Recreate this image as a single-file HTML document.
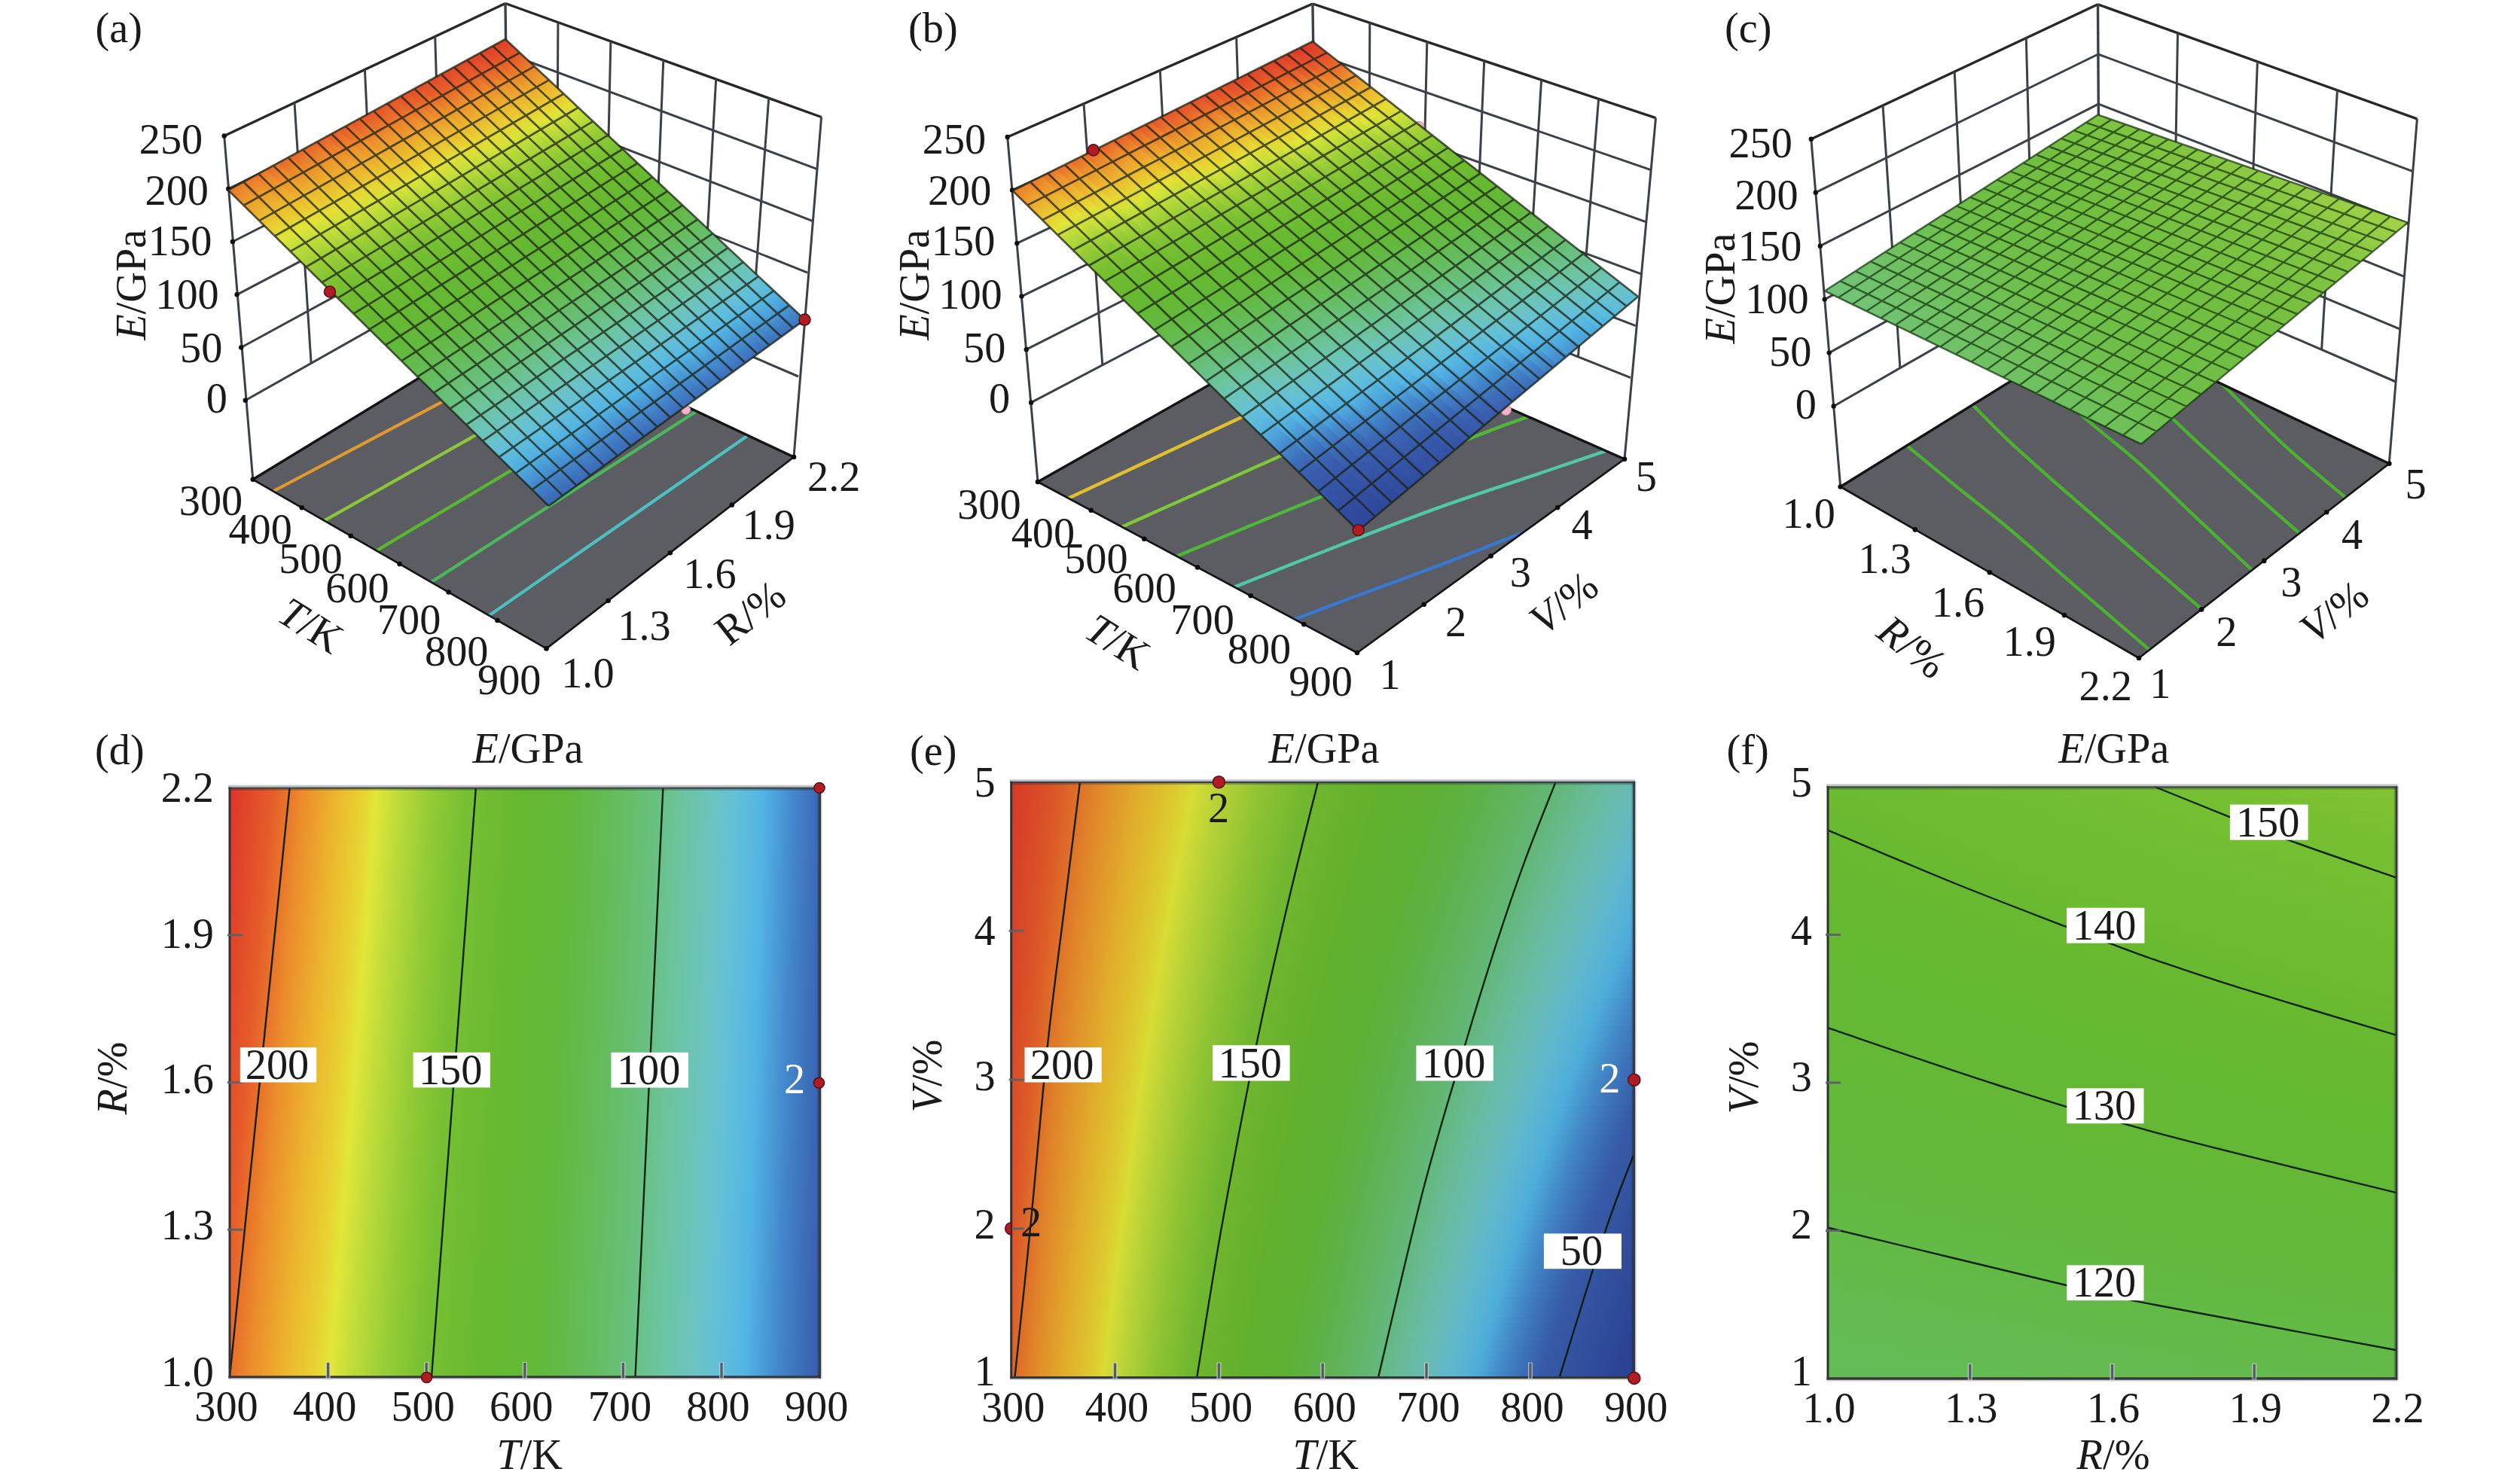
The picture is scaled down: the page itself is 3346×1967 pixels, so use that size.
<!DOCTYPE html>
<html lang="en"><head><meta charset="utf-8"><title>Response surfaces of E</title>
<style>html,body{margin:0;padding:0;background:#fff}svg{display:block}text{font-family:"Liberation Serif", "DejaVu Serif", serif;}</style></head>
<body>
<svg width="3346" height="1967" viewBox="0 0 3346 1967">
<rect width="3346" height="1967" fill="#fff"/>
<defs>
<linearGradient id="cm" gradientUnits="userSpaceOnUse"><stop offset="0.0000" stop-color="#d02428"/><stop offset="0.1091" stop-color="#dc302a"/><stop offset="0.1682" stop-color="#e65c2a"/><stop offset="0.2059" stop-color="#ec8e2c"/><stop offset="0.2468" stop-color="#ecb82e"/><stop offset="0.2741" stop-color="#e8d032"/><stop offset="0.2936" stop-color="#e2e638"/><stop offset="0.3182" stop-color="#c0dc3a"/><stop offset="0.3568" stop-color="#96cc36"/><stop offset="0.3977" stop-color="#78c032"/><stop offset="0.4668" stop-color="#66b830"/><stop offset="0.5227" stop-color="#62b838"/><stop offset="0.5773" stop-color="#64bc58"/><stop offset="0.6318" stop-color="#68c080"/><stop offset="0.6591" stop-color="#6cc49c"/><stop offset="0.7005" stop-color="#6cc4c0"/><stop offset="0.7273" stop-color="#64c0d8"/><stop offset="0.7605" stop-color="#52b4e4"/><stop offset="0.7959" stop-color="#4488cc"/><stop offset="0.8245" stop-color="#3c6cb8"/><stop offset="0.8391" stop-color="#3a60b0"/><stop offset="0.8727" stop-color="#3656a8"/><stop offset="0.9318" stop-color="#30489c"/><stop offset="1.0000" stop-color="#2c4094"/></linearGradient>
<clipPath id="c1"><polygon points="335.8,636.8 725.5,861.4 1054,607 676,429"/></clipPath>
<linearGradient id="g2" gradientUnits="userSpaceOnUse" x1="311.4" y1="247.9" x2="736.3" y2="666.3"><stop offset="0.000" stop-color="#e9782b"/><stop offset="0.032" stop-color="#ec932c"/><stop offset="0.064" stop-color="#eca92d"/><stop offset="0.097" stop-color="#ebbe2f"/><stop offset="0.129" stop-color="#e8d132"/><stop offset="0.162" stop-color="#dee538"/><stop offset="0.194" stop-color="#c0dc3a"/><stop offset="0.227" stop-color="#a9d338"/><stop offset="0.259" stop-color="#93cb36"/><stop offset="0.292" stop-color="#83c534"/><stop offset="0.325" stop-color="#76bf32"/><stop offset="0.358" stop-color="#71bd31"/><stop offset="0.391" stop-color="#6bba31"/><stop offset="0.424" stop-color="#66b830"/><stop offset="0.457" stop-color="#64b833"/><stop offset="0.491" stop-color="#63b836"/><stop offset="0.524" stop-color="#62b93d"/><stop offset="0.558" stop-color="#63ba4a"/><stop offset="0.591" stop-color="#64bc57"/><stop offset="0.625" stop-color="#65bd66"/><stop offset="0.658" stop-color="#67bf76"/><stop offset="0.692" stop-color="#69c187"/><stop offset="0.726" stop-color="#6cc49d"/><stop offset="0.760" stop-color="#6cc4b0"/><stop offset="0.794" stop-color="#6bc4c2"/><stop offset="0.828" stop-color="#65c0d6"/><stop offset="0.862" stop-color="#5ab9df"/><stop offset="0.897" stop-color="#4fabdf"/><stop offset="0.931" stop-color="#4791d1"/><stop offset="0.965" stop-color="#407ac2"/><stop offset="1.000" stop-color="#3b66b4"/></linearGradient>
<linearGradient id="g3" gradientUnits="userSpaceOnUse" x1="328.2" y1="238.8" x2="751.8" y2="655"><stop offset="0.000" stop-color="#e9752b"/><stop offset="0.032" stop-color="#ec912c"/><stop offset="0.064" stop-color="#eca72d"/><stop offset="0.097" stop-color="#ebbc2f"/><stop offset="0.129" stop-color="#e8cf32"/><stop offset="0.162" stop-color="#e1e638"/><stop offset="0.194" stop-color="#c3dd3a"/><stop offset="0.227" stop-color="#abd438"/><stop offset="0.260" stop-color="#95cb36"/><stop offset="0.292" stop-color="#85c534"/><stop offset="0.325" stop-color="#77c032"/><stop offset="0.358" stop-color="#71bd31"/><stop offset="0.391" stop-color="#6cbb31"/><stop offset="0.424" stop-color="#66b830"/><stop offset="0.457" stop-color="#65b833"/><stop offset="0.491" stop-color="#63b836"/><stop offset="0.524" stop-color="#62b93d"/><stop offset="0.558" stop-color="#63ba49"/><stop offset="0.591" stop-color="#64bc56"/><stop offset="0.625" stop-color="#65bd65"/><stop offset="0.658" stop-color="#67bf75"/><stop offset="0.692" stop-color="#69c186"/><stop offset="0.726" stop-color="#6cc49c"/><stop offset="0.760" stop-color="#6cc4af"/><stop offset="0.794" stop-color="#6bc4c2"/><stop offset="0.828" stop-color="#65c1d5"/><stop offset="0.862" stop-color="#5abade"/><stop offset="0.897" stop-color="#50ace0"/><stop offset="0.931" stop-color="#4792d1"/><stop offset="0.965" stop-color="#407bc3"/><stop offset="1.000" stop-color="#3b67b4"/></linearGradient>
<linearGradient id="g4" gradientUnits="userSpaceOnUse" x1="344.8" y1="229.7" x2="767.2" y2="643.8"><stop offset="0.000" stop-color="#e9712b"/><stop offset="0.032" stop-color="#ec8e2c"/><stop offset="0.064" stop-color="#eca42d"/><stop offset="0.097" stop-color="#ecba2e"/><stop offset="0.129" stop-color="#e9cd31"/><stop offset="0.162" stop-color="#e3e437"/><stop offset="0.194" stop-color="#c6de3a"/><stop offset="0.227" stop-color="#aed538"/><stop offset="0.260" stop-color="#96cc36"/><stop offset="0.292" stop-color="#86c634"/><stop offset="0.325" stop-color="#77c032"/><stop offset="0.358" stop-color="#72bd31"/><stop offset="0.391" stop-color="#6cbb31"/><stop offset="0.424" stop-color="#67b830"/><stop offset="0.458" stop-color="#65b833"/><stop offset="0.491" stop-color="#63b836"/><stop offset="0.524" stop-color="#62b83c"/><stop offset="0.558" stop-color="#63ba48"/><stop offset="0.591" stop-color="#64bc55"/><stop offset="0.625" stop-color="#65bd64"/><stop offset="0.658" stop-color="#67bf74"/><stop offset="0.692" stop-color="#69c185"/><stop offset="0.726" stop-color="#6cc49b"/><stop offset="0.760" stop-color="#6cc4ae"/><stop offset="0.794" stop-color="#6cc4c1"/><stop offset="0.828" stop-color="#65c1d4"/><stop offset="0.862" stop-color="#5bbade"/><stop offset="0.897" stop-color="#50ade0"/><stop offset="0.931" stop-color="#4793d2"/><stop offset="0.965" stop-color="#407bc3"/><stop offset="1.000" stop-color="#3b67b5"/></linearGradient>
<linearGradient id="g5" gradientUnits="userSpaceOnUse" x1="361.3" y1="220.8" x2="782.5" y2="632.7"><stop offset="0.000" stop-color="#e86e2b"/><stop offset="0.032" stop-color="#ec8a2c"/><stop offset="0.064" stop-color="#eca12d"/><stop offset="0.097" stop-color="#ecb82e"/><stop offset="0.129" stop-color="#e9cb31"/><stop offset="0.162" stop-color="#e3e237"/><stop offset="0.194" stop-color="#cadf39"/><stop offset="0.227" stop-color="#b0d638"/><stop offset="0.260" stop-color="#99cd36"/><stop offset="0.292" stop-color="#88c634"/><stop offset="0.325" stop-color="#78c032"/><stop offset="0.358" stop-color="#72be31"/><stop offset="0.391" stop-color="#6dbb31"/><stop offset="0.424" stop-color="#67b830"/><stop offset="0.458" stop-color="#65b832"/><stop offset="0.491" stop-color="#63b836"/><stop offset="0.524" stop-color="#62b83b"/><stop offset="0.558" stop-color="#63ba47"/><stop offset="0.591" stop-color="#64bc54"/><stop offset="0.625" stop-color="#65bd63"/><stop offset="0.658" stop-color="#67bf73"/><stop offset="0.692" stop-color="#69c184"/><stop offset="0.726" stop-color="#6cc49a"/><stop offset="0.760" stop-color="#6cc4ad"/><stop offset="0.794" stop-color="#6cc4c0"/><stop offset="0.828" stop-color="#66c1d3"/><stop offset="0.862" stop-color="#5bbade"/><stop offset="0.897" stop-color="#50aee1"/><stop offset="0.931" stop-color="#4894d2"/><stop offset="0.965" stop-color="#417cc3"/><stop offset="1.000" stop-color="#3b68b5"/></linearGradient>
<linearGradient id="g6" gradientUnits="userSpaceOnUse" x1="377.6" y1="211.9" x2="797.6" y2="621.7"><stop offset="0.000" stop-color="#e86a2b"/><stop offset="0.032" stop-color="#eb872c"/><stop offset="0.064" stop-color="#ec9f2d"/><stop offset="0.097" stop-color="#ecb52e"/><stop offset="0.129" stop-color="#e9c931"/><stop offset="0.162" stop-color="#e4df36"/><stop offset="0.194" stop-color="#cde039"/><stop offset="0.227" stop-color="#b2d739"/><stop offset="0.260" stop-color="#9bce36"/><stop offset="0.292" stop-color="#89c734"/><stop offset="0.325" stop-color="#79c132"/><stop offset="0.358" stop-color="#73be31"/><stop offset="0.391" stop-color="#6dbb31"/><stop offset="0.424" stop-color="#68b930"/><stop offset="0.458" stop-color="#65b832"/><stop offset="0.491" stop-color="#63b835"/><stop offset="0.524" stop-color="#62b83a"/><stop offset="0.558" stop-color="#63ba47"/><stop offset="0.591" stop-color="#64bb53"/><stop offset="0.625" stop-color="#65bd62"/><stop offset="0.659" stop-color="#67bf72"/><stop offset="0.692" stop-color="#68c082"/><stop offset="0.726" stop-color="#6cc499"/><stop offset="0.760" stop-color="#6cc4ac"/><stop offset="0.794" stop-color="#6cc4bf"/><stop offset="0.828" stop-color="#66c1d2"/><stop offset="0.862" stop-color="#5cbade"/><stop offset="0.897" stop-color="#51afe1"/><stop offset="0.931" stop-color="#4894d3"/><stop offset="0.965" stop-color="#417dc4"/><stop offset="1.000" stop-color="#3b68b5"/></linearGradient>
<linearGradient id="g7" gradientUnits="userSpaceOnUse" x1="393.8" y1="203" x2="812.6" y2="610.8"><stop offset="0.000" stop-color="#e7672a"/><stop offset="0.032" stop-color="#eb842c"/><stop offset="0.064" stop-color="#ec9c2d"/><stop offset="0.097" stop-color="#ecb32e"/><stop offset="0.129" stop-color="#eac730"/><stop offset="0.162" stop-color="#e5dc35"/><stop offset="0.194" stop-color="#d0e139"/><stop offset="0.227" stop-color="#b5d839"/><stop offset="0.260" stop-color="#9dcf37"/><stop offset="0.292" stop-color="#8bc835"/><stop offset="0.325" stop-color="#7bc132"/><stop offset="0.358" stop-color="#73be31"/><stop offset="0.391" stop-color="#6ebb31"/><stop offset="0.424" stop-color="#68b930"/><stop offset="0.458" stop-color="#65b832"/><stop offset="0.491" stop-color="#63b835"/><stop offset="0.524" stop-color="#62b839"/><stop offset="0.558" stop-color="#63ba46"/><stop offset="0.591" stop-color="#64bb52"/><stop offset="0.625" stop-color="#65bd61"/><stop offset="0.659" stop-color="#66be71"/><stop offset="0.692" stop-color="#68c081"/><stop offset="0.726" stop-color="#6bc398"/><stop offset="0.760" stop-color="#6cc4ab"/><stop offset="0.794" stop-color="#6cc4be"/><stop offset="0.828" stop-color="#66c1d1"/><stop offset="0.862" stop-color="#5cbbdd"/><stop offset="0.897" stop-color="#51b0e2"/><stop offset="0.931" stop-color="#4895d3"/><stop offset="0.965" stop-color="#417dc4"/><stop offset="1.000" stop-color="#3b69b6"/></linearGradient>
<linearGradient id="g8" gradientUnits="userSpaceOnUse" x1="409.9" y1="194.3" x2="827.5" y2="600"><stop offset="0.000" stop-color="#e7632a"/><stop offset="0.032" stop-color="#ea802b"/><stop offset="0.064" stop-color="#ec9a2d"/><stop offset="0.097" stop-color="#ecb02e"/><stop offset="0.129" stop-color="#eac430"/><stop offset="0.162" stop-color="#e5da35"/><stop offset="0.194" stop-color="#d3e239"/><stop offset="0.227" stop-color="#b7d939"/><stop offset="0.260" stop-color="#9fd037"/><stop offset="0.292" stop-color="#8cc835"/><stop offset="0.325" stop-color="#7cc233"/><stop offset="0.358" stop-color="#74be32"/><stop offset="0.391" stop-color="#6ebc31"/><stop offset="0.424" stop-color="#68b930"/><stop offset="0.458" stop-color="#65b832"/><stop offset="0.491" stop-color="#64b835"/><stop offset="0.524" stop-color="#62b838"/><stop offset="0.558" stop-color="#63ba45"/><stop offset="0.591" stop-color="#64bb52"/><stop offset="0.625" stop-color="#65bd60"/><stop offset="0.659" stop-color="#66be70"/><stop offset="0.692" stop-color="#68c080"/><stop offset="0.726" stop-color="#6bc396"/><stop offset="0.760" stop-color="#6cc4aa"/><stop offset="0.794" stop-color="#6cc4bd"/><stop offset="0.828" stop-color="#66c1d1"/><stop offset="0.862" stop-color="#5dbbdd"/><stop offset="0.897" stop-color="#51b1e2"/><stop offset="0.931" stop-color="#4996d4"/><stop offset="0.965" stop-color="#417ec5"/><stop offset="1.000" stop-color="#3c69b6"/></linearGradient>
<linearGradient id="g9" gradientUnits="userSpaceOnUse" x1="425.8" y1="185.6" x2="842.2" y2="589.3"><stop offset="0.000" stop-color="#e6602a"/><stop offset="0.032" stop-color="#ea7d2b"/><stop offset="0.064" stop-color="#ec972c"/><stop offset="0.097" stop-color="#ecae2e"/><stop offset="0.129" stop-color="#eac230"/><stop offset="0.162" stop-color="#e6d734"/><stop offset="0.194" stop-color="#d6e239"/><stop offset="0.227" stop-color="#b9da39"/><stop offset="0.260" stop-color="#a2d037"/><stop offset="0.292" stop-color="#8ec935"/><stop offset="0.325" stop-color="#7ec233"/><stop offset="0.358" stop-color="#74be32"/><stop offset="0.391" stop-color="#6fbc31"/><stop offset="0.425" stop-color="#69b930"/><stop offset="0.458" stop-color="#65b832"/><stop offset="0.491" stop-color="#64b835"/><stop offset="0.524" stop-color="#62b838"/><stop offset="0.558" stop-color="#63b944"/><stop offset="0.591" stop-color="#64bb51"/><stop offset="0.625" stop-color="#65bd5f"/><stop offset="0.659" stop-color="#66be6f"/><stop offset="0.692" stop-color="#68c07f"/><stop offset="0.726" stop-color="#6bc395"/><stop offset="0.760" stop-color="#6cc4a9"/><stop offset="0.794" stop-color="#6cc4bc"/><stop offset="0.828" stop-color="#67c1d0"/><stop offset="0.862" stop-color="#5dbbdd"/><stop offset="0.897" stop-color="#51b2e3"/><stop offset="0.931" stop-color="#4997d4"/><stop offset="0.965" stop-color="#417ec5"/><stop offset="1.000" stop-color="#3c6ab6"/></linearGradient>
<linearGradient id="g10" gradientUnits="userSpaceOnUse" x1="441.6" y1="177" x2="856.8" y2="578.6"><stop offset="0.000" stop-color="#e65c2a"/><stop offset="0.032" stop-color="#ea792b"/><stop offset="0.064" stop-color="#ec952c"/><stop offset="0.097" stop-color="#ecab2d"/><stop offset="0.129" stop-color="#ebc02f"/><stop offset="0.162" stop-color="#e7d533"/><stop offset="0.194" stop-color="#d9e339"/><stop offset="0.227" stop-color="#bcda3a"/><stop offset="0.260" stop-color="#a4d137"/><stop offset="0.293" stop-color="#8fc935"/><stop offset="0.325" stop-color="#7fc333"/><stop offset="0.358" stop-color="#75bf32"/><stop offset="0.391" stop-color="#6fbc31"/><stop offset="0.425" stop-color="#69ba30"/><stop offset="0.458" stop-color="#65b831"/><stop offset="0.491" stop-color="#64b834"/><stop offset="0.524" stop-color="#62b838"/><stop offset="0.558" stop-color="#63b943"/><stop offset="0.591" stop-color="#63bb50"/><stop offset="0.625" stop-color="#65bd5e"/><stop offset="0.659" stop-color="#66be6e"/><stop offset="0.692" stop-color="#68c07e"/><stop offset="0.726" stop-color="#6bc394"/><stop offset="0.760" stop-color="#6cc4a8"/><stop offset="0.794" stop-color="#6cc4bb"/><stop offset="0.828" stop-color="#67c1cf"/><stop offset="0.862" stop-color="#5ebcdc"/><stop offset="0.897" stop-color="#52b3e4"/><stop offset="0.931" stop-color="#4998d5"/><stop offset="0.965" stop-color="#417fc6"/><stop offset="1.000" stop-color="#3c6ab7"/></linearGradient>
<linearGradient id="g11" gradientUnits="userSpaceOnUse" x1="457.3" y1="168.5" x2="871.3" y2="568.1"><stop offset="0.000" stop-color="#e65a2a"/><stop offset="0.032" stop-color="#e9762b"/><stop offset="0.064" stop-color="#ec922c"/><stop offset="0.097" stop-color="#eca92d"/><stop offset="0.129" stop-color="#ebbe2f"/><stop offset="0.162" stop-color="#e7d233"/><stop offset="0.194" stop-color="#dce438"/><stop offset="0.227" stop-color="#bedb3a"/><stop offset="0.260" stop-color="#a6d238"/><stop offset="0.293" stop-color="#91ca35"/><stop offset="0.325" stop-color="#81c333"/><stop offset="0.358" stop-color="#75bf32"/><stop offset="0.391" stop-color="#70bc31"/><stop offset="0.425" stop-color="#6aba30"/><stop offset="0.458" stop-color="#65b831"/><stop offset="0.491" stop-color="#64b834"/><stop offset="0.524" stop-color="#62b837"/><stop offset="0.558" stop-color="#63b942"/><stop offset="0.591" stop-color="#63bb4f"/><stop offset="0.625" stop-color="#65bd5d"/><stop offset="0.659" stop-color="#66be6d"/><stop offset="0.692" stop-color="#68c07d"/><stop offset="0.726" stop-color="#6bc393"/><stop offset="0.760" stop-color="#6cc4a7"/><stop offset="0.794" stop-color="#6cc4bb"/><stop offset="0.828" stop-color="#67c2ce"/><stop offset="0.862" stop-color="#5ebcdc"/><stop offset="0.897" stop-color="#52b4e4"/><stop offset="0.931" stop-color="#4999d5"/><stop offset="0.965" stop-color="#4280c6"/><stop offset="1.000" stop-color="#3c6ab7"/></linearGradient>
<linearGradient id="g12" gradientUnits="userSpaceOnUse" x1="472.8" y1="160" x2="885.7" y2="557.6"><stop offset="0.000" stop-color="#e5582a"/><stop offset="0.032" stop-color="#e9732b"/><stop offset="0.064" stop-color="#ec8f2c"/><stop offset="0.097" stop-color="#eca62d"/><stop offset="0.129" stop-color="#ebbc2f"/><stop offset="0.162" stop-color="#e8d032"/><stop offset="0.194" stop-color="#dfe538"/><stop offset="0.227" stop-color="#c1dc3a"/><stop offset="0.260" stop-color="#a8d338"/><stop offset="0.293" stop-color="#92cb36"/><stop offset="0.325" stop-color="#82c433"/><stop offset="0.358" stop-color="#76bf32"/><stop offset="0.391" stop-color="#70bc31"/><stop offset="0.425" stop-color="#6aba30"/><stop offset="0.458" stop-color="#66b831"/><stop offset="0.491" stop-color="#64b834"/><stop offset="0.524" stop-color="#62b837"/><stop offset="0.558" stop-color="#63b941"/><stop offset="0.591" stop-color="#63bb4e"/><stop offset="0.625" stop-color="#64bc5c"/><stop offset="0.659" stop-color="#66be6c"/><stop offset="0.692" stop-color="#68c07c"/><stop offset="0.726" stop-color="#6bc392"/><stop offset="0.760" stop-color="#6cc4a7"/><stop offset="0.794" stop-color="#6cc4ba"/><stop offset="0.828" stop-color="#68c2cd"/><stop offset="0.863" stop-color="#5ebcdc"/><stop offset="0.897" stop-color="#52b4e4"/><stop offset="0.931" stop-color="#4a9ad6"/><stop offset="0.966" stop-color="#4280c7"/><stop offset="1.000" stop-color="#3c6bb7"/></linearGradient>
<linearGradient id="g13" gradientUnits="userSpaceOnUse" x1="488.2" y1="151.6" x2="899.9" y2="547.3"><stop offset="0.000" stop-color="#e5562a"/><stop offset="0.032" stop-color="#e86f2b"/><stop offset="0.064" stop-color="#ec8c2c"/><stop offset="0.097" stop-color="#eca42d"/><stop offset="0.129" stop-color="#ecba2e"/><stop offset="0.162" stop-color="#e8cd32"/><stop offset="0.194" stop-color="#e2e638"/><stop offset="0.227" stop-color="#c4dd3a"/><stop offset="0.260" stop-color="#abd438"/><stop offset="0.293" stop-color="#94cb36"/><stop offset="0.326" stop-color="#84c534"/><stop offset="0.358" stop-color="#76bf32"/><stop offset="0.392" stop-color="#71bd31"/><stop offset="0.425" stop-color="#6bba31"/><stop offset="0.458" stop-color="#66b831"/><stop offset="0.491" stop-color="#64b834"/><stop offset="0.525" stop-color="#63b837"/><stop offset="0.558" stop-color="#63b940"/><stop offset="0.591" stop-color="#63bb4d"/><stop offset="0.625" stop-color="#64bc5b"/><stop offset="0.659" stop-color="#66be6b"/><stop offset="0.693" stop-color="#68c07c"/><stop offset="0.726" stop-color="#6ac291"/><stop offset="0.760" stop-color="#6cc4a6"/><stop offset="0.794" stop-color="#6cc4b9"/><stop offset="0.828" stop-color="#68c2cd"/><stop offset="0.863" stop-color="#5fbddb"/><stop offset="0.897" stop-color="#53b5e3"/><stop offset="0.931" stop-color="#4a9bd6"/><stop offset="0.966" stop-color="#4281c7"/><stop offset="1.000" stop-color="#3c6bb8"/></linearGradient>
<linearGradient id="g14" gradientUnits="userSpaceOnUse" x1="503.5" y1="143.2" x2="914.1" y2="537"><stop offset="0.000" stop-color="#e4542a"/><stop offset="0.032" stop-color="#e86c2b"/><stop offset="0.065" stop-color="#eb892c"/><stop offset="0.097" stop-color="#eca12d"/><stop offset="0.129" stop-color="#ecb82e"/><stop offset="0.162" stop-color="#e9cb31"/><stop offset="0.194" stop-color="#e3e337"/><stop offset="0.227" stop-color="#c7de3a"/><stop offset="0.260" stop-color="#add538"/><stop offset="0.293" stop-color="#95cc36"/><stop offset="0.326" stop-color="#85c534"/><stop offset="0.359" stop-color="#77bf32"/><stop offset="0.392" stop-color="#71bd31"/><stop offset="0.425" stop-color="#6bba31"/><stop offset="0.458" stop-color="#66b830"/><stop offset="0.491" stop-color="#64b833"/><stop offset="0.525" stop-color="#63b837"/><stop offset="0.558" stop-color="#62b940"/><stop offset="0.592" stop-color="#63bb4d"/><stop offset="0.625" stop-color="#64bc5a"/><stop offset="0.659" stop-color="#66be6a"/><stop offset="0.693" stop-color="#67bf7b"/><stop offset="0.726" stop-color="#6ac28f"/><stop offset="0.760" stop-color="#6cc4a5"/><stop offset="0.794" stop-color="#6cc4b8"/><stop offset="0.828" stop-color="#68c2cc"/><stop offset="0.863" stop-color="#5fbddb"/><stop offset="0.897" stop-color="#53b5e3"/><stop offset="0.931" stop-color="#4a9bd7"/><stop offset="0.966" stop-color="#4282c7"/><stop offset="1.000" stop-color="#3c6cb8"/></linearGradient>
<linearGradient id="g15" gradientUnits="userSpaceOnUse" x1="518.7" y1="135" x2="928.1" y2="526.8"><stop offset="0.000" stop-color="#e4522a"/><stop offset="0.032" stop-color="#e7682a"/><stop offset="0.065" stop-color="#eb862c"/><stop offset="0.097" stop-color="#ec9f2d"/><stop offset="0.129" stop-color="#ecb52e"/><stop offset="0.162" stop-color="#e9c931"/><stop offset="0.194" stop-color="#e3e137"/><stop offset="0.227" stop-color="#cadf39"/><stop offset="0.260" stop-color="#afd638"/><stop offset="0.293" stop-color="#97cc36"/><stop offset="0.326" stop-color="#86c634"/><stop offset="0.359" stop-color="#77c032"/><stop offset="0.392" stop-color="#71bd31"/><stop offset="0.425" stop-color="#6cbb31"/><stop offset="0.458" stop-color="#66b830"/><stop offset="0.491" stop-color="#64b833"/><stop offset="0.525" stop-color="#63b836"/><stop offset="0.558" stop-color="#62b93f"/><stop offset="0.592" stop-color="#63ba4c"/><stop offset="0.625" stop-color="#64bc59"/><stop offset="0.659" stop-color="#66be6a"/><stop offset="0.693" stop-color="#67bf7a"/><stop offset="0.726" stop-color="#6ac28e"/><stop offset="0.760" stop-color="#6cc4a4"/><stop offset="0.794" stop-color="#6cc4b7"/><stop offset="0.828" stop-color="#68c2cb"/><stop offset="0.863" stop-color="#60bddb"/><stop offset="0.897" stop-color="#54b5e3"/><stop offset="0.931" stop-color="#4a9cd7"/><stop offset="0.966" stop-color="#4282c8"/><stop offset="1.000" stop-color="#3c6cb8"/></linearGradient>
<linearGradient id="g16" gradientUnits="userSpaceOnUse" x1="533.8" y1="126.8" x2="942" y2="516.7"><stop offset="0.000" stop-color="#e3502a"/><stop offset="0.032" stop-color="#e7652a"/><stop offset="0.065" stop-color="#eb822c"/><stop offset="0.097" stop-color="#ec9c2d"/><stop offset="0.129" stop-color="#ecb32e"/><stop offset="0.162" stop-color="#e9c731"/><stop offset="0.194" stop-color="#e4de36"/><stop offset="0.227" stop-color="#cde039"/><stop offset="0.260" stop-color="#b2d739"/><stop offset="0.293" stop-color="#99cd36"/><stop offset="0.326" stop-color="#88c634"/><stop offset="0.359" stop-color="#78c032"/><stop offset="0.392" stop-color="#72bd31"/><stop offset="0.425" stop-color="#6cbb31"/><stop offset="0.458" stop-color="#66b830"/><stop offset="0.491" stop-color="#64b833"/><stop offset="0.525" stop-color="#63b836"/><stop offset="0.558" stop-color="#62b93e"/><stop offset="0.592" stop-color="#63ba4b"/><stop offset="0.625" stop-color="#64bc58"/><stop offset="0.659" stop-color="#66be69"/><stop offset="0.693" stop-color="#67bf79"/><stop offset="0.726" stop-color="#6ac28d"/><stop offset="0.760" stop-color="#6cc4a3"/><stop offset="0.794" stop-color="#6cc4b6"/><stop offset="0.828" stop-color="#69c2ca"/><stop offset="0.863" stop-color="#60beda"/><stop offset="0.897" stop-color="#54b5e3"/><stop offset="0.931" stop-color="#4b9dd8"/><stop offset="0.966" stop-color="#4383c8"/><stop offset="1.000" stop-color="#3c6db9"/></linearGradient>
<linearGradient id="g17" gradientUnits="userSpaceOnUse" x1="548.7" y1="118.6" x2="955.8" y2="506.6"><stop offset="0.000" stop-color="#e34e2a"/><stop offset="0.032" stop-color="#e7612a"/><stop offset="0.065" stop-color="#ea7f2b"/><stop offset="0.097" stop-color="#ec9a2d"/><stop offset="0.129" stop-color="#ecb12e"/><stop offset="0.162" stop-color="#eac530"/><stop offset="0.194" stop-color="#e5dc35"/><stop offset="0.227" stop-color="#d0e139"/><stop offset="0.260" stop-color="#b4d739"/><stop offset="0.293" stop-color="#9bce37"/><stop offset="0.326" stop-color="#89c734"/><stop offset="0.359" stop-color="#79c032"/><stop offset="0.392" stop-color="#72be31"/><stop offset="0.425" stop-color="#6dbb31"/><stop offset="0.458" stop-color="#67b830"/><stop offset="0.491" stop-color="#65b833"/><stop offset="0.525" stop-color="#63b836"/><stop offset="0.558" stop-color="#62b93d"/><stop offset="0.592" stop-color="#63ba4a"/><stop offset="0.625" stop-color="#64bc57"/><stop offset="0.659" stop-color="#66be68"/><stop offset="0.693" stop-color="#67bf78"/><stop offset="0.726" stop-color="#6ac28c"/><stop offset="0.760" stop-color="#6cc4a2"/><stop offset="0.794" stop-color="#6cc4b5"/><stop offset="0.828" stop-color="#69c2c9"/><stop offset="0.863" stop-color="#61beda"/><stop offset="0.897" stop-color="#55b6e2"/><stop offset="0.931" stop-color="#4b9ed8"/><stop offset="0.966" stop-color="#4383c9"/><stop offset="1.000" stop-color="#3c6db9"/></linearGradient>
<linearGradient id="g18" gradientUnits="userSpaceOnUse" x1="563.5" y1="110.6" x2="969.4" y2="496.7"><stop offset="0.000" stop-color="#e24c2a"/><stop offset="0.032" stop-color="#e65e2a"/><stop offset="0.065" stop-color="#ea7c2b"/><stop offset="0.097" stop-color="#ec972c"/><stop offset="0.129" stop-color="#ecae2e"/><stop offset="0.162" stop-color="#eac330"/><stop offset="0.195" stop-color="#e6d934"/><stop offset="0.227" stop-color="#d3e139"/><stop offset="0.260" stop-color="#b6d839"/><stop offset="0.293" stop-color="#9ecf37"/><stop offset="0.326" stop-color="#8bc734"/><stop offset="0.359" stop-color="#7ac132"/><stop offset="0.392" stop-color="#73be31"/><stop offset="0.425" stop-color="#6dbb31"/><stop offset="0.458" stop-color="#67b930"/><stop offset="0.491" stop-color="#65b833"/><stop offset="0.525" stop-color="#63b836"/><stop offset="0.558" stop-color="#62b93c"/><stop offset="0.592" stop-color="#63ba49"/><stop offset="0.625" stop-color="#64bc57"/><stop offset="0.659" stop-color="#65bd67"/><stop offset="0.693" stop-color="#67bf77"/><stop offset="0.726" stop-color="#6ac28b"/><stop offset="0.760" stop-color="#6cc4a1"/><stop offset="0.794" stop-color="#6cc4b5"/><stop offset="0.828" stop-color="#69c3c8"/><stop offset="0.863" stop-color="#61beda"/><stop offset="0.897" stop-color="#55b6e2"/><stop offset="0.931" stop-color="#4b9fd9"/><stop offset="0.966" stop-color="#4384c9"/><stop offset="1.000" stop-color="#3d6eb9"/></linearGradient>
<linearGradient id="g19" gradientUnits="userSpaceOnUse" x1="578.2" y1="102.6" x2="983" y2="486.8"><stop offset="0.000" stop-color="#e24a2a"/><stop offset="0.032" stop-color="#e65b2a"/><stop offset="0.065" stop-color="#e9782b"/><stop offset="0.097" stop-color="#ec952c"/><stop offset="0.129" stop-color="#ecac2d"/><stop offset="0.162" stop-color="#eac130"/><stop offset="0.195" stop-color="#e6d734"/><stop offset="0.227" stop-color="#d6e239"/><stop offset="0.260" stop-color="#b8d939"/><stop offset="0.293" stop-color="#a0d037"/><stop offset="0.326" stop-color="#8cc835"/><stop offset="0.359" stop-color="#7cc132"/><stop offset="0.392" stop-color="#73be31"/><stop offset="0.425" stop-color="#6dbb31"/><stop offset="0.458" stop-color="#68b930"/><stop offset="0.491" stop-color="#65b832"/><stop offset="0.525" stop-color="#63b836"/><stop offset="0.558" stop-color="#62b83b"/><stop offset="0.592" stop-color="#63ba49"/><stop offset="0.625" stop-color="#64bc56"/><stop offset="0.659" stop-color="#65bd66"/><stop offset="0.693" stop-color="#67bf76"/><stop offset="0.727" stop-color="#69c18a"/><stop offset="0.760" stop-color="#6cc4a0"/><stop offset="0.794" stop-color="#6cc4b4"/><stop offset="0.828" stop-color="#69c3c8"/><stop offset="0.863" stop-color="#62beda"/><stop offset="0.897" stop-color="#55b6e2"/><stop offset="0.931" stop-color="#4ca0d9"/><stop offset="0.966" stop-color="#4385ca"/><stop offset="1.000" stop-color="#3d6fba"/></linearGradient>
<linearGradient id="g20" gradientUnits="userSpaceOnUse" x1="592.8" y1="94.6" x2="996.4" y2="477"><stop offset="0.000" stop-color="#e2482a"/><stop offset="0.032" stop-color="#e5592a"/><stop offset="0.065" stop-color="#e9752b"/><stop offset="0.097" stop-color="#ec922c"/><stop offset="0.129" stop-color="#eca92d"/><stop offset="0.162" stop-color="#ebbf2f"/><stop offset="0.195" stop-color="#e7d433"/><stop offset="0.227" stop-color="#d9e339"/><stop offset="0.260" stop-color="#bbda39"/><stop offset="0.293" stop-color="#a2d137"/><stop offset="0.326" stop-color="#8ec935"/><stop offset="0.359" stop-color="#7dc233"/><stop offset="0.392" stop-color="#74be32"/><stop offset="0.425" stop-color="#6ebc31"/><stop offset="0.458" stop-color="#68b930"/><stop offset="0.491" stop-color="#65b832"/><stop offset="0.525" stop-color="#63b835"/><stop offset="0.558" stop-color="#62b83a"/><stop offset="0.592" stop-color="#63ba48"/><stop offset="0.625" stop-color="#64bc55"/><stop offset="0.659" stop-color="#65bd65"/><stop offset="0.693" stop-color="#67bf75"/><stop offset="0.727" stop-color="#69c189"/><stop offset="0.760" stop-color="#6cc49f"/><stop offset="0.794" stop-color="#6cc4b3"/><stop offset="0.828" stop-color="#6ac3c7"/><stop offset="0.863" stop-color="#62bfd9"/><stop offset="0.897" stop-color="#56b7e1"/><stop offset="0.931" stop-color="#4ca1d9"/><stop offset="0.966" stop-color="#4385ca"/><stop offset="1.000" stop-color="#3d6fba"/></linearGradient>
<linearGradient id="g21" gradientUnits="userSpaceOnUse" x1="607.3" y1="86.7" x2="1009.8" y2="467.3"><stop offset="0.000" stop-color="#e1462a"/><stop offset="0.032" stop-color="#e5572a"/><stop offset="0.065" stop-color="#e9722b"/><stop offset="0.097" stop-color="#ec8f2c"/><stop offset="0.129" stop-color="#eca72d"/><stop offset="0.162" stop-color="#ebbd2f"/><stop offset="0.195" stop-color="#e8d232"/><stop offset="0.227" stop-color="#dce438"/><stop offset="0.260" stop-color="#bddb3a"/><stop offset="0.293" stop-color="#a4d137"/><stop offset="0.326" stop-color="#8fc935"/><stop offset="0.359" stop-color="#7ec333"/><stop offset="0.392" stop-color="#74be32"/><stop offset="0.425" stop-color="#6ebc31"/><stop offset="0.458" stop-color="#68b930"/><stop offset="0.491" stop-color="#65b832"/><stop offset="0.525" stop-color="#63b835"/><stop offset="0.558" stop-color="#62b83a"/><stop offset="0.592" stop-color="#63ba47"/><stop offset="0.625" stop-color="#64bc54"/><stop offset="0.659" stop-color="#65bd64"/><stop offset="0.693" stop-color="#67bf75"/><stop offset="0.727" stop-color="#69c187"/><stop offset="0.760" stop-color="#6cc49e"/><stop offset="0.794" stop-color="#6cc4b2"/><stop offset="0.829" stop-color="#6ac3c6"/><stop offset="0.863" stop-color="#63bfd9"/><stop offset="0.897" stop-color="#56b7e1"/><stop offset="0.931" stop-color="#4ca2da"/><stop offset="0.966" stop-color="#4386cb"/><stop offset="1.000" stop-color="#3d70bb"/></linearGradient>
<linearGradient id="g22" gradientUnits="userSpaceOnUse" x1="621.6" y1="78.9" x2="1023" y2="457.7"><stop offset="0.000" stop-color="#e1442a"/><stop offset="0.032" stop-color="#e5552a"/><stop offset="0.065" stop-color="#e86e2b"/><stop offset="0.097" stop-color="#ec8d2c"/><stop offset="0.129" stop-color="#eca42d"/><stop offset="0.162" stop-color="#ebbb2f"/><stop offset="0.195" stop-color="#e8cf32"/><stop offset="0.227" stop-color="#dfe538"/><stop offset="0.260" stop-color="#bfdc3a"/><stop offset="0.293" stop-color="#a7d238"/><stop offset="0.326" stop-color="#90ca35"/><stop offset="0.359" stop-color="#80c333"/><stop offset="0.392" stop-color="#75bf32"/><stop offset="0.425" stop-color="#6fbc31"/><stop offset="0.458" stop-color="#69b930"/><stop offset="0.491" stop-color="#65b832"/><stop offset="0.525" stop-color="#64b835"/><stop offset="0.558" stop-color="#62b839"/><stop offset="0.592" stop-color="#63ba46"/><stop offset="0.625" stop-color="#64bb53"/><stop offset="0.659" stop-color="#65bd63"/><stop offset="0.693" stop-color="#67bf74"/><stop offset="0.727" stop-color="#69c186"/><stop offset="0.761" stop-color="#6cc49d"/><stop offset="0.794" stop-color="#6cc4b1"/><stop offset="0.829" stop-color="#6ac3c5"/><stop offset="0.863" stop-color="#63bfd9"/><stop offset="0.897" stop-color="#57b7e1"/><stop offset="0.931" stop-color="#4ca2da"/><stop offset="0.966" stop-color="#4487cb"/><stop offset="1.000" stop-color="#3d70bb"/></linearGradient>
<linearGradient id="g23" gradientUnits="userSpaceOnUse" x1="635.9" y1="71.1" x2="1036.1" y2="448.1"><stop offset="0.000" stop-color="#e0422a"/><stop offset="0.032" stop-color="#e4532a"/><stop offset="0.065" stop-color="#e86b2b"/><stop offset="0.097" stop-color="#eb892c"/><stop offset="0.129" stop-color="#eca22d"/><stop offset="0.162" stop-color="#ecb92e"/><stop offset="0.195" stop-color="#e8cd32"/><stop offset="0.227" stop-color="#e2e638"/><stop offset="0.260" stop-color="#c2dd3a"/><stop offset="0.293" stop-color="#a9d338"/><stop offset="0.326" stop-color="#92ca35"/><stop offset="0.359" stop-color="#81c433"/><stop offset="0.392" stop-color="#75bf32"/><stop offset="0.425" stop-color="#6fbc31"/><stop offset="0.458" stop-color="#69b930"/><stop offset="0.491" stop-color="#65b831"/><stop offset="0.525" stop-color="#64b835"/><stop offset="0.558" stop-color="#62b838"/><stop offset="0.592" stop-color="#63ba45"/><stop offset="0.625" stop-color="#64bb53"/><stop offset="0.659" stop-color="#65bd62"/><stop offset="0.693" stop-color="#67bf73"/><stop offset="0.727" stop-color="#69c185"/><stop offset="0.761" stop-color="#6cc49c"/><stop offset="0.795" stop-color="#6cc4b0"/><stop offset="0.829" stop-color="#6bc3c4"/><stop offset="0.863" stop-color="#64c0d8"/><stop offset="0.897" stop-color="#57b7e1"/><stop offset="0.931" stop-color="#4da3db"/><stop offset="0.966" stop-color="#4487cb"/><stop offset="1.000" stop-color="#3d71bb"/></linearGradient>
<linearGradient id="g24" gradientUnits="userSpaceOnUse" x1="650" y1="63.4" x2="1049.2" y2="438.7"><stop offset="0.000" stop-color="#e0402a"/><stop offset="0.032" stop-color="#e4522a"/><stop offset="0.065" stop-color="#e7682a"/><stop offset="0.097" stop-color="#eb862c"/><stop offset="0.129" stop-color="#eca02d"/><stop offset="0.162" stop-color="#ecb72e"/><stop offset="0.195" stop-color="#e9cb31"/><stop offset="0.227" stop-color="#e3e437"/><stop offset="0.260" stop-color="#c5dd3a"/><stop offset="0.293" stop-color="#abd438"/><stop offset="0.326" stop-color="#93cb36"/><stop offset="0.359" stop-color="#82c433"/><stop offset="0.392" stop-color="#76bf32"/><stop offset="0.425" stop-color="#70bc31"/><stop offset="0.458" stop-color="#6aba30"/><stop offset="0.492" stop-color="#65b831"/><stop offset="0.525" stop-color="#64b834"/><stop offset="0.558" stop-color="#62b838"/><stop offset="0.592" stop-color="#63ba44"/><stop offset="0.625" stop-color="#64bb52"/><stop offset="0.659" stop-color="#65bd61"/><stop offset="0.693" stop-color="#67bf72"/><stop offset="0.727" stop-color="#69c184"/><stop offset="0.761" stop-color="#6cc49b"/><stop offset="0.795" stop-color="#6cc4af"/><stop offset="0.829" stop-color="#6bc3c4"/><stop offset="0.863" stop-color="#64c0d8"/><stop offset="0.897" stop-color="#58b8e0"/><stop offset="0.931" stop-color="#4da4db"/><stop offset="0.966" stop-color="#4488cc"/><stop offset="1.000" stop-color="#3e71bc"/></linearGradient>
<linearGradient id="g25" gradientUnits="userSpaceOnUse" x1="664" y1="55.8" x2="1062.1" y2="429.3"><stop offset="0.000" stop-color="#df3f2a"/><stop offset="0.032" stop-color="#e3502a"/><stop offset="0.065" stop-color="#e7642a"/><stop offset="0.097" stop-color="#eb832c"/><stop offset="0.129" stop-color="#ec9d2d"/><stop offset="0.162" stop-color="#ecb52e"/><stop offset="0.195" stop-color="#e9c931"/><stop offset="0.227" stop-color="#e3e137"/><stop offset="0.260" stop-color="#c8de3a"/><stop offset="0.293" stop-color="#add538"/><stop offset="0.326" stop-color="#95cb36"/><stop offset="0.359" stop-color="#84c534"/><stop offset="0.392" stop-color="#76bf32"/><stop offset="0.425" stop-color="#70bd31"/><stop offset="0.458" stop-color="#6aba30"/><stop offset="0.492" stop-color="#66b831"/><stop offset="0.525" stop-color="#64b834"/><stop offset="0.558" stop-color="#62b838"/><stop offset="0.592" stop-color="#63b944"/><stop offset="0.625" stop-color="#64bb51"/><stop offset="0.659" stop-color="#65bd60"/><stop offset="0.693" stop-color="#67bf71"/><stop offset="0.727" stop-color="#68c083"/><stop offset="0.761" stop-color="#6cc49a"/><stop offset="0.795" stop-color="#6cc4af"/><stop offset="0.829" stop-color="#6bc4c3"/><stop offset="0.863" stop-color="#64c0d7"/><stop offset="0.897" stop-color="#58b8e0"/><stop offset="0.931" stop-color="#4da5dc"/><stop offset="0.966" stop-color="#4489cc"/><stop offset="1.000" stop-color="#3e72bc"/></linearGradient>
<clipPath id="c26"><polygon points="1378,640 1802,867 2157,609.8 1749,430"/></clipPath>
<linearGradient id="g27" gradientUnits="userSpaceOnUse" x1="1354.4" y1="248.4" x2="1813" y2="697.1"><stop offset="0.000" stop-color="#ea7e2b"/><stop offset="0.028" stop-color="#ec9b2d"/><stop offset="0.057" stop-color="#ecb52e"/><stop offset="0.086" stop-color="#e9cc31"/><stop offset="0.115" stop-color="#e1e638"/><stop offset="0.145" stop-color="#bedb3a"/><stop offset="0.175" stop-color="#a3d137"/><stop offset="0.205" stop-color="#8cc835"/><stop offset="0.236" stop-color="#7ac132"/><stop offset="0.267" stop-color="#72bd31"/><stop offset="0.298" stop-color="#6bba31"/><stop offset="0.329" stop-color="#66b831"/><stop offset="0.361" stop-color="#64b834"/><stop offset="0.394" stop-color="#62b838"/><stop offset="0.426" stop-color="#63ba46"/><stop offset="0.459" stop-color="#64bc55"/><stop offset="0.492" stop-color="#65bd66"/><stop offset="0.526" stop-color="#67bf79"/><stop offset="0.560" stop-color="#6ac290"/><stop offset="0.594" stop-color="#6cc4a8"/><stop offset="0.629" stop-color="#6cc4be"/><stop offset="0.664" stop-color="#65c1d4"/><stop offset="0.700" stop-color="#59b8e0"/><stop offset="0.736" stop-color="#4da4db"/><stop offset="0.772" stop-color="#4385ca"/><stop offset="0.809" stop-color="#3c6db9"/><stop offset="0.847" stop-color="#395dae"/><stop offset="0.884" stop-color="#3656a8"/><stop offset="0.922" stop-color="#3350a3"/><stop offset="0.961" stop-color="#314a9d"/><stop offset="1.000" stop-color="#2f469a"/></linearGradient>
<linearGradient id="g28" gradientUnits="userSpaceOnUse" x1="1373.9" y1="238.7" x2="1831.6" y2="681.5"><stop offset="0.000" stop-color="#ea7a2b"/><stop offset="0.028" stop-color="#ec982c"/><stop offset="0.057" stop-color="#ecb22e"/><stop offset="0.086" stop-color="#e9c931"/><stop offset="0.116" stop-color="#e3e337"/><stop offset="0.145" stop-color="#c4dd3a"/><stop offset="0.175" stop-color="#a8d338"/><stop offset="0.205" stop-color="#90c935"/><stop offset="0.236" stop-color="#7dc233"/><stop offset="0.267" stop-color="#73be31"/><stop offset="0.298" stop-color="#6dbb31"/><stop offset="0.330" stop-color="#66b830"/><stop offset="0.362" stop-color="#64b833"/><stop offset="0.394" stop-color="#63b837"/><stop offset="0.426" stop-color="#63b942"/><stop offset="0.459" stop-color="#64bb51"/><stop offset="0.493" stop-color="#65bd62"/><stop offset="0.526" stop-color="#67bf74"/><stop offset="0.560" stop-color="#69c189"/><stop offset="0.595" stop-color="#6cc4a2"/><stop offset="0.630" stop-color="#6cc4b7"/><stop offset="0.665" stop-color="#68c2cd"/><stop offset="0.700" stop-color="#5dbbdd"/><stop offset="0.736" stop-color="#50aee1"/><stop offset="0.773" stop-color="#468fd0"/><stop offset="0.809" stop-color="#3f75be"/><stop offset="0.847" stop-color="#3a60b0"/><stop offset="0.884" stop-color="#3758aa"/><stop offset="0.922" stop-color="#3452a4"/><stop offset="0.961" stop-color="#324c9f"/><stop offset="1.000" stop-color="#30479b"/></linearGradient>
<linearGradient id="g29" gradientUnits="userSpaceOnUse" x1="1393" y1="229.1" x2="1849.9" y2="666.2"><stop offset="0.000" stop-color="#e9752b"/><stop offset="0.029" stop-color="#ec942c"/><stop offset="0.057" stop-color="#ecae2e"/><stop offset="0.086" stop-color="#eac530"/><stop offset="0.116" stop-color="#e4de36"/><stop offset="0.145" stop-color="#cadf39"/><stop offset="0.175" stop-color="#add538"/><stop offset="0.206" stop-color="#93cb36"/><stop offset="0.236" stop-color="#81c433"/><stop offset="0.267" stop-color="#75bf32"/><stop offset="0.298" stop-color="#6ebc31"/><stop offset="0.330" stop-color="#68b930"/><stop offset="0.362" stop-color="#65b833"/><stop offset="0.394" stop-color="#63b836"/><stop offset="0.427" stop-color="#62b93f"/><stop offset="0.460" stop-color="#63bb4d"/><stop offset="0.493" stop-color="#64bc5d"/><stop offset="0.527" stop-color="#66be6f"/><stop offset="0.561" stop-color="#68c082"/><stop offset="0.595" stop-color="#6cc49b"/><stop offset="0.630" stop-color="#6cc4b1"/><stop offset="0.665" stop-color="#6ac3c7"/><stop offset="0.701" stop-color="#61beda"/><stop offset="0.737" stop-color="#54b5e3"/><stop offset="0.773" stop-color="#4999d5"/><stop offset="0.810" stop-color="#417dc4"/><stop offset="0.847" stop-color="#3b66b4"/><stop offset="0.885" stop-color="#385bac"/><stop offset="0.923" stop-color="#3554a6"/><stop offset="0.961" stop-color="#334ea1"/><stop offset="1.000" stop-color="#30489c"/></linearGradient>
<linearGradient id="g30" gradientUnits="userSpaceOnUse" x1="1411.9" y1="219.7" x2="1867.9" y2="651.1"><stop offset="0.000" stop-color="#e9712b"/><stop offset="0.029" stop-color="#ec912c"/><stop offset="0.057" stop-color="#ecaa2d"/><stop offset="0.086" stop-color="#eac230"/><stop offset="0.116" stop-color="#e5d935"/><stop offset="0.146" stop-color="#cfe139"/><stop offset="0.176" stop-color="#b1d639"/><stop offset="0.206" stop-color="#97cc36"/><stop offset="0.237" stop-color="#84c534"/><stop offset="0.268" stop-color="#76bf32"/><stop offset="0.299" stop-color="#70bc31"/><stop offset="0.330" stop-color="#69b930"/><stop offset="0.362" stop-color="#65b832"/><stop offset="0.395" stop-color="#63b835"/><stop offset="0.427" stop-color="#62b83b"/><stop offset="0.460" stop-color="#63ba4a"/><stop offset="0.493" stop-color="#64bc58"/><stop offset="0.527" stop-color="#66be6a"/><stop offset="0.561" stop-color="#68c07c"/><stop offset="0.595" stop-color="#6bc394"/><stop offset="0.630" stop-color="#6cc4aa"/><stop offset="0.665" stop-color="#6cc4c0"/><stop offset="0.701" stop-color="#65c0d6"/><stop offset="0.737" stop-color="#58b8e0"/><stop offset="0.773" stop-color="#4da3db"/><stop offset="0.810" stop-color="#4385ca"/><stop offset="0.847" stop-color="#3c6db9"/><stop offset="0.885" stop-color="#395dae"/><stop offset="0.923" stop-color="#3656a8"/><stop offset="0.961" stop-color="#3450a3"/><stop offset="1.000" stop-color="#314a9e"/></linearGradient>
<linearGradient id="g31" gradientUnits="userSpaceOnUse" x1="1430.5" y1="210.5" x2="1885.5" y2="636.3"><stop offset="0.000" stop-color="#e86d2b"/><stop offset="0.029" stop-color="#ec8d2c"/><stop offset="0.057" stop-color="#eca62d"/><stop offset="0.087" stop-color="#ebbe2f"/><stop offset="0.116" stop-color="#e7d533"/><stop offset="0.146" stop-color="#d5e239"/><stop offset="0.176" stop-color="#b6d839"/><stop offset="0.206" stop-color="#9cce37"/><stop offset="0.237" stop-color="#88c634"/><stop offset="0.268" stop-color="#77c032"/><stop offset="0.299" stop-color="#71bd31"/><stop offset="0.331" stop-color="#6bba31"/><stop offset="0.363" stop-color="#66b831"/><stop offset="0.395" stop-color="#64b834"/><stop offset="0.427" stop-color="#62b838"/><stop offset="0.460" stop-color="#63ba46"/><stop offset="0.494" stop-color="#64bc54"/><stop offset="0.527" stop-color="#65bd65"/><stop offset="0.561" stop-color="#67bf77"/><stop offset="0.596" stop-color="#6ac28c"/><stop offset="0.631" stop-color="#6cc4a4"/><stop offset="0.666" stop-color="#6cc4b9"/><stop offset="0.701" stop-color="#67c2cf"/><stop offset="0.737" stop-color="#5cbbdd"/><stop offset="0.773" stop-color="#50ade0"/><stop offset="0.810" stop-color="#468fd0"/><stop offset="0.847" stop-color="#3f76bf"/><stop offset="0.885" stop-color="#3a60b0"/><stop offset="0.923" stop-color="#3759aa"/><stop offset="0.961" stop-color="#3452a5"/><stop offset="1.000" stop-color="#324da0"/></linearGradient>
<linearGradient id="g32" gradientUnits="userSpaceOnUse" x1="1448.8" y1="201.4" x2="1902.8" y2="621.8"><stop offset="0.000" stop-color="#e8692b"/><stop offset="0.029" stop-color="#eb892c"/><stop offset="0.058" stop-color="#eca32d"/><stop offset="0.087" stop-color="#ecbb2e"/><stop offset="0.116" stop-color="#e8d032"/><stop offset="0.146" stop-color="#dbe438"/><stop offset="0.176" stop-color="#bbda3a"/><stop offset="0.206" stop-color="#a1d037"/><stop offset="0.237" stop-color="#8cc835"/><stop offset="0.268" stop-color="#7ac132"/><stop offset="0.299" stop-color="#72be31"/><stop offset="0.331" stop-color="#6cbb31"/><stop offset="0.363" stop-color="#66b830"/><stop offset="0.395" stop-color="#64b834"/><stop offset="0.428" stop-color="#62b837"/><stop offset="0.461" stop-color="#63b942"/><stop offset="0.494" stop-color="#64bb50"/><stop offset="0.528" stop-color="#65bd60"/><stop offset="0.562" stop-color="#67bf72"/><stop offset="0.596" stop-color="#69c185"/><stop offset="0.631" stop-color="#6cc49e"/><stop offset="0.666" stop-color="#6cc4b3"/><stop offset="0.701" stop-color="#69c3c8"/><stop offset="0.737" stop-color="#61beda"/><stop offset="0.774" stop-color="#54b5e3"/><stop offset="0.810" stop-color="#4a9ad6"/><stop offset="0.847" stop-color="#417ec5"/><stop offset="0.885" stop-color="#3b68b5"/><stop offset="0.923" stop-color="#385cac"/><stop offset="0.961" stop-color="#3555a7"/><stop offset="1.000" stop-color="#334fa2"/></linearGradient>
<linearGradient id="g33" gradientUnits="userSpaceOnUse" x1="1466.8" y1="192.4" x2="1919.8" y2="607.6"><stop offset="0.000" stop-color="#e7642a"/><stop offset="0.029" stop-color="#eb842c"/><stop offset="0.058" stop-color="#ec9f2d"/><stop offset="0.087" stop-color="#ecb82e"/><stop offset="0.116" stop-color="#e9cd31"/><stop offset="0.146" stop-color="#e1e638"/><stop offset="0.176" stop-color="#c0dc3a"/><stop offset="0.207" stop-color="#a6d238"/><stop offset="0.237" stop-color="#8fc935"/><stop offset="0.268" stop-color="#7ec233"/><stop offset="0.300" stop-color="#74be32"/><stop offset="0.331" stop-color="#6ebb31"/><stop offset="0.363" stop-color="#67b930"/><stop offset="0.395" stop-color="#65b833"/><stop offset="0.428" stop-color="#63b836"/><stop offset="0.461" stop-color="#62b93e"/><stop offset="0.494" stop-color="#63bb4d"/><stop offset="0.528" stop-color="#64bc5b"/><stop offset="0.562" stop-color="#66be6d"/><stop offset="0.596" stop-color="#68c07e"/><stop offset="0.631" stop-color="#6bc396"/><stop offset="0.666" stop-color="#6cc4ac"/><stop offset="0.702" stop-color="#6cc4c1"/><stop offset="0.738" stop-color="#65c0d6"/><stop offset="0.774" stop-color="#58b8e0"/><stop offset="0.811" stop-color="#4da4db"/><stop offset="0.848" stop-color="#4487cb"/><stop offset="0.885" stop-color="#3d6fba"/><stop offset="0.923" stop-color="#395eaf"/><stop offset="0.961" stop-color="#3657a9"/><stop offset="1.000" stop-color="#3451a4"/></linearGradient>
<linearGradient id="g34" gradientUnits="userSpaceOnUse" x1="1484.6" y1="183.6" x2="1936.6" y2="593.6"><stop offset="0.000" stop-color="#e6602a"/><stop offset="0.029" stop-color="#ea802b"/><stop offset="0.058" stop-color="#ec9b2d"/><stop offset="0.087" stop-color="#ecb42e"/><stop offset="0.116" stop-color="#e9c931"/><stop offset="0.146" stop-color="#e3e237"/><stop offset="0.176" stop-color="#c6de3a"/><stop offset="0.207" stop-color="#abd438"/><stop offset="0.238" stop-color="#93cb36"/><stop offset="0.269" stop-color="#81c433"/><stop offset="0.300" stop-color="#75bf32"/><stop offset="0.332" stop-color="#6fbc31"/><stop offset="0.363" stop-color="#69b930"/><stop offset="0.396" stop-color="#65b832"/><stop offset="0.428" stop-color="#63b835"/><stop offset="0.461" stop-color="#62b83b"/><stop offset="0.495" stop-color="#63ba49"/><stop offset="0.528" stop-color="#64bc57"/><stop offset="0.562" stop-color="#66be68"/><stop offset="0.597" stop-color="#67bf79"/><stop offset="0.631" stop-color="#6ac28f"/><stop offset="0.667" stop-color="#6cc4a5"/><stop offset="0.702" stop-color="#6cc4ba"/><stop offset="0.738" stop-color="#67c1cf"/><stop offset="0.774" stop-color="#5dbbdd"/><stop offset="0.811" stop-color="#50afe1"/><stop offset="0.848" stop-color="#4791d1"/><stop offset="0.885" stop-color="#3f78c1"/><stop offset="0.923" stop-color="#3a63b2"/><stop offset="0.961" stop-color="#385aab"/><stop offset="1.000" stop-color="#3553a6"/></linearGradient>
<linearGradient id="g35" gradientUnits="userSpaceOnUse" x1="1502.1" y1="174.9" x2="1953" y2="579.9"><stop offset="0.000" stop-color="#e65c2a"/><stop offset="0.029" stop-color="#ea7b2b"/><stop offset="0.058" stop-color="#ec972c"/><stop offset="0.087" stop-color="#ecb02e"/><stop offset="0.117" stop-color="#eac630"/><stop offset="0.146" stop-color="#e4dd36"/><stop offset="0.177" stop-color="#cce039"/><stop offset="0.207" stop-color="#b0d638"/><stop offset="0.238" stop-color="#97cc36"/><stop offset="0.269" stop-color="#85c534"/><stop offset="0.300" stop-color="#77bf32"/><stop offset="0.332" stop-color="#70bd31"/><stop offset="0.364" stop-color="#6aba30"/><stop offset="0.396" stop-color="#65b831"/><stop offset="0.429" stop-color="#64b834"/><stop offset="0.462" stop-color="#62b838"/><stop offset="0.495" stop-color="#63ba45"/><stop offset="0.529" stop-color="#64bb53"/><stop offset="0.563" stop-color="#65bd63"/><stop offset="0.597" stop-color="#67bf74"/><stop offset="0.632" stop-color="#69c187"/><stop offset="0.667" stop-color="#6cc49f"/><stop offset="0.702" stop-color="#6cc4b3"/><stop offset="0.738" stop-color="#69c3c8"/><stop offset="0.774" stop-color="#61beda"/><stop offset="0.811" stop-color="#54b5e3"/><stop offset="0.848" stop-color="#4a9cd7"/><stop offset="0.885" stop-color="#4281c7"/><stop offset="0.923" stop-color="#3c6ab7"/><stop offset="0.961" stop-color="#395dad"/><stop offset="1.000" stop-color="#3656a8"/></linearGradient>
<linearGradient id="g36" gradientUnits="userSpaceOnUse" x1="1519.3" y1="166.3" x2="1969.1" y2="566.4"><stop offset="0.000" stop-color="#e55a2a"/><stop offset="0.029" stop-color="#e9772b"/><stop offset="0.058" stop-color="#ec942c"/><stop offset="0.087" stop-color="#ecac2d"/><stop offset="0.117" stop-color="#eac230"/><stop offset="0.147" stop-color="#e6d834"/><stop offset="0.177" stop-color="#d3e139"/><stop offset="0.207" stop-color="#b5d839"/><stop offset="0.238" stop-color="#9cce37"/><stop offset="0.269" stop-color="#89c734"/><stop offset="0.300" stop-color="#78c032"/><stop offset="0.332" stop-color="#72bd31"/><stop offset="0.364" stop-color="#6cbb31"/><stop offset="0.396" stop-color="#66b830"/><stop offset="0.429" stop-color="#64b834"/><stop offset="0.462" stop-color="#63b837"/><stop offset="0.495" stop-color="#63b941"/><stop offset="0.529" stop-color="#63bb4f"/><stop offset="0.563" stop-color="#65bd5d"/><stop offset="0.597" stop-color="#66be6f"/><stop offset="0.632" stop-color="#68c080"/><stop offset="0.667" stop-color="#6bc397"/><stop offset="0.703" stop-color="#6cc4ac"/><stop offset="0.738" stop-color="#6cc4c1"/><stop offset="0.775" stop-color="#65c0d6"/><stop offset="0.811" stop-color="#59b9df"/><stop offset="0.848" stop-color="#4ea7dd"/><stop offset="0.885" stop-color="#458acd"/><stop offset="0.923" stop-color="#3e72bd"/><stop offset="0.961" stop-color="#3a5faf"/><stop offset="1.000" stop-color="#3758aa"/></linearGradient>
<linearGradient id="g37" gradientUnits="userSpaceOnUse" x1="1536.2" y1="157.9" x2="1985" y2="553.1"><stop offset="0.000" stop-color="#e5572a"/><stop offset="0.029" stop-color="#e9722b"/><stop offset="0.058" stop-color="#ec902c"/><stop offset="0.087" stop-color="#eca82d"/><stop offset="0.117" stop-color="#ebbe2f"/><stop offset="0.147" stop-color="#e7d433"/><stop offset="0.177" stop-color="#d9e339"/><stop offset="0.207" stop-color="#bada39"/><stop offset="0.238" stop-color="#a1d037"/><stop offset="0.269" stop-color="#8dc835"/><stop offset="0.301" stop-color="#7cc132"/><stop offset="0.332" stop-color="#73be31"/><stop offset="0.364" stop-color="#6dbb31"/><stop offset="0.397" stop-color="#67b930"/><stop offset="0.429" stop-color="#65b833"/><stop offset="0.462" stop-color="#63b836"/><stop offset="0.496" stop-color="#62b93d"/><stop offset="0.529" stop-color="#63ba4b"/><stop offset="0.563" stop-color="#64bc58"/><stop offset="0.598" stop-color="#66be69"/><stop offset="0.632" stop-color="#67bf7a"/><stop offset="0.667" stop-color="#6ac290"/><stop offset="0.703" stop-color="#6cc4a6"/><stop offset="0.739" stop-color="#6cc4ba"/><stop offset="0.775" stop-color="#67c2ce"/><stop offset="0.811" stop-color="#5dbcdc"/><stop offset="0.848" stop-color="#51b1e3"/><stop offset="0.886" stop-color="#4895d3"/><stop offset="0.923" stop-color="#407bc3"/><stop offset="0.961" stop-color="#3b66b4"/><stop offset="1.000" stop-color="#385bac"/></linearGradient>
<linearGradient id="g38" gradientUnits="userSpaceOnUse" x1="1553" y1="149.5" x2="2000.5" y2="540.1"><stop offset="0.000" stop-color="#e4552a"/><stop offset="0.029" stop-color="#e86d2b"/><stop offset="0.058" stop-color="#ec8c2c"/><stop offset="0.087" stop-color="#eca42d"/><stop offset="0.117" stop-color="#ecbb2e"/><stop offset="0.147" stop-color="#e8cf32"/><stop offset="0.177" stop-color="#dfe538"/><stop offset="0.208" stop-color="#bfdc3a"/><stop offset="0.238" stop-color="#a6d238"/><stop offset="0.270" stop-color="#90ca35"/><stop offset="0.301" stop-color="#80c333"/><stop offset="0.333" stop-color="#75bf32"/><stop offset="0.365" stop-color="#6fbc31"/><stop offset="0.397" stop-color="#69b930"/><stop offset="0.430" stop-color="#65b832"/><stop offset="0.463" stop-color="#63b835"/><stop offset="0.496" stop-color="#62b839"/><stop offset="0.530" stop-color="#63ba47"/><stop offset="0.564" stop-color="#64bc54"/><stop offset="0.598" stop-color="#65bd64"/><stop offset="0.633" stop-color="#67bf75"/><stop offset="0.668" stop-color="#69c188"/><stop offset="0.703" stop-color="#6cc49f"/><stop offset="0.739" stop-color="#6cc4b3"/><stop offset="0.775" stop-color="#6ac3c7"/><stop offset="0.811" stop-color="#62bfd9"/><stop offset="0.848" stop-color="#55b6e2"/><stop offset="0.886" stop-color="#4ba0d9"/><stop offset="0.923" stop-color="#4384c9"/><stop offset="0.961" stop-color="#3d6eb9"/><stop offset="1.000" stop-color="#395eae"/></linearGradient>
<linearGradient id="g39" gradientUnits="userSpaceOnUse" x1="1569.4" y1="141.3" x2="2015.9" y2="527.2"><stop offset="0.000" stop-color="#e4522a"/><stop offset="0.029" stop-color="#e8692b"/><stop offset="0.058" stop-color="#eb872c"/><stop offset="0.087" stop-color="#eca02d"/><stop offset="0.117" stop-color="#ecb72e"/><stop offset="0.147" stop-color="#e9cb31"/><stop offset="0.177" stop-color="#e3e337"/><stop offset="0.208" stop-color="#c6de3a"/><stop offset="0.239" stop-color="#acd438"/><stop offset="0.270" stop-color="#94cb36"/><stop offset="0.301" stop-color="#83c534"/><stop offset="0.333" stop-color="#76bf32"/><stop offset="0.365" stop-color="#70bd31"/><stop offset="0.397" stop-color="#6aba30"/><stop offset="0.430" stop-color="#66b831"/><stop offset="0.463" stop-color="#64b834"/><stop offset="0.496" stop-color="#62b837"/><stop offset="0.530" stop-color="#63b943"/><stop offset="0.564" stop-color="#64bb50"/><stop offset="0.598" stop-color="#65bd5f"/><stop offset="0.633" stop-color="#66be6f"/><stop offset="0.668" stop-color="#68c080"/><stop offset="0.703" stop-color="#6bc397"/><stop offset="0.739" stop-color="#6cc4ac"/><stop offset="0.775" stop-color="#6cc4c0"/><stop offset="0.812" stop-color="#65c1d4"/><stop offset="0.849" stop-color="#5ab9df"/><stop offset="0.886" stop-color="#4fabdf"/><stop offset="0.923" stop-color="#468ecf"/><stop offset="0.962" stop-color="#3f77c0"/><stop offset="1.000" stop-color="#3a62b2"/></linearGradient>
<linearGradient id="g40" gradientUnits="userSpaceOnUse" x1="1585.7" y1="133.3" x2="2030.9" y2="514.6"><stop offset="0.000" stop-color="#e3502a"/><stop offset="0.029" stop-color="#e7642a"/><stop offset="0.058" stop-color="#eb822c"/><stop offset="0.087" stop-color="#ec9c2d"/><stop offset="0.117" stop-color="#ecb32e"/><stop offset="0.147" stop-color="#e9c831"/><stop offset="0.177" stop-color="#e4de36"/><stop offset="0.208" stop-color="#cce039"/><stop offset="0.239" stop-color="#b1d639"/><stop offset="0.270" stop-color="#99cd36"/><stop offset="0.301" stop-color="#87c634"/><stop offset="0.333" stop-color="#78c032"/><stop offset="0.365" stop-color="#72bd31"/><stop offset="0.398" stop-color="#6cbb31"/><stop offset="0.430" stop-color="#66b830"/><stop offset="0.463" stop-color="#64b833"/><stop offset="0.497" stop-color="#63b836"/><stop offset="0.530" stop-color="#62b93f"/><stop offset="0.564" stop-color="#63ba4c"/><stop offset="0.598" stop-color="#64bc59"/><stop offset="0.633" stop-color="#66be6a"/><stop offset="0.668" stop-color="#67bf7a"/><stop offset="0.704" stop-color="#6ac28f"/><stop offset="0.739" stop-color="#6cc4a5"/><stop offset="0.775" stop-color="#6cc4b8"/><stop offset="0.812" stop-color="#68c2cc"/><stop offset="0.849" stop-color="#5fbddb"/><stop offset="0.886" stop-color="#53b4e4"/><stop offset="0.924" stop-color="#4a9ad6"/><stop offset="0.962" stop-color="#4280c6"/><stop offset="1.000" stop-color="#3c6ab7"/></linearGradient>
<linearGradient id="g41" gradientUnits="userSpaceOnUse" x1="1601.7" y1="125.3" x2="2045.7" y2="502.2"><stop offset="0.000" stop-color="#e34e2a"/><stop offset="0.029" stop-color="#e6602a"/><stop offset="0.058" stop-color="#ea7d2b"/><stop offset="0.088" stop-color="#ec982c"/><stop offset="0.117" stop-color="#ecaf2e"/><stop offset="0.147" stop-color="#eac430"/><stop offset="0.178" stop-color="#e5d935"/><stop offset="0.208" stop-color="#d3e139"/><stop offset="0.239" stop-color="#b6d839"/><stop offset="0.270" stop-color="#9ecf37"/><stop offset="0.302" stop-color="#8bc835"/><stop offset="0.333" stop-color="#7bc132"/><stop offset="0.365" stop-color="#73be31"/><stop offset="0.398" stop-color="#6dbb31"/><stop offset="0.430" stop-color="#68b930"/><stop offset="0.463" stop-color="#65b832"/><stop offset="0.497" stop-color="#63b836"/><stop offset="0.530" stop-color="#62b83b"/><stop offset="0.564" stop-color="#63ba48"/><stop offset="0.599" stop-color="#64bc55"/><stop offset="0.633" stop-color="#65bd65"/><stop offset="0.668" stop-color="#67bf75"/><stop offset="0.704" stop-color="#69c187"/><stop offset="0.739" stop-color="#6cc49e"/><stop offset="0.776" stop-color="#6cc4b1"/><stop offset="0.812" stop-color="#6ac3c5"/><stop offset="0.849" stop-color="#64c0d8"/><stop offset="0.886" stop-color="#57b8e0"/><stop offset="0.924" stop-color="#4da5dc"/><stop offset="0.962" stop-color="#4489cd"/><stop offset="1.000" stop-color="#3e73bd"/></linearGradient>
<linearGradient id="g42" gradientUnits="userSpaceOnUse" x1="1617.4" y1="117.4" x2="2060.3" y2="490"><stop offset="0.000" stop-color="#e24b2a"/><stop offset="0.029" stop-color="#e65c2a"/><stop offset="0.058" stop-color="#e9792b"/><stop offset="0.088" stop-color="#ec942c"/><stop offset="0.117" stop-color="#ecab2d"/><stop offset="0.147" stop-color="#ebc02f"/><stop offset="0.178" stop-color="#e7d433"/><stop offset="0.208" stop-color="#d9e339"/><stop offset="0.239" stop-color="#bcda3a"/><stop offset="0.270" stop-color="#a4d137"/><stop offset="0.302" stop-color="#8fc935"/><stop offset="0.334" stop-color="#7fc333"/><stop offset="0.366" stop-color="#75bf32"/><stop offset="0.398" stop-color="#6fbc31"/><stop offset="0.431" stop-color="#69b930"/><stop offset="0.464" stop-color="#65b831"/><stop offset="0.497" stop-color="#64b835"/><stop offset="0.531" stop-color="#62b838"/><stop offset="0.565" stop-color="#63b944"/><stop offset="0.599" stop-color="#64bb51"/><stop offset="0.634" stop-color="#65bd5f"/><stop offset="0.669" stop-color="#66be6f"/><stop offset="0.704" stop-color="#68c080"/><stop offset="0.740" stop-color="#6bc396"/><stop offset="0.776" stop-color="#6cc4aa"/><stop offset="0.812" stop-color="#6cc4bd"/><stop offset="0.849" stop-color="#66c1d1"/><stop offset="0.886" stop-color="#5cbbdd"/><stop offset="0.924" stop-color="#51b0e2"/><stop offset="0.962" stop-color="#4895d3"/><stop offset="1.000" stop-color="#417cc4"/></linearGradient>
<linearGradient id="g43" gradientUnits="userSpaceOnUse" x1="1633" y1="109.7" x2="2074.6" y2="478"><stop offset="0.000" stop-color="#e2492a"/><stop offset="0.029" stop-color="#e5592a"/><stop offset="0.058" stop-color="#e9742b"/><stop offset="0.088" stop-color="#ec902c"/><stop offset="0.118" stop-color="#eca72d"/><stop offset="0.148" stop-color="#ebbc2f"/><stop offset="0.178" stop-color="#e8cf32"/><stop offset="0.209" stop-color="#e0e538"/><stop offset="0.239" stop-color="#c1dc3a"/><stop offset="0.271" stop-color="#a9d338"/><stop offset="0.302" stop-color="#93cb36"/><stop offset="0.334" stop-color="#83c433"/><stop offset="0.366" stop-color="#76bf32"/><stop offset="0.398" stop-color="#70bd31"/><stop offset="0.431" stop-color="#6bba31"/><stop offset="0.464" stop-color="#66b831"/><stop offset="0.497" stop-color="#64b834"/><stop offset="0.531" stop-color="#63b837"/><stop offset="0.565" stop-color="#62b940"/><stop offset="0.599" stop-color="#63bb4d"/><stop offset="0.634" stop-color="#64bc5a"/><stop offset="0.669" stop-color="#66be6a"/><stop offset="0.704" stop-color="#67bf7a"/><stop offset="0.740" stop-color="#6ac28e"/><stop offset="0.776" stop-color="#6cc4a3"/><stop offset="0.812" stop-color="#6cc4b6"/><stop offset="0.849" stop-color="#69c2c9"/><stop offset="0.886" stop-color="#61beda"/><stop offset="0.924" stop-color="#55b6e2"/><stop offset="0.962" stop-color="#4ca0d9"/><stop offset="1.000" stop-color="#4386ca"/></linearGradient>
<linearGradient id="g44" gradientUnits="userSpaceOnUse" x1="1648.3" y1="102.1" x2="2088.7" y2="466.2"><stop offset="0.000" stop-color="#e1462a"/><stop offset="0.029" stop-color="#e5562a"/><stop offset="0.058" stop-color="#e86f2b"/><stop offset="0.088" stop-color="#ec8c2c"/><stop offset="0.118" stop-color="#eca22d"/><stop offset="0.148" stop-color="#ecb92e"/><stop offset="0.178" stop-color="#e9cc31"/><stop offset="0.209" stop-color="#e3e337"/><stop offset="0.240" stop-color="#c8de3a"/><stop offset="0.271" stop-color="#afd538"/><stop offset="0.302" stop-color="#97cc36"/><stop offset="0.334" stop-color="#87c634"/><stop offset="0.366" stop-color="#78c032"/><stop offset="0.399" stop-color="#72bd31"/><stop offset="0.431" stop-color="#6cbb31"/><stop offset="0.464" stop-color="#67b830"/><stop offset="0.498" stop-color="#65b833"/><stop offset="0.531" stop-color="#63b836"/><stop offset="0.565" stop-color="#62b83c"/><stop offset="0.600" stop-color="#63ba48"/><stop offset="0.634" stop-color="#64bc55"/><stop offset="0.669" stop-color="#65bd64"/><stop offset="0.704" stop-color="#67bf74"/><stop offset="0.740" stop-color="#69c186"/><stop offset="0.776" stop-color="#6cc49c"/><stop offset="0.813" stop-color="#6cc4af"/><stop offset="0.849" stop-color="#6bc4c2"/><stop offset="0.886" stop-color="#65c1d5"/><stop offset="0.924" stop-color="#5ab9df"/><stop offset="0.962" stop-color="#4facdf"/><stop offset="1.000" stop-color="#4791d1"/></linearGradient>
<linearGradient id="g45" gradientUnits="userSpaceOnUse" x1="1663.4" y1="94.6" x2="2102.6" y2="454.6"><stop offset="0.000" stop-color="#e1442a"/><stop offset="0.029" stop-color="#e4542a"/><stop offset="0.058" stop-color="#e86a2b"/><stop offset="0.088" stop-color="#eb862c"/><stop offset="0.118" stop-color="#ec9e2d"/><stop offset="0.148" stop-color="#ecb42e"/><stop offset="0.178" stop-color="#e9c831"/><stop offset="0.209" stop-color="#e4dd36"/><stop offset="0.240" stop-color="#cfe039"/><stop offset="0.271" stop-color="#b4d839"/><stop offset="0.303" stop-color="#9dcf37"/><stop offset="0.334" stop-color="#8bc835"/><stop offset="0.366" stop-color="#7bc132"/><stop offset="0.399" stop-color="#74be32"/><stop offset="0.432" stop-color="#6ebc31"/><stop offset="0.465" stop-color="#68b930"/><stop offset="0.498" stop-color="#65b832"/><stop offset="0.532" stop-color="#64b835"/><stop offset="0.565" stop-color="#62b838"/><stop offset="0.600" stop-color="#63ba44"/><stop offset="0.634" stop-color="#64bb51"/><stop offset="0.669" stop-color="#65bd5f"/><stop offset="0.705" stop-color="#66be6e"/><stop offset="0.740" stop-color="#68c07e"/><stop offset="0.776" stop-color="#6bc393"/><stop offset="0.813" stop-color="#6cc4a7"/><stop offset="0.849" stop-color="#6cc4ba"/><stop offset="0.886" stop-color="#68c2cd"/><stop offset="0.924" stop-color="#5fbddb"/><stop offset="0.962" stop-color="#53b5e3"/><stop offset="1.000" stop-color="#4b9dd7"/></linearGradient>
<linearGradient id="g46" gradientUnits="userSpaceOnUse" x1="1678.3" y1="87.1" x2="2116.2" y2="443.2"><stop offset="0.000" stop-color="#e0422a"/><stop offset="0.029" stop-color="#e4512a"/><stop offset="0.058" stop-color="#e7652a"/><stop offset="0.088" stop-color="#ea812b"/><stop offset="0.118" stop-color="#ec9a2d"/><stop offset="0.148" stop-color="#ecb02e"/><stop offset="0.178" stop-color="#eac430"/><stop offset="0.209" stop-color="#e6d834"/><stop offset="0.240" stop-color="#d6e239"/><stop offset="0.271" stop-color="#bada39"/><stop offset="0.303" stop-color="#a3d137"/><stop offset="0.335" stop-color="#8fc935"/><stop offset="0.367" stop-color="#7fc333"/><stop offset="0.399" stop-color="#75bf32"/><stop offset="0.432" stop-color="#70bc31"/><stop offset="0.465" stop-color="#6aba30"/><stop offset="0.498" stop-color="#66b831"/><stop offset="0.532" stop-color="#64b834"/><stop offset="0.566" stop-color="#63b837"/><stop offset="0.600" stop-color="#62b940"/><stop offset="0.635" stop-color="#63bb4c"/><stop offset="0.670" stop-color="#64bc59"/><stop offset="0.705" stop-color="#66be69"/><stop offset="0.741" stop-color="#67bf78"/><stop offset="0.777" stop-color="#6ac28b"/><stop offset="0.813" stop-color="#6cc4a0"/><stop offset="0.850" stop-color="#6cc4b2"/><stop offset="0.887" stop-color="#6ac3c5"/><stop offset="0.924" stop-color="#64c0d8"/><stop offset="0.962" stop-color="#58b8e0"/><stop offset="1.000" stop-color="#4ea8de"/></linearGradient>
<linearGradient id="g47" gradientUnits="userSpaceOnUse" x1="1693" y1="79.8" x2="2129.6" y2="432"><stop offset="0.000" stop-color="#df3f2a"/><stop offset="0.029" stop-color="#e34f2a"/><stop offset="0.058" stop-color="#e7602a"/><stop offset="0.088" stop-color="#ea7c2b"/><stop offset="0.118" stop-color="#ec962c"/><stop offset="0.148" stop-color="#ecab2d"/><stop offset="0.179" stop-color="#ebc02f"/><stop offset="0.209" stop-color="#e7d333"/><stop offset="0.240" stop-color="#dce438"/><stop offset="0.271" stop-color="#bfdc3a"/><stop offset="0.303" stop-color="#a9d338"/><stop offset="0.335" stop-color="#93cb36"/><stop offset="0.367" stop-color="#84c534"/><stop offset="0.399" stop-color="#77bf32"/><stop offset="0.432" stop-color="#71bd31"/><stop offset="0.465" stop-color="#6cbb31"/><stop offset="0.498" stop-color="#66b830"/><stop offset="0.532" stop-color="#65b833"/><stop offset="0.566" stop-color="#63b836"/><stop offset="0.600" stop-color="#62b83c"/><stop offset="0.635" stop-color="#63ba48"/><stop offset="0.670" stop-color="#64bc54"/><stop offset="0.705" stop-color="#65bd63"/><stop offset="0.741" stop-color="#67bf72"/><stop offset="0.777" stop-color="#68c082"/><stop offset="0.813" stop-color="#6bc398"/><stop offset="0.850" stop-color="#6cc4ab"/><stop offset="0.887" stop-color="#6cc4bd"/><stop offset="0.924" stop-color="#67c1d0"/><stop offset="0.962" stop-color="#5dbcdc"/><stop offset="1.000" stop-color="#52b4e4"/></linearGradient>
<linearGradient id="g48" gradientUnits="userSpaceOnUse" x1="1707.5" y1="72.6" x2="2142.9" y2="420.9"><stop offset="0.000" stop-color="#df3d2a"/><stop offset="0.029" stop-color="#e24c2a"/><stop offset="0.059" stop-color="#e65c2a"/><stop offset="0.088" stop-color="#e9772b"/><stop offset="0.118" stop-color="#ec922c"/><stop offset="0.148" stop-color="#eca72d"/><stop offset="0.179" stop-color="#ebbc2f"/><stop offset="0.209" stop-color="#e8ce32"/><stop offset="0.240" stop-color="#e2e538"/><stop offset="0.272" stop-color="#c6de3a"/><stop offset="0.303" stop-color="#aed538"/><stop offset="0.335" stop-color="#98cd36"/><stop offset="0.367" stop-color="#88c634"/><stop offset="0.400" stop-color="#79c032"/><stop offset="0.432" stop-color="#73be31"/><stop offset="0.465" stop-color="#6dbb31"/><stop offset="0.499" stop-color="#68b930"/><stop offset="0.532" stop-color="#65b832"/><stop offset="0.566" stop-color="#64b835"/><stop offset="0.601" stop-color="#62b838"/><stop offset="0.635" stop-color="#63b944"/><stop offset="0.670" stop-color="#63bb50"/><stop offset="0.705" stop-color="#65bd5d"/><stop offset="0.741" stop-color="#66be6c"/><stop offset="0.777" stop-color="#68c07c"/><stop offset="0.813" stop-color="#6ac28f"/><stop offset="0.850" stop-color="#6cc4a3"/><stop offset="0.887" stop-color="#6cc4b6"/><stop offset="0.924" stop-color="#69c3c8"/><stop offset="0.962" stop-color="#62bfd9"/><stop offset="1.000" stop-color="#57b7e1"/></linearGradient>
<linearGradient id="g49" gradientUnits="userSpaceOnUse" x1="1721.8" y1="65.5" x2="2155.9" y2="410"><stop offset="0.000" stop-color="#de3a2a"/><stop offset="0.029" stop-color="#e24a2a"/><stop offset="0.059" stop-color="#e5592a"/><stop offset="0.088" stop-color="#e9722b"/><stop offset="0.118" stop-color="#ec8d2c"/><stop offset="0.148" stop-color="#eca32d"/><stop offset="0.179" stop-color="#ecb82e"/><stop offset="0.210" stop-color="#e9ca31"/><stop offset="0.241" stop-color="#e4e036"/><stop offset="0.272" stop-color="#cde039"/><stop offset="0.303" stop-color="#b4d739"/><stop offset="0.335" stop-color="#9ecf37"/><stop offset="0.367" stop-color="#8cc835"/><stop offset="0.400" stop-color="#7dc233"/><stop offset="0.433" stop-color="#74be32"/><stop offset="0.466" stop-color="#6fbc31"/><stop offset="0.499" stop-color="#6aba30"/><stop offset="0.533" stop-color="#66b831"/><stop offset="0.567" stop-color="#64b834"/><stop offset="0.601" stop-color="#63b837"/><stop offset="0.635" stop-color="#62b93f"/><stop offset="0.670" stop-color="#63ba4b"/><stop offset="0.706" stop-color="#64bc58"/><stop offset="0.741" stop-color="#65bd67"/><stop offset="0.777" stop-color="#67bf76"/><stop offset="0.813" stop-color="#69c187"/><stop offset="0.850" stop-color="#6cc49c"/><stop offset="0.887" stop-color="#6cc4ae"/><stop offset="0.924" stop-color="#6cc4c0"/><stop offset="0.962" stop-color="#66c1d2"/><stop offset="1.000" stop-color="#5cbbdd"/></linearGradient>
<linearGradient id="g50" gradientUnits="userSpaceOnUse" x1="1735.9" y1="58.5" x2="2168.7" y2="399.3"><stop offset="0.000" stop-color="#de382a"/><stop offset="0.029" stop-color="#e1472a"/><stop offset="0.059" stop-color="#e5562a"/><stop offset="0.088" stop-color="#e86d2b"/><stop offset="0.118" stop-color="#eb882c"/><stop offset="0.149" stop-color="#ec9e2d"/><stop offset="0.179" stop-color="#ecb32e"/><stop offset="0.210" stop-color="#eac630"/><stop offset="0.241" stop-color="#e5da35"/><stop offset="0.272" stop-color="#d4e239"/><stop offset="0.304" stop-color="#bada39"/><stop offset="0.336" stop-color="#a4d137"/><stop offset="0.368" stop-color="#90ca35"/><stop offset="0.400" stop-color="#81c433"/><stop offset="0.433" stop-color="#76bf32"/><stop offset="0.466" stop-color="#71bd31"/><stop offset="0.499" stop-color="#6bba31"/><stop offset="0.533" stop-color="#66b830"/><stop offset="0.567" stop-color="#65b833"/><stop offset="0.601" stop-color="#63b836"/><stop offset="0.636" stop-color="#62b83b"/><stop offset="0.671" stop-color="#63ba47"/><stop offset="0.706" stop-color="#64bb53"/><stop offset="0.741" stop-color="#65bd61"/><stop offset="0.777" stop-color="#66be70"/><stop offset="0.813" stop-color="#68c07f"/><stop offset="0.850" stop-color="#6bc393"/><stop offset="0.887" stop-color="#6cc4a6"/><stop offset="0.924" stop-color="#6cc4b8"/><stop offset="0.962" stop-color="#69c2ca"/><stop offset="1.000" stop-color="#61beda"/></linearGradient>
<clipPath id="c51"><polygon points="2443.7,646.5 2840,874 3172.3,615.7 2788,433"/></clipPath>
<linearGradient id="g52" gradientUnits="userSpaceOnUse" x1="2431.3" y1="380.9" x2="2851.5" y2="582.7"><stop offset="0.000" stop-color="#72c378"/><stop offset="0.088" stop-color="#72c374"/><stop offset="0.178" stop-color="#71c270"/><stop offset="0.270" stop-color="#71c26d"/><stop offset="0.365" stop-color="#70c169"/><stop offset="0.463" stop-color="#70c165"/><stop offset="0.564" stop-color="#70c163"/><stop offset="0.668" stop-color="#70c060"/><stop offset="0.775" stop-color="#6fc05d"/><stop offset="0.886" stop-color="#6fc059"/><stop offset="1.000" stop-color="#6fc057"/></linearGradient>
<linearGradient id="g53" gradientUnits="userSpaceOnUse" x1="2448.3" y1="369.9" x2="2868.4" y2="568.7"><stop offset="0.000" stop-color="#71c273"/><stop offset="0.088" stop-color="#71c26f"/><stop offset="0.178" stop-color="#71c26b"/><stop offset="0.270" stop-color="#70c167"/><stop offset="0.366" stop-color="#70c164"/><stop offset="0.464" stop-color="#70c061"/><stop offset="0.565" stop-color="#70c05e"/><stop offset="0.669" stop-color="#6fc05b"/><stop offset="0.776" stop-color="#6fc058"/><stop offset="0.886" stop-color="#6fc055"/><stop offset="1.000" stop-color="#6fbf52"/></linearGradient>
<linearGradient id="g54" gradientUnits="userSpaceOnUse" x1="2465.1" y1="359" x2="2885.1" y2="554.8"><stop offset="0.000" stop-color="#71c26e"/><stop offset="0.088" stop-color="#70c16a"/><stop offset="0.178" stop-color="#70c166"/><stop offset="0.270" stop-color="#70c163"/><stop offset="0.366" stop-color="#70c060"/><stop offset="0.464" stop-color="#6fc05d"/><stop offset="0.565" stop-color="#6fc059"/><stop offset="0.669" stop-color="#6fc057"/><stop offset="0.776" stop-color="#6fc054"/><stop offset="0.886" stop-color="#6fbf50"/><stop offset="1.000" stop-color="#6fbf4d"/></linearGradient>
<linearGradient id="g55" gradientUnits="userSpaceOnUse" x1="2481.8" y1="348.3" x2="2901.6" y2="541.1"><stop offset="0.000" stop-color="#70c168"/><stop offset="0.088" stop-color="#70c164"/><stop offset="0.178" stop-color="#70c062"/><stop offset="0.271" stop-color="#70c05e"/><stop offset="0.366" stop-color="#6fc05b"/><stop offset="0.464" stop-color="#6fc058"/><stop offset="0.565" stop-color="#6fc055"/><stop offset="0.669" stop-color="#6fbf52"/><stop offset="0.776" stop-color="#6fbf4f"/><stop offset="0.886" stop-color="#6fbf4c"/><stop offset="1.000" stop-color="#6fbe49"/></linearGradient>
<linearGradient id="g56" gradientUnits="userSpaceOnUse" x1="2498.2" y1="337.7" x2="2917.8" y2="527.6"><stop offset="0.000" stop-color="#70c164"/><stop offset="0.088" stop-color="#70c060"/><stop offset="0.178" stop-color="#6fc05d"/><stop offset="0.271" stop-color="#6fc05a"/><stop offset="0.366" stop-color="#6fc057"/><stop offset="0.464" stop-color="#6fc054"/><stop offset="0.565" stop-color="#6fbf51"/><stop offset="0.669" stop-color="#6fbf4d"/><stop offset="0.776" stop-color="#6fbe4b"/><stop offset="0.886" stop-color="#6fbe48"/><stop offset="1.000" stop-color="#6fbe47"/></linearGradient>
<linearGradient id="g57" gradientUnits="userSpaceOnUse" x1="2514.5" y1="327.2" x2="2933.8" y2="514.3"><stop offset="0.000" stop-color="#70c05f"/><stop offset="0.088" stop-color="#6fc05c"/><stop offset="0.178" stop-color="#6fc058"/><stop offset="0.271" stop-color="#6fc056"/><stop offset="0.366" stop-color="#6fbf52"/><stop offset="0.464" stop-color="#6fbf4f"/><stop offset="0.565" stop-color="#6fbf4d"/><stop offset="0.669" stop-color="#6fbe49"/><stop offset="0.776" stop-color="#6fbe47"/><stop offset="0.886" stop-color="#6fbe47"/><stop offset="1.000" stop-color="#6fbe46"/></linearGradient>
<linearGradient id="g58" gradientUnits="userSpaceOnUse" x1="2530.6" y1="316.8" x2="2949.7" y2="501.1"><stop offset="0.000" stop-color="#6fc05a"/><stop offset="0.088" stop-color="#6fc058"/><stop offset="0.178" stop-color="#6fc055"/><stop offset="0.271" stop-color="#6fbf51"/><stop offset="0.367" stop-color="#6fbf4e"/><stop offset="0.465" stop-color="#6fbe4b"/><stop offset="0.566" stop-color="#6fbe48"/><stop offset="0.669" stop-color="#6fbe47"/><stop offset="0.776" stop-color="#6fbe46"/><stop offset="0.887" stop-color="#6fbe45"/><stop offset="1.000" stop-color="#70be45"/></linearGradient>
<linearGradient id="g59" gradientUnits="userSpaceOnUse" x1="2546.5" y1="306.6" x2="2965.3" y2="488.2"><stop offset="0.000" stop-color="#6fc057"/><stop offset="0.088" stop-color="#6fc053"/><stop offset="0.178" stop-color="#6fbf50"/><stop offset="0.271" stop-color="#6fbf4d"/><stop offset="0.367" stop-color="#6fbe4a"/><stop offset="0.465" stop-color="#6fbe48"/><stop offset="0.566" stop-color="#6fbe47"/><stop offset="0.670" stop-color="#6fbe46"/><stop offset="0.777" stop-color="#6fbe45"/><stop offset="0.887" stop-color="#70be44"/><stop offset="1.000" stop-color="#70be43"/></linearGradient>
<linearGradient id="g60" gradientUnits="userSpaceOnUse" x1="2562.2" y1="296.4" x2="2980.7" y2="475.3"><stop offset="0.000" stop-color="#6fbf52"/><stop offset="0.088" stop-color="#6fbf4f"/><stop offset="0.179" stop-color="#6fbf4c"/><stop offset="0.271" stop-color="#6fbe49"/><stop offset="0.367" stop-color="#6fbe47"/><stop offset="0.465" stop-color="#6fbe46"/><stop offset="0.566" stop-color="#6fbe46"/><stop offset="0.670" stop-color="#70be45"/><stop offset="0.777" stop-color="#70be44"/><stop offset="0.887" stop-color="#70be43"/><stop offset="1.000" stop-color="#71be42"/></linearGradient>
<linearGradient id="g61" gradientUnits="userSpaceOnUse" x1="2577.8" y1="286.4" x2="2996" y2="462.7"><stop offset="0.000" stop-color="#6fbf4d"/><stop offset="0.088" stop-color="#6fbe4b"/><stop offset="0.179" stop-color="#6fbe48"/><stop offset="0.272" stop-color="#6fbe47"/><stop offset="0.367" stop-color="#6fbe46"/><stop offset="0.465" stop-color="#6fbe45"/><stop offset="0.566" stop-color="#70be44"/><stop offset="0.670" stop-color="#70be44"/><stop offset="0.777" stop-color="#71be43"/><stop offset="0.887" stop-color="#71be42"/><stop offset="1.000" stop-color="#72be41"/></linearGradient>
<linearGradient id="g62" gradientUnits="userSpaceOnUse" x1="2593.1" y1="276.5" x2="3011" y2="450.2"><stop offset="0.000" stop-color="#6fbe4a"/><stop offset="0.088" stop-color="#6fbe48"/><stop offset="0.179" stop-color="#6fbe47"/><stop offset="0.272" stop-color="#6fbe46"/><stop offset="0.367" stop-color="#70be45"/><stop offset="0.466" stop-color="#70be44"/><stop offset="0.566" stop-color="#70be43"/><stop offset="0.670" stop-color="#71be42"/><stop offset="0.777" stop-color="#71be41"/><stop offset="0.887" stop-color="#72be41"/><stop offset="1.000" stop-color="#72be41"/></linearGradient>
<linearGradient id="g63" gradientUnits="userSpaceOnUse" x1="2608.4" y1="266.7" x2="3025.8" y2="437.8"><stop offset="0.000" stop-color="#6fbe47"/><stop offset="0.088" stop-color="#6fbe46"/><stop offset="0.179" stop-color="#6fbe46"/><stop offset="0.272" stop-color="#70be45"/><stop offset="0.368" stop-color="#70be44"/><stop offset="0.466" stop-color="#71be43"/><stop offset="0.567" stop-color="#71be42"/><stop offset="0.670" stop-color="#71be41"/><stop offset="0.777" stop-color="#72be41"/><stop offset="0.887" stop-color="#73be41"/><stop offset="1.000" stop-color="#75bf41"/></linearGradient>
<linearGradient id="g64" gradientUnits="userSpaceOnUse" x1="2623.4" y1="256.9" x2="3040.5" y2="425.7"><stop offset="0.000" stop-color="#6fbe46"/><stop offset="0.088" stop-color="#6fbe45"/><stop offset="0.179" stop-color="#70be44"/><stop offset="0.272" stop-color="#70be43"/><stop offset="0.368" stop-color="#71be43"/><stop offset="0.466" stop-color="#71be42"/><stop offset="0.567" stop-color="#72be41"/><stop offset="0.671" stop-color="#72be41"/><stop offset="0.777" stop-color="#74bf41"/><stop offset="0.887" stop-color="#75bf41"/><stop offset="1.000" stop-color="#77c041"/></linearGradient>
<linearGradient id="g65" gradientUnits="userSpaceOnUse" x1="2638.3" y1="247.3" x2="3055" y2="413.6"><stop offset="0.000" stop-color="#70be45"/><stop offset="0.088" stop-color="#70be44"/><stop offset="0.179" stop-color="#70be43"/><stop offset="0.272" stop-color="#71be42"/><stop offset="0.368" stop-color="#71be41"/><stop offset="0.466" stop-color="#72be41"/><stop offset="0.567" stop-color="#73be41"/><stop offset="0.671" stop-color="#74bf41"/><stop offset="0.777" stop-color="#76c041"/><stop offset="0.887" stop-color="#77c041"/><stop offset="1.000" stop-color="#79c041"/></linearGradient>
<linearGradient id="g66" gradientUnits="userSpaceOnUse" x1="2653" y1="237.8" x2="3069.3" y2="401.7"><stop offset="0.000" stop-color="#70be44"/><stop offset="0.088" stop-color="#71be43"/><stop offset="0.179" stop-color="#71be42"/><stop offset="0.272" stop-color="#71be41"/><stop offset="0.368" stop-color="#72be41"/><stop offset="0.466" stop-color="#73bf41"/><stop offset="0.567" stop-color="#75bf41"/><stop offset="0.671" stop-color="#76c041"/><stop offset="0.778" stop-color="#78c041"/><stop offset="0.887" stop-color="#7ac041"/><stop offset="1.000" stop-color="#7bc141"/></linearGradient>
<linearGradient id="g67" gradientUnits="userSpaceOnUse" x1="2667.6" y1="228.4" x2="3083.4" y2="390"><stop offset="0.000" stop-color="#71be43"/><stop offset="0.089" stop-color="#71be42"/><stop offset="0.179" stop-color="#72be41"/><stop offset="0.273" stop-color="#72be41"/><stop offset="0.368" stop-color="#74bf41"/><stop offset="0.466" stop-color="#75bf41"/><stop offset="0.567" stop-color="#77c041"/><stop offset="0.671" stop-color="#79c041"/><stop offset="0.778" stop-color="#7ac141"/><stop offset="0.887" stop-color="#7bc141"/><stop offset="1.000" stop-color="#7dc241"/></linearGradient>
<linearGradient id="g68" gradientUnits="userSpaceOnUse" x1="2682" y1="219.1" x2="3097.4" y2="378.4"><stop offset="0.000" stop-color="#71be42"/><stop offset="0.089" stop-color="#72be41"/><stop offset="0.179" stop-color="#72be41"/><stop offset="0.273" stop-color="#74bf41"/><stop offset="0.368" stop-color="#76c041"/><stop offset="0.467" stop-color="#77c041"/><stop offset="0.568" stop-color="#79c041"/><stop offset="0.671" stop-color="#7bc141"/><stop offset="0.778" stop-color="#7bc241"/><stop offset="0.887" stop-color="#7dc241"/><stop offset="1.000" stop-color="#7fc342"/></linearGradient>
<linearGradient id="g69" gradientUnits="userSpaceOnUse" x1="2696.3" y1="209.9" x2="3111.2" y2="366.9"><stop offset="0.000" stop-color="#72be41"/><stop offset="0.089" stop-color="#73be41"/><stop offset="0.180" stop-color="#75bf41"/><stop offset="0.273" stop-color="#76c041"/><stop offset="0.369" stop-color="#78c041"/><stop offset="0.467" stop-color="#7ac041"/><stop offset="0.568" stop-color="#7bc141"/><stop offset="0.671" stop-color="#7cc241"/><stop offset="0.778" stop-color="#7ec341"/><stop offset="0.887" stop-color="#7fc342"/><stop offset="1.000" stop-color="#81c442"/></linearGradient>
<linearGradient id="g70" gradientUnits="userSpaceOnUse" x1="2710.4" y1="200.8" x2="3124.8" y2="355.6"><stop offset="0.000" stop-color="#73bf41"/><stop offset="0.089" stop-color="#75bf41"/><stop offset="0.180" stop-color="#77c041"/><stop offset="0.273" stop-color="#78c041"/><stop offset="0.369" stop-color="#7ac141"/><stop offset="0.467" stop-color="#7bc141"/><stop offset="0.568" stop-color="#7cc241"/><stop offset="0.672" stop-color="#7ec341"/><stop offset="0.778" stop-color="#80c442"/><stop offset="0.887" stop-color="#82c442"/><stop offset="1.000" stop-color="#84c542"/></linearGradient>
<linearGradient id="g71" gradientUnits="userSpaceOnUse" x1="2724.4" y1="191.8" x2="3138.3" y2="344.4"><stop offset="0.000" stop-color="#75bf41"/><stop offset="0.089" stop-color="#77c041"/><stop offset="0.180" stop-color="#79c041"/><stop offset="0.273" stop-color="#7ac141"/><stop offset="0.369" stop-color="#7bc241"/><stop offset="0.467" stop-color="#7dc241"/><stop offset="0.568" stop-color="#7fc342"/><stop offset="0.672" stop-color="#80c442"/><stop offset="0.778" stop-color="#82c542"/><stop offset="0.888" stop-color="#85c642"/><stop offset="1.000" stop-color="#89c843"/></linearGradient>
<linearGradient id="g72" gradientUnits="userSpaceOnUse" x1="2738.2" y1="182.9" x2="3151.6" y2="333.3"><stop offset="0.000" stop-color="#77c041"/><stop offset="0.089" stop-color="#79c041"/><stop offset="0.180" stop-color="#7bc141"/><stop offset="0.273" stop-color="#7cc241"/><stop offset="0.369" stop-color="#7dc241"/><stop offset="0.467" stop-color="#7fc342"/><stop offset="0.568" stop-color="#81c442"/><stop offset="0.672" stop-color="#82c542"/><stop offset="0.778" stop-color="#86c642"/><stop offset="0.888" stop-color="#8ac843"/><stop offset="1.000" stop-color="#8fca44"/></linearGradient>
<linearGradient id="g73" gradientUnits="userSpaceOnUse" x1="2751.9" y1="174.1" x2="3164.8" y2="322.4"><stop offset="0.000" stop-color="#79c041"/><stop offset="0.089" stop-color="#7bc141"/><stop offset="0.180" stop-color="#7cc241"/><stop offset="0.273" stop-color="#7ec341"/><stop offset="0.369" stop-color="#7fc342"/><stop offset="0.468" stop-color="#81c442"/><stop offset="0.568" stop-color="#83c542"/><stop offset="0.672" stop-color="#87c743"/><stop offset="0.778" stop-color="#8cc943"/><stop offset="0.888" stop-color="#90cb44"/><stop offset="1.000" stop-color="#94cc45"/></linearGradient>
<linearGradient id="g74" gradientUnits="userSpaceOnUse" x1="2765.4" y1="165.3" x2="3177.8" y2="311.6"><stop offset="0.000" stop-color="#7bc141"/><stop offset="0.089" stop-color="#7cc241"/><stop offset="0.180" stop-color="#7ec341"/><stop offset="0.274" stop-color="#80c442"/><stop offset="0.369" stop-color="#82c442"/><stop offset="0.468" stop-color="#84c542"/><stop offset="0.569" stop-color="#88c743"/><stop offset="0.672" stop-color="#8dc943"/><stop offset="0.779" stop-color="#92cb44"/><stop offset="0.888" stop-color="#96cc45"/><stop offset="1.000" stop-color="#9bce45"/></linearGradient>
<linearGradient id="g75" gradientUnits="userSpaceOnUse" x1="2778.8" y1="156.7" x2="3190.6" y2="300.9"><stop offset="0.000" stop-color="#7dc241"/><stop offset="0.089" stop-color="#7ec341"/><stop offset="0.180" stop-color="#80c442"/><stop offset="0.274" stop-color="#82c542"/><stop offset="0.370" stop-color="#85c642"/><stop offset="0.468" stop-color="#89c843"/><stop offset="0.569" stop-color="#8eca44"/><stop offset="0.672" stop-color="#92cb44"/><stop offset="0.779" stop-color="#97cd45"/><stop offset="0.888" stop-color="#9ccf46"/><stop offset="1.000" stop-color="#a1d146"/></linearGradient>
<linearGradient id="g76" href="#cm" gradientUnits="userSpaceOnUse" x1="176.8" y1="0" x2="1277.6" y2="0"/>
<linearGradient id="g77" href="#cm" gradientUnits="userSpaceOnUse" x1="175.6" y1="0" x2="1277.5" y2="0"/>
<linearGradient id="g78" href="#cm" gradientUnits="userSpaceOnUse" x1="174.3" y1="0" x2="1277.5" y2="0"/>
<linearGradient id="g79" href="#cm" gradientUnits="userSpaceOnUse" x1="173" y1="0" x2="1277.4" y2="0"/>
<linearGradient id="g80" href="#cm" gradientUnits="userSpaceOnUse" x1="171.7" y1="0" x2="1277.3" y2="0"/>
<linearGradient id="g81" href="#cm" gradientUnits="userSpaceOnUse" x1="170.4" y1="0" x2="1277.3" y2="0"/>
<linearGradient id="g82" href="#cm" gradientUnits="userSpaceOnUse" x1="169.2" y1="0" x2="1277.2" y2="0"/>
<linearGradient id="g83" href="#cm" gradientUnits="userSpaceOnUse" x1="167.9" y1="0" x2="1277.1" y2="0"/>
<linearGradient id="g84" href="#cm" gradientUnits="userSpaceOnUse" x1="166.6" y1="0" x2="1277.1" y2="0"/>
<linearGradient id="g85" href="#cm" gradientUnits="userSpaceOnUse" x1="165.3" y1="0" x2="1277" y2="0"/>
<linearGradient id="g86" href="#cm" gradientUnits="userSpaceOnUse" x1="164" y1="0" x2="1276.9" y2="0"/>
<linearGradient id="g87" href="#cm" gradientUnits="userSpaceOnUse" x1="162.7" y1="0" x2="1276.9" y2="0"/>
<linearGradient id="g88" href="#cm" gradientUnits="userSpaceOnUse" x1="161.4" y1="0" x2="1276.8" y2="0"/>
<linearGradient id="g89" href="#cm" gradientUnits="userSpaceOnUse" x1="160" y1="0" x2="1276.7" y2="0"/>
<linearGradient id="g90" href="#cm" gradientUnits="userSpaceOnUse" x1="158.7" y1="0" x2="1276.6" y2="0"/>
<linearGradient id="g91" href="#cm" gradientUnits="userSpaceOnUse" x1="157.4" y1="0" x2="1276.6" y2="0"/>
<linearGradient id="g92" href="#cm" gradientUnits="userSpaceOnUse" x1="156.1" y1="0" x2="1276.5" y2="0"/>
<linearGradient id="g93" href="#cm" gradientUnits="userSpaceOnUse" x1="154.8" y1="0" x2="1276.4" y2="0"/>
<linearGradient id="g94" href="#cm" gradientUnits="userSpaceOnUse" x1="153.4" y1="0" x2="1276.4" y2="0"/>
<linearGradient id="g95" href="#cm" gradientUnits="userSpaceOnUse" x1="152.1" y1="0" x2="1276.3" y2="0"/>
<linearGradient id="g96" href="#cm" gradientUnits="userSpaceOnUse" x1="150.8" y1="0" x2="1276.2" y2="0"/>
<linearGradient id="g97" href="#cm" gradientUnits="userSpaceOnUse" x1="149.5" y1="0" x2="1276.2" y2="0"/>
<linearGradient id="g98" href="#cm" gradientUnits="userSpaceOnUse" x1="148.1" y1="0" x2="1276.1" y2="0"/>
<linearGradient id="g99" href="#cm" gradientUnits="userSpaceOnUse" x1="146.8" y1="0" x2="1276" y2="0"/>
<linearGradient id="g100" href="#cm" gradientUnits="userSpaceOnUse" x1="145.4" y1="0" x2="1276" y2="0"/>
<linearGradient id="g101" href="#cm" gradientUnits="userSpaceOnUse" x1="144.1" y1="0" x2="1275.9" y2="0"/>
<linearGradient id="g102" href="#cm" gradientUnits="userSpaceOnUse" x1="142.7" y1="0" x2="1275.8" y2="0"/>
<linearGradient id="g103" href="#cm" gradientUnits="userSpaceOnUse" x1="141.4" y1="0" x2="1275.7" y2="0"/>
<linearGradient id="g104" href="#cm" gradientUnits="userSpaceOnUse" x1="140" y1="0" x2="1275.7" y2="0"/>
<linearGradient id="g105" href="#cm" gradientUnits="userSpaceOnUse" x1="138.7" y1="0" x2="1275.6" y2="0"/>
<linearGradient id="g106" href="#cm" gradientUnits="userSpaceOnUse" x1="137.3" y1="0" x2="1275.5" y2="0"/>
<linearGradient id="g107" href="#cm" gradientUnits="userSpaceOnUse" x1="136" y1="0" x2="1275.5" y2="0"/>
<linearGradient id="g108" href="#cm" gradientUnits="userSpaceOnUse" x1="134.6" y1="0" x2="1275.4" y2="0"/>
<linearGradient id="g109" href="#cm" gradientUnits="userSpaceOnUse" x1="133.2" y1="0" x2="1275.3" y2="0"/>
<linearGradient id="g110" href="#cm" gradientUnits="userSpaceOnUse" x1="131.8" y1="0" x2="1275.3" y2="0"/>
<linearGradient id="g111" href="#cm" gradientUnits="userSpaceOnUse" x1="130.5" y1="0" x2="1275.2" y2="0"/>
<linearGradient id="g112" href="#cm" gradientUnits="userSpaceOnUse" x1="129.1" y1="0" x2="1275.1" y2="0"/>
<linearGradient id="g113" href="#cm" gradientUnits="userSpaceOnUse" x1="127.7" y1="0" x2="1275" y2="0"/>
<linearGradient id="g114" href="#cm" gradientUnits="userSpaceOnUse" x1="126.3" y1="0" x2="1275" y2="0"/>
<linearGradient id="g115" href="#cm" gradientUnits="userSpaceOnUse" x1="124.9" y1="0" x2="1274.9" y2="0"/>
<linearGradient id="g116" href="#cm" gradientUnits="userSpaceOnUse" x1="123.5" y1="0" x2="1274.8" y2="0"/>
<linearGradient id="g117" href="#cm" gradientUnits="userSpaceOnUse" x1="122.1" y1="0" x2="1274.7" y2="0"/>
<linearGradient id="g118" href="#cm" gradientUnits="userSpaceOnUse" x1="120.7" y1="0" x2="1274.7" y2="0"/>
<linearGradient id="g119" href="#cm" gradientUnits="userSpaceOnUse" x1="119.3" y1="0" x2="1274.6" y2="0"/>
<linearGradient id="g120" href="#cm" gradientUnits="userSpaceOnUse" x1="117.9" y1="0" x2="1274.5" y2="0"/>
<linearGradient id="g121" href="#cm" gradientUnits="userSpaceOnUse" x1="116.5" y1="0" x2="1274.5" y2="0"/>
<linearGradient id="g122" href="#cm" gradientUnits="userSpaceOnUse" x1="115.1" y1="0" x2="1274.4" y2="0"/>
<linearGradient id="g123" href="#cm" gradientUnits="userSpaceOnUse" x1="113.7" y1="0" x2="1274.3" y2="0"/>
<linearGradient id="g124" href="#cm" gradientUnits="userSpaceOnUse" x1="112.3" y1="0" x2="1274.2" y2="0"/>
<linearGradient id="g125" href="#cm" gradientUnits="userSpaceOnUse" x1="110.9" y1="0" x2="1274.2" y2="0"/>
<linearGradient id="g126" href="#cm" gradientUnits="userSpaceOnUse" x1="109.4" y1="0" x2="1274.1" y2="0"/>
<linearGradient id="g127" href="#cm" gradientUnits="userSpaceOnUse" x1="108" y1="0" x2="1274" y2="0"/>
<linearGradient id="g128" href="#cm" gradientUnits="userSpaceOnUse" x1="106.6" y1="0" x2="1273.9" y2="0"/>
<linearGradient id="g129" href="#cm" gradientUnits="userSpaceOnUse" x1="105.1" y1="0" x2="1273.9" y2="0"/>
<linearGradient id="g130" href="#cm" gradientUnits="userSpaceOnUse" x1="103.7" y1="0" x2="1273.8" y2="0"/>
<linearGradient id="g131" href="#cm" gradientUnits="userSpaceOnUse" x1="102.3" y1="0" x2="1273.7" y2="0"/>
<linearGradient id="g132" href="#cm" gradientUnits="userSpaceOnUse" x1="100.8" y1="0" x2="1273.6" y2="0"/>
<linearGradient id="g133" href="#cm" gradientUnits="userSpaceOnUse" x1="99.4" y1="0" x2="1273.6" y2="0"/>
<linearGradient id="g134" href="#cm" gradientUnits="userSpaceOnUse" x1="97.9" y1="0" x2="1273.5" y2="0"/>
<linearGradient id="g135" href="#cm" gradientUnits="userSpaceOnUse" x1="96.5" y1="0" x2="1273.4" y2="0"/>
<linearGradient id="g136" href="#cm" gradientUnits="userSpaceOnUse" x1="95" y1="0" x2="1273.3" y2="0"/>
<linearGradient id="g137" href="#cm" gradientUnits="userSpaceOnUse" x1="93.5" y1="0" x2="1273.3" y2="0"/>
<linearGradient id="g138" href="#cm" gradientUnits="userSpaceOnUse" x1="92.1" y1="0" x2="1273.2" y2="0"/>
<linearGradient id="g139" href="#cm" gradientUnits="userSpaceOnUse" x1="90.6" y1="0" x2="1273.1" y2="0"/>
<linearGradient id="g140" href="#cm" gradientUnits="userSpaceOnUse" x1="1162.2" y1="0" x2="2603.7" y2="0"/>
<linearGradient id="g141" href="#cm" gradientUnits="userSpaceOnUse" x1="1162.1" y1="0" x2="2598.9" y2="0"/>
<linearGradient id="g142" href="#cm" gradientUnits="userSpaceOnUse" x1="1162" y1="0" x2="2594.1" y2="0"/>
<linearGradient id="g143" href="#cm" gradientUnits="userSpaceOnUse" x1="1161.9" y1="0" x2="2589.3" y2="0"/>
<linearGradient id="g144" href="#cm" gradientUnits="userSpaceOnUse" x1="1161.8" y1="0" x2="2584.5" y2="0"/>
<linearGradient id="g145" href="#cm" gradientUnits="userSpaceOnUse" x1="1161.7" y1="0" x2="2579.8" y2="0"/>
<linearGradient id="g146" href="#cm" gradientUnits="userSpaceOnUse" x1="1161.6" y1="0" x2="2575.1" y2="0"/>
<linearGradient id="g147" href="#cm" gradientUnits="userSpaceOnUse" x1="1161.6" y1="0" x2="2570.5" y2="0"/>
<linearGradient id="g148" href="#cm" gradientUnits="userSpaceOnUse" x1="1161.5" y1="0" x2="2565.8" y2="0"/>
<linearGradient id="g149" href="#cm" gradientUnits="userSpaceOnUse" x1="1161.4" y1="0" x2="2561.2" y2="0"/>
<linearGradient id="g150" href="#cm" gradientUnits="userSpaceOnUse" x1="1161.3" y1="0" x2="2556.7" y2="0"/>
<linearGradient id="g151" href="#cm" gradientUnits="userSpaceOnUse" x1="1161.2" y1="0" x2="2552.1" y2="0"/>
<linearGradient id="g152" href="#cm" gradientUnits="userSpaceOnUse" x1="1161.2" y1="0" x2="2547.6" y2="0"/>
<linearGradient id="g153" href="#cm" gradientUnits="userSpaceOnUse" x1="1161.1" y1="0" x2="2543.1" y2="0"/>
<linearGradient id="g154" href="#cm" gradientUnits="userSpaceOnUse" x1="1161" y1="0" x2="2538.7" y2="0"/>
<linearGradient id="g155" href="#cm" gradientUnits="userSpaceOnUse" x1="1160.9" y1="0" x2="2534.2" y2="0"/>
<linearGradient id="g156" href="#cm" gradientUnits="userSpaceOnUse" x1="1160.8" y1="0" x2="2529.8" y2="0"/>
<linearGradient id="g157" href="#cm" gradientUnits="userSpaceOnUse" x1="1160.8" y1="0" x2="2525.5" y2="0"/>
<linearGradient id="g158" href="#cm" gradientUnits="userSpaceOnUse" x1="1160.7" y1="0" x2="2521.1" y2="0"/>
<linearGradient id="g159" href="#cm" gradientUnits="userSpaceOnUse" x1="1160.6" y1="0" x2="2516.8" y2="0"/>
<linearGradient id="g160" href="#cm" gradientUnits="userSpaceOnUse" x1="1160.5" y1="0" x2="2512.5" y2="0"/>
<linearGradient id="g161" href="#cm" gradientUnits="userSpaceOnUse" x1="1160.5" y1="0" x2="2508.2" y2="0"/>
<linearGradient id="g162" href="#cm" gradientUnits="userSpaceOnUse" x1="1160.4" y1="0" x2="2504" y2="0"/>
<linearGradient id="g163" href="#cm" gradientUnits="userSpaceOnUse" x1="1160.3" y1="0" x2="2499.8" y2="0"/>
<linearGradient id="g164" href="#cm" gradientUnits="userSpaceOnUse" x1="1160.2" y1="0" x2="2495.6" y2="0"/>
<linearGradient id="g165" href="#cm" gradientUnits="userSpaceOnUse" x1="1160.2" y1="0" x2="2491.5" y2="0"/>
<linearGradient id="g166" href="#cm" gradientUnits="userSpaceOnUse" x1="1160.1" y1="0" x2="2487.3" y2="0"/>
<linearGradient id="g167" href="#cm" gradientUnits="userSpaceOnUse" x1="1160" y1="0" x2="2483.2" y2="0"/>
<linearGradient id="g168" href="#cm" gradientUnits="userSpaceOnUse" x1="1159.9" y1="0" x2="2479.1" y2="0"/>
<linearGradient id="g169" href="#cm" gradientUnits="userSpaceOnUse" x1="1159.9" y1="0" x2="2475.1" y2="0"/>
<linearGradient id="g170" href="#cm" gradientUnits="userSpaceOnUse" x1="1159.8" y1="0" x2="2471" y2="0"/>
<linearGradient id="g171" href="#cm" gradientUnits="userSpaceOnUse" x1="1159.7" y1="0" x2="2467" y2="0"/>
<linearGradient id="g172" href="#cm" gradientUnits="userSpaceOnUse" x1="1159.6" y1="0" x2="2463" y2="0"/>
<linearGradient id="g173" href="#cm" gradientUnits="userSpaceOnUse" x1="1159.6" y1="0" x2="2459.1" y2="0"/>
<linearGradient id="g174" href="#cm" gradientUnits="userSpaceOnUse" x1="1159.5" y1="0" x2="2455.1" y2="0"/>
<linearGradient id="g175" href="#cm" gradientUnits="userSpaceOnUse" x1="1159.4" y1="0" x2="2451.2" y2="0"/>
<linearGradient id="g176" href="#cm" gradientUnits="userSpaceOnUse" x1="1159.4" y1="0" x2="2447.3" y2="0"/>
<linearGradient id="g177" href="#cm" gradientUnits="userSpaceOnUse" x1="1159.3" y1="0" x2="2443.4" y2="0"/>
<linearGradient id="g178" href="#cm" gradientUnits="userSpaceOnUse" x1="1159.2" y1="0" x2="2439.6" y2="0"/>
<linearGradient id="g179" href="#cm" gradientUnits="userSpaceOnUse" x1="1159.2" y1="0" x2="2435.8" y2="0"/>
<linearGradient id="g180" href="#cm" gradientUnits="userSpaceOnUse" x1="1159.1" y1="0" x2="2432" y2="0"/>
<linearGradient id="g181" href="#cm" gradientUnits="userSpaceOnUse" x1="1159" y1="0" x2="2428.2" y2="0"/>
<linearGradient id="g182" href="#cm" gradientUnits="userSpaceOnUse" x1="1159" y1="0" x2="2424.4" y2="0"/>
<linearGradient id="g183" href="#cm" gradientUnits="userSpaceOnUse" x1="1158.9" y1="0" x2="2420.7" y2="0"/>
<linearGradient id="g184" href="#cm" gradientUnits="userSpaceOnUse" x1="1158.8" y1="0" x2="2417" y2="0"/>
<linearGradient id="g185" href="#cm" gradientUnits="userSpaceOnUse" x1="1158.8" y1="0" x2="2413.3" y2="0"/>
<linearGradient id="g186" href="#cm" gradientUnits="userSpaceOnUse" x1="1158.7" y1="0" x2="2409.6" y2="0"/>
<linearGradient id="g187" href="#cm" gradientUnits="userSpaceOnUse" x1="1158.6" y1="0" x2="2406" y2="0"/>
<linearGradient id="g188" href="#cm" gradientUnits="userSpaceOnUse" x1="1158.6" y1="0" x2="2402.3" y2="0"/>
<linearGradient id="g189" href="#cm" gradientUnits="userSpaceOnUse" x1="1158.5" y1="0" x2="2398.7" y2="0"/>
<linearGradient id="g190" href="#cm" gradientUnits="userSpaceOnUse" x1="1158.4" y1="0" x2="2395.1" y2="0"/>
<linearGradient id="g191" href="#cm" gradientUnits="userSpaceOnUse" x1="1158.4" y1="0" x2="2391.6" y2="0"/>
<linearGradient id="g192" href="#cm" gradientUnits="userSpaceOnUse" x1="1158.3" y1="0" x2="2388" y2="0"/>
<linearGradient id="g193" href="#cm" gradientUnits="userSpaceOnUse" x1="1158.2" y1="0" x2="2384.5" y2="0"/>
<linearGradient id="g194" href="#cm" gradientUnits="userSpaceOnUse" x1="1158.2" y1="0" x2="2381" y2="0"/>
<linearGradient id="g195" href="#cm" gradientUnits="userSpaceOnUse" x1="1158.1" y1="0" x2="2377.5" y2="0"/>
<linearGradient id="g196" href="#cm" gradientUnits="userSpaceOnUse" x1="1158.1" y1="0" x2="2374" y2="0"/>
<linearGradient id="g197" href="#cm" gradientUnits="userSpaceOnUse" x1="1158" y1="0" x2="2370.6" y2="0"/>
<linearGradient id="g198" href="#cm" gradientUnits="userSpaceOnUse" x1="1157.9" y1="0" x2="2367.1" y2="0"/>
<linearGradient id="g199" href="#cm" gradientUnits="userSpaceOnUse" x1="1157.9" y1="0" x2="2363.7" y2="0"/>
<linearGradient id="g200" href="#cm" gradientUnits="userSpaceOnUse" x1="1157.8" y1="0" x2="2360.3" y2="0"/>
<linearGradient id="g201" href="#cm" gradientUnits="userSpaceOnUse" x1="1157.8" y1="0" x2="2357" y2="0"/>
<linearGradient id="g202" href="#cm" gradientUnits="userSpaceOnUse" x1="1157.7" y1="0" x2="2353.6" y2="0"/>
<linearGradient id="g203" href="#cm" gradientUnits="userSpaceOnUse" x1="1157.6" y1="0" x2="2350.3" y2="0"/>
<linearGradient id="g204" href="#cm" gradientUnits="userSpaceOnUse" x1="1157.6" y1="0" x2="2346.9" y2="0"/>
<linearGradient id="g205" href="#cm" gradientUnits="userSpaceOnUse" x1="1157.5" y1="0" x2="2343.6" y2="0"/>
<linearGradient id="g206" href="#cm" gradientUnits="userSpaceOnUse" x1="1157.5" y1="0" x2="2340.4" y2="0"/>
<linearGradient id="g207" href="#cm" gradientUnits="userSpaceOnUse" x1="1157.4" y1="0" x2="2337.1" y2="0"/>
<linearGradient id="g208" href="#cm" gradientUnits="userSpaceOnUse" x1="1157.3" y1="0" x2="2333.8" y2="0"/>
<linearGradient id="g209" href="#cm" gradientUnits="userSpaceOnUse" x1="1157.3" y1="0" x2="2330.6" y2="0"/>
<linearGradient id="g210" href="#cm" gradientUnits="userSpaceOnUse" x1="1157.2" y1="0" x2="2327.4" y2="0"/>
<linearGradient id="g211" href="#cm" gradientUnits="userSpaceOnUse" x1="1157.2" y1="0" x2="2324.2" y2="0"/>
<linearGradient id="g212" href="#cm" gradientUnits="userSpaceOnUse" x1="1157.1" y1="0" x2="2321" y2="0"/>
<linearGradient id="g213" href="#cm" gradientUnits="userSpaceOnUse" x1="1157.1" y1="0" x2="2317.9" y2="0"/>
<linearGradient id="g214" href="#cm" gradientUnits="userSpaceOnUse" x1="1157" y1="0" x2="2314.7" y2="0"/>
<linearGradient id="g215" href="#cm" gradientUnits="userSpaceOnUse" x1="1156.9" y1="0" x2="2311.6" y2="0"/>
<linearGradient id="g216" href="#cm" gradientUnits="userSpaceOnUse" x1="1156.9" y1="0" x2="2308.5" y2="0"/>
<linearGradient id="g217" href="#cm" gradientUnits="userSpaceOnUse" x1="1156.8" y1="0" x2="2305.4" y2="0"/>
<linearGradient id="g218" href="#cm" gradientUnits="userSpaceOnUse" x1="1156.8" y1="0" x2="2302.3" y2="0"/>
<linearGradient id="g219" href="#cm" gradientUnits="userSpaceOnUse" x1="1156.7" y1="0" x2="2299.2" y2="0"/>
<linearGradient id="g220" href="#cm" gradientUnits="userSpaceOnUse" x1="1156.7" y1="0" x2="2296.2" y2="0"/>
<linearGradient id="g221" href="#cm" gradientUnits="userSpaceOnUse" x1="1156.6" y1="0" x2="2293.2" y2="0"/>
<linearGradient id="g222" href="#cm" gradientUnits="userSpaceOnUse" x1="1156.6" y1="0" x2="2290.1" y2="0"/>
<linearGradient id="g223" href="#cm" gradientUnits="userSpaceOnUse" x1="1156.5" y1="0" x2="2287.1" y2="0"/>
<linearGradient id="g224" href="#cm" gradientUnits="userSpaceOnUse" x1="1156.5" y1="0" x2="2284.2" y2="0"/>
<linearGradient id="g225" href="#cm" gradientUnits="userSpaceOnUse" x1="1156.4" y1="0" x2="2281.2" y2="0"/>
<linearGradient id="g226" href="#cm" gradientUnits="userSpaceOnUse" x1="1156.3" y1="0" x2="2278.2" y2="0"/>
<linearGradient id="g227" href="#cm" gradientUnits="userSpaceOnUse" x1="1156.3" y1="0" x2="2275.3" y2="0"/>
<linearGradient id="g228" href="#cm" gradientUnits="userSpaceOnUse" x1="1156.2" y1="0" x2="2272.4" y2="0"/>
<linearGradient id="g229" href="#cm" gradientUnits="userSpaceOnUse" x1="1156.2" y1="0" x2="2269.5" y2="0"/>
<linearGradient id="g230" href="#cm" gradientUnits="userSpaceOnUse" x1="1156.1" y1="0" x2="2266.6" y2="0"/>
<linearGradient id="g231" href="#cm" gradientUnits="userSpaceOnUse" x1="1156.1" y1="0" x2="2263.7" y2="0"/>
<linearGradient id="g232" href="#cm" gradientUnits="userSpaceOnUse" x1="1156" y1="0" x2="2260.8" y2="0"/>
<linearGradient id="g233" href="#cm" gradientUnits="userSpaceOnUse" x1="1156" y1="0" x2="2258" y2="0"/>
<linearGradient id="g234" href="#cm" gradientUnits="userSpaceOnUse" x1="1155.9" y1="0" x2="2255.2" y2="0"/>
<linearGradient id="g235" href="#cm" gradientUnits="userSpaceOnUse" x1="1155.9" y1="0" x2="2252.3" y2="0"/>
<linearGradient id="g236" href="#cm" gradientUnits="userSpaceOnUse" x1="1155.8" y1="0" x2="2249.5" y2="0"/>
<linearGradient id="g237" href="#cm" gradientUnits="userSpaceOnUse" x1="1155.8" y1="0" x2="2246.7" y2="0"/>
<linearGradient id="g238" href="#cm" gradientUnits="userSpaceOnUse" x1="1155.7" y1="0" x2="2244" y2="0"/>
<linearGradient id="g239" href="#cm" gradientUnits="userSpaceOnUse" x1="1155.7" y1="0" x2="2241.2" y2="0"/>
<linearGradient id="g240" href="#cm" gradientUnits="userSpaceOnUse" x1="1155.6" y1="0" x2="2238.4" y2="0"/>
<linearGradient id="g241" href="#cm" gradientUnits="userSpaceOnUse" x1="1155.6" y1="0" x2="2235.7" y2="0"/>
<linearGradient id="g242" href="#cm" gradientUnits="userSpaceOnUse" x1="1155.5" y1="0" x2="2233" y2="0"/>
<linearGradient id="g243" href="#cm" gradientUnits="userSpaceOnUse" x1="1155.5" y1="0" x2="2230.3" y2="0"/>
<linearGradient id="g244" href="#cm" gradientUnits="userSpaceOnUse" x1="1155.4" y1="0" x2="2227.6" y2="0"/>
<linearGradient id="g245" href="#cm" gradientUnits="userSpaceOnUse" x1="1155.4" y1="0" x2="2224.9" y2="0"/>
<linearGradient id="g246" href="#cm" gradientUnits="userSpaceOnUse" x1="1155.3" y1="0" x2="2222.2" y2="0"/>
<linearGradient id="g247" href="#cm" gradientUnits="userSpaceOnUse" x1="1155.3" y1="0" x2="2219.6" y2="0"/>
<linearGradient id="g248" href="#cm" gradientUnits="userSpaceOnUse" x1="1155.3" y1="0" x2="2216.9" y2="0"/>
<linearGradient id="g249" href="#cm" gradientUnits="userSpaceOnUse" x1="1155.2" y1="0" x2="2214.3" y2="0"/>
<linearGradient id="g250" href="#cm" gradientUnits="userSpaceOnUse" x1="7906.3" y1="0" x2="-4380.3" y2="0"/>
<linearGradient id="g251" href="#cm" gradientUnits="userSpaceOnUse" x1="8008.1" y1="0" x2="-4428.1" y2="0"/>
<linearGradient id="g252" href="#cm" gradientUnits="userSpaceOnUse" x1="8112.3" y1="0" x2="-4477" y2="0"/>
<linearGradient id="g253" href="#cm" gradientUnits="userSpaceOnUse" x1="8219.2" y1="0" x2="-4527.1" y2="0"/>
<linearGradient id="g254" href="#cm" gradientUnits="userSpaceOnUse" x1="8328.8" y1="0" x2="-4578.5" y2="0"/>
<linearGradient id="g255" href="#cm" gradientUnits="userSpaceOnUse" x1="8441.1" y1="0" x2="-4631.2" y2="0"/>
<linearGradient id="g256" href="#cm" gradientUnits="userSpaceOnUse" x1="8556.4" y1="0" x2="-4685.2" y2="0"/>
<linearGradient id="g257" href="#cm" gradientUnits="userSpaceOnUse" x1="8674.7" y1="0" x2="-4740.7" y2="0"/>
<linearGradient id="g258" href="#cm" gradientUnits="userSpaceOnUse" x1="8796.2" y1="0" x2="-4797.7" y2="0"/>
<linearGradient id="g259" href="#cm" gradientUnits="userSpaceOnUse" x1="8920.9" y1="0" x2="-4856.2" y2="0"/>
<linearGradient id="g260" href="#cm" gradientUnits="userSpaceOnUse" x1="9049" y1="0" x2="-4916.3" y2="0"/>
<linearGradient id="g261" href="#cm" gradientUnits="userSpaceOnUse" x1="9180.7" y1="0" x2="-4978.1" y2="0"/>
<linearGradient id="g262" href="#cm" gradientUnits="userSpaceOnUse" x1="9316.1" y1="0" x2="-5041.6" y2="0"/>
<linearGradient id="g263" href="#cm" gradientUnits="userSpaceOnUse" x1="9455.3" y1="0" x2="-5106.9" y2="0"/>
<linearGradient id="g264" href="#cm" gradientUnits="userSpaceOnUse" x1="9598.6" y1="0" x2="-5174.1" y2="0"/>
<linearGradient id="g265" href="#cm" gradientUnits="userSpaceOnUse" x1="9746.1" y1="0" x2="-5243.2" y2="0"/>
<linearGradient id="g266" href="#cm" gradientUnits="userSpaceOnUse" x1="9897.9" y1="0" x2="-5314.5" y2="0"/>
<linearGradient id="g267" href="#cm" gradientUnits="userSpaceOnUse" x1="10054.4" y1="0" x2="-5387.8" y2="0"/>
<linearGradient id="g268" href="#cm" gradientUnits="userSpaceOnUse" x1="10215.6" y1="0" x2="-5463.5" y2="0"/>
<linearGradient id="g269" href="#cm" gradientUnits="userSpaceOnUse" x1="10381.9" y1="0" x2="-5541.4" y2="0"/>
<linearGradient id="g270" href="#cm" gradientUnits="userSpaceOnUse" x1="10553.4" y1="0" x2="-5621.9" y2="0"/>
<linearGradient id="g271" href="#cm" gradientUnits="userSpaceOnUse" x1="10730.4" y1="0" x2="-5704.9" y2="0"/>
<linearGradient id="g272" href="#cm" gradientUnits="userSpaceOnUse" x1="10913.3" y1="0" x2="-5790.7" y2="0"/>
<linearGradient id="g273" href="#cm" gradientUnits="userSpaceOnUse" x1="11102.2" y1="0" x2="-5879.3" y2="0"/>
<linearGradient id="g274" href="#cm" gradientUnits="userSpaceOnUse" x1="11297.5" y1="0" x2="-5970.9" y2="0"/>
<linearGradient id="g275" href="#cm" gradientUnits="userSpaceOnUse" x1="11499.5" y1="0" x2="-6065.6" y2="0"/>
<linearGradient id="g276" href="#cm" gradientUnits="userSpaceOnUse" x1="11708.5" y1="0" x2="-6163.7" y2="0"/>
<linearGradient id="g277" href="#cm" gradientUnits="userSpaceOnUse" x1="11925" y1="0" x2="-6265.2" y2="0"/>
<linearGradient id="g278" href="#cm" gradientUnits="userSpaceOnUse" x1="12149.4" y1="0" x2="-6370.5" y2="0"/>
<linearGradient id="g279" href="#cm" gradientUnits="userSpaceOnUse" x1="12382" y1="0" x2="-6479.6" y2="0"/>
<linearGradient id="g280" href="#cm" gradientUnits="userSpaceOnUse" x1="12623.4" y1="0" x2="-6592.8" y2="0"/>
<linearGradient id="g281" href="#cm" gradientUnits="userSpaceOnUse" x1="12874" y1="0" x2="-6710.3" y2="0"/>
<linearGradient id="g282" href="#cm" gradientUnits="userSpaceOnUse" x1="13134.5" y1="0" x2="-6832.5" y2="0"/>
<linearGradient id="g283" href="#cm" gradientUnits="userSpaceOnUse" x1="13405.3" y1="0" x2="-6959.5" y2="0"/>
<linearGradient id="g284" href="#cm" gradientUnits="userSpaceOnUse" x1="13687.1" y1="0" x2="-7091.7" y2="0"/>
<linearGradient id="g285" href="#cm" gradientUnits="userSpaceOnUse" x1="13980.6" y1="0" x2="-7229.3" y2="0"/>
<linearGradient id="g286" href="#cm" gradientUnits="userSpaceOnUse" x1="14286.5" y1="0" x2="-7372.8" y2="0"/>
<linearGradient id="g287" href="#cm" gradientUnits="userSpaceOnUse" x1="14605.7" y1="0" x2="-7522.5" y2="0"/>
<linearGradient id="g288" href="#cm" gradientUnits="userSpaceOnUse" x1="14939" y1="0" x2="-7678.9" y2="0"/>
<linearGradient id="g289" href="#cm" gradientUnits="userSpaceOnUse" x1="15287.4" y1="0" x2="-7842.3" y2="0"/>
<linearGradient id="g290" href="#cm" gradientUnits="userSpaceOnUse" x1="15651.9" y1="0" x2="-8013.2" y2="0"/>
<linearGradient id="g291" href="#cm" gradientUnits="userSpaceOnUse" x1="16033.7" y1="0" x2="-8192.3" y2="0"/>
<linearGradient id="g292" href="#cm" gradientUnits="userSpaceOnUse" x1="16434.1" y1="0" x2="-8380.1" y2="0"/>
<linearGradient id="g293" href="#cm" gradientUnits="userSpaceOnUse" x1="16854.4" y1="0" x2="-8577.2" y2="0"/>
<linearGradient id="g294" href="#cm" gradientUnits="userSpaceOnUse" x1="17296.1" y1="0" x2="-8784.4" y2="0"/>
<linearGradient id="g295" href="#cm" gradientUnits="userSpaceOnUse" x1="17760.9" y1="0" x2="-9002.4" y2="0"/>
<linearGradient id="g296" href="#cm" gradientUnits="userSpaceOnUse" x1="18250.8" y1="0" x2="-9232.2" y2="0"/>
<linearGradient id="g297" href="#cm" gradientUnits="userSpaceOnUse" x1="18767.7" y1="0" x2="-9474.6" y2="0"/>
</defs>
<line x1="325.8" y1="531.8" x2="675" y2="334.5" stroke="#3c4048" stroke-width="3"/>
<line x1="675" y1="334.5" x2="1060" y2="500" stroke="#3c4048" stroke-width="3"/>
<line x1="320.2" y1="461.5" x2="674.2" y2="268.5" stroke="#3c4048" stroke-width="3"/>
<line x1="674.2" y1="268.5" x2="1066.1" y2="431.1" stroke="#3c4048" stroke-width="3"/>
<line x1="314.6" y1="391.3" x2="673.4" y2="202.5" stroke="#3c4048" stroke-width="3"/>
<line x1="673.4" y1="202.5" x2="1072.2" y2="362.2" stroke="#3c4048" stroke-width="3"/>
<line x1="308.9" y1="321" x2="672.6" y2="136.5" stroke="#3c4048" stroke-width="3"/>
<line x1="672.6" y1="136.5" x2="1078.4" y2="293.3" stroke="#3c4048" stroke-width="3"/>
<line x1="303.3" y1="250.8" x2="671.8" y2="70.5" stroke="#3c4048" stroke-width="3"/>
<line x1="671.8" y1="70.5" x2="1084.5" y2="224.4" stroke="#3c4048" stroke-width="3"/>
<line x1="297.7" y1="180.5" x2="671" y2="4.5" stroke="#26282c" stroke-width="3.4"/>
<line x1="671" y1="4.5" x2="1090.6" y2="155.5" stroke="#26282c" stroke-width="3.4"/>
<line x1="391" y1="136.5" x2="413.1" y2="482.5" stroke="#3c4048" stroke-width="3"/>
<line x1="484.4" y1="92.5" x2="500.4" y2="433.1" stroke="#3c4048" stroke-width="3"/>
<line x1="577.7" y1="48.5" x2="587.7" y2="383.8" stroke="#3c4048" stroke-width="3"/>
<line x1="740.9" y1="29.7" x2="739.2" y2="362.1" stroke="#3c4048" stroke-width="3"/>
<line x1="810.9" y1="54.8" x2="803.3" y2="389.7" stroke="#3c4048" stroke-width="3"/>
<line x1="880.8" y1="80" x2="867.5" y2="417.2" stroke="#3c4048" stroke-width="3"/>
<line x1="950.7" y1="105.2" x2="931.7" y2="444.8" stroke="#3c4048" stroke-width="3"/>
<line x1="1020.7" y1="130.3" x2="995.8" y2="472.4" stroke="#3c4048" stroke-width="3"/>
<line x1="297.7" y1="180.5" x2="335.8" y2="636.8" stroke="#3c4048" stroke-width="3"/>
<line x1="671" y1="4.5" x2="676" y2="429" stroke="#3c4048" stroke-width="3.4"/>
<line x1="1090.6" y1="155.5" x2="1054" y2="607" stroke="#3c4048" stroke-width="3"/>
<circle cx="325.8" cy="531.8" r="3.2" fill="#101010"/>
<circle cx="320.2" cy="461.5" r="3.2" fill="#101010"/>
<circle cx="314.6" cy="391.3" r="3.2" fill="#101010"/>
<circle cx="308.9" cy="321" r="3.2" fill="#101010"/>
<circle cx="303.3" cy="250.8" r="3.2" fill="#101010"/>
<circle cx="297.7" cy="180.5" r="3.2" fill="#101010"/>
<polygon points="335.8,636.8 725.5,861.4 1054,607 676,429" fill="#5b5d63"/>
<g clip-path="url(#c1)">
<path d="M356.1 656L740.7 452.4" fill="none" stroke="#e09a30" stroke-width="4.2" stroke-linecap="butt"/>
<path d="M424.2 695.1L802.5 481.3" fill="none" stroke="#8cc63a" stroke-width="4.2" stroke-linecap="butt"/>
<path d="M494 734.9L867.9 512" fill="none" stroke="#58b832" stroke-width="4.2" stroke-linecap="butt"/>
<path d="M567.2 776.6L931.7 541.7" fill="none" stroke="#4cb85c" stroke-width="4.2" stroke-linecap="butt"/>
<path d="M643.4 821.6L998.3 574.8" fill="none" stroke="#4cc0c0" stroke-width="4.2" stroke-linecap="butt"/>
</g>
<line x1="335.8" y1="636.8" x2="676" y2="429" stroke="#141416" stroke-width="3.4"/>
<line x1="676" y1="429" x2="1054" y2="607" stroke="#141416" stroke-width="3.4"/>
<line x1="335.8" y1="636.8" x2="725.5" y2="861.4" stroke="#141416" stroke-width="2.6"/>
<line x1="725.5" y1="861.4" x2="1054" y2="607" stroke="#141416" stroke-width="2.6"/>
<circle cx="335.8" cy="636.8" r="3.3" fill="#0c0c0c"/>
<circle cx="400.8" cy="674.2" r="3.3" fill="#0c0c0c"/>
<circle cx="465.7" cy="711.7" r="3.3" fill="#0c0c0c"/>
<circle cx="530.6" cy="749.1" r="3.3" fill="#0c0c0c"/>
<circle cx="595.6" cy="786.5" r="3.3" fill="#0c0c0c"/>
<circle cx="660.5" cy="824" r="3.3" fill="#0c0c0c"/>
<circle cx="725.5" cy="861.4" r="3.3" fill="#0c0c0c"/>
<circle cx="807.6" cy="797.8" r="3.3" fill="#0c0c0c"/>
<circle cx="889.8" cy="734.2" r="3.3" fill="#0c0c0c"/>
<circle cx="971.9" cy="670.6" r="3.3" fill="#0c0c0c"/>
<circle cx="1054" cy="607" r="3.3" fill="#0c0c0c"/>
<circle cx="910.7" cy="544.4" r="6" fill="#f4b6c6" stroke="#c08090" stroke-width="1"/>
<polygon points="303,252.5 728.5,672 747.2,658.4 323.2,241.5" fill="url(#g2)"/>
<polygon points="319.8,243.3 744.1,660.7 762.6,647.2 339.8,232.4" fill="url(#g3)"/>
<polygon points="336.5,234.2 759.5,649.4 777.9,636 356.3,223.4" fill="url(#g4)"/>
<polygon points="353,225.2 774.9,638.3 793.1,625 372.7,214.5" fill="url(#g5)"/>
<polygon points="369.4,216.3 790.1,627.2 808.1,614.1 388.9,205.7" fill="url(#g6)"/>
<polygon points="385.7,207.4 805.1,616.2 823,603.2 405.1,196.9" fill="url(#g7)"/>
<polygon points="401.8,198.6 820.1,605.4 837.8,592.5 421,188.2" fill="url(#g8)"/>
<polygon points="417.8,189.9 834.9,594.6 852.5,581.8 436.9,179.6" fill="url(#g9)"/>
<polygon points="433.7,181.3 849.5,583.9 867,571.2 452.6,171" fill="url(#g10)"/>
<polygon points="449.4,172.7 864.1,573.3 881.4,560.8 468.2,162.5" fill="url(#g11)"/>
<polygon points="465.1,164.2 878.5,562.8 895.7,550.4 483.6,154.1" fill="url(#g12)"/>
<polygon points="480.5,155.8 892.8,552.4 909.8,540 499,145.7" fill="url(#g13)"/>
<polygon points="495.9,147.4 907,542.1 923.9,529.8 514.2,137.4" fill="url(#g14)"/>
<polygon points="511.1,139.1 921.1,531.9 937.8,519.7 529.3,129.2" fill="url(#g15)"/>
<polygon points="526.2,130.9 935,521.7 951.6,509.6 544.2,121.1" fill="url(#g16)"/>
<polygon points="541.2,122.7 948.9,511.6 965.3,499.7 559.1,113" fill="url(#g17)"/>
<polygon points="556.1,114.6 962.6,501.6 978.9,489.8 573.8,105" fill="url(#g18)"/>
<polygon points="570.9,106.6 976.2,491.7 992.4,480 588.4,97" fill="url(#g19)"/>
<polygon points="585.5,98.6 989.7,481.9 1005.8,470.2 602.9,89.1" fill="url(#g20)"/>
<polygon points="600,90.7 1003.1,472.2 1019.1,460.6 617.3,81.2" fill="url(#g21)"/>
<polygon points="614.5,82.8 1016.4,462.5 1032.2,451 631.6,73.5" fill="url(#g22)"/>
<polygon points="628.8,75 1029.6,452.9 1045.3,441.5 645.8,65.7" fill="url(#g23)"/>
<polygon points="642.9,67.3 1042.7,443.4 1058.2,432.1 659.8,58.1" fill="url(#g24)"/>
<polygon points="657,59.6 1055.6,434 1068.5,424.6 671,52" fill="url(#g25)"/>
<path d="M303 252.5L671 52M303 252.5L728.5 672M323.5 272.7L690.2 70M323.2 241.5L747.2 658.4M344.1 293.1L709.6 88.1M343.1 230.6L765.7 644.9M364.8 313.5L728.9 106.3M362.9 219.9L784 631.6M385.6 333.9L748.4 124.5M382.5 209.2L802.1 618.4M406.4 354.5L767.9 142.8M401.8 198.6L820.1 605.4M427.4 375.1L787.5 161.2M421 188.2L837.8 592.5M448.3 395.8L807.1 179.6M440 177.8L855.4 579.7M469.4 416.6L826.8 198M458.8 167.6L872.8 567M490.6 437.4L846.6 216.6M477.5 157.5L890 554.5M511.8 458.4L866.4 235.2M495.9 147.4L907 542.1M533.1 479.4L886.3 253.8M514.2 137.4L923.9 529.8M554.5 500.4L906.3 272.5M532.3 127.6L940.6 517.7M576 521.6L926.3 291.3M550.2 117.8L957.1 505.6M597.5 542.9L946.4 310.2M567.9 108.2L973.5 493.7M619.1 564.2L966.6 329.1M585.5 98.6L989.7 481.9M640.8 585.6L986.8 348.1M602.9 89.1L1005.8 470.2M662.6 607.1L1007.1 367.1M620.2 79.7L1021.7 458.7M684.5 628.6L1027.5 386.2M637.3 70.4L1037.4 447.2M706.5 650.3L1048 405.4M654.2 61.1L1053 435.8M728.5 672L1068.5 424.6M671 52L1068.5 424.6" fill="none" stroke="#1a2010" stroke-opacity="0.74" stroke-width="2.7"/>
<circle cx="1068.5" cy="424.6" r="7.5" fill="#b01c24" stroke="#5a1016" stroke-width="1.6"/>
<circle cx="438" cy="387.5" r="7.5" fill="#b01c24" stroke="#5a1016" stroke-width="1.6"/>
<text x="126.4" y="56.1" font-size="56.3" text-anchor="start" fill="#1a1a1a">(a)</text>
<text x="269.2" y="204.1" font-size="56.3" text-anchor="end" fill="#1a1a1a">250</text>
<text x="277" y="271.5" font-size="56.3" text-anchor="end" fill="#1a1a1a">200</text>
<text x="281.3" y="339.2" font-size="56.3" text-anchor="end" fill="#1a1a1a">150</text>
<text x="290.7" y="409.7" font-size="56.3" text-anchor="end" fill="#1a1a1a">100</text>
<text x="295.3" y="481.1" font-size="56.3" text-anchor="end" fill="#1a1a1a">50</text>
<text x="301.8" y="548.4" font-size="56.3" text-anchor="end" fill="#1a1a1a">0</text>
<text x="193.4" y="378.3" font-size="56.3" text-anchor="middle" fill="#1a1a1a" transform="rotate(-90 193.4 378.3)"><tspan font-style="italic">E</tspan>/GPa</text>
<text x="280" y="684.2" font-size="56.3" text-anchor="middle" fill="#1a1a1a">300</text>
<text x="345.7" y="722.1" font-size="56.3" text-anchor="middle" fill="#1a1a1a">400</text>
<text x="412.4" y="760.7" font-size="56.3" text-anchor="middle" fill="#1a1a1a">500</text>
<text x="474.5" y="800.2" font-size="56.3" text-anchor="middle" fill="#1a1a1a">600</text>
<text x="543.1" y="842.2" font-size="56.3" text-anchor="middle" fill="#1a1a1a">700</text>
<text x="606.3" y="884" font-size="56.3" text-anchor="middle" fill="#1a1a1a">800</text>
<text x="676.3" y="921.9" font-size="56.3" text-anchor="middle" fill="#1a1a1a">900</text>
<text x="403" y="846.5" font-size="56.3" text-anchor="middle" fill="#1a1a1a" transform="rotate(32 403 846.5)"><tspan font-style="italic">T</tspan>/K</text>
<text x="780.4" y="912.8" font-size="56.3" text-anchor="middle" fill="#1a1a1a">1.0</text>
<text x="855.5" y="850" font-size="56.3" text-anchor="middle" fill="#1a1a1a">1.3</text>
<text x="942.4" y="781.2" font-size="56.3" text-anchor="middle" fill="#1a1a1a">1.6</text>
<text x="1020.7" y="716.3" font-size="56.3" text-anchor="middle" fill="#1a1a1a">1.9</text>
<text x="1107.3" y="651.6" font-size="56.3" text-anchor="middle" fill="#1a1a1a">2.2</text>
<text x="1007.7" y="828.5" font-size="56.3" text-anchor="middle" fill="#1a1a1a" transform="rotate(-38 1007.7 828.5)">R/%</text>
<line x1="1369.1" y1="534.7" x2="1747.7" y2="335.4" stroke="#3c4048" stroke-width="3"/>
<line x1="1747.7" y1="335.4" x2="2165" y2="501.6" stroke="#3c4048" stroke-width="3"/>
<line x1="1362.8" y1="464.2" x2="1746.7" y2="269.3" stroke="#3c4048" stroke-width="3"/>
<line x1="1746.7" y1="269.3" x2="2171.7" y2="432.6" stroke="#3c4048" stroke-width="3"/>
<line x1="1356.5" y1="393.6" x2="1745.8" y2="203.2" stroke="#3c4048" stroke-width="3"/>
<line x1="1745.8" y1="203.2" x2="2178.4" y2="363.6" stroke="#3c4048" stroke-width="3"/>
<line x1="1350.3" y1="323.1" x2="1744.8" y2="137.2" stroke="#3c4048" stroke-width="3"/>
<line x1="1744.8" y1="137.2" x2="2185.1" y2="294.6" stroke="#3c4048" stroke-width="3"/>
<line x1="1344" y1="252.5" x2="1743.9" y2="71.1" stroke="#3c4048" stroke-width="3"/>
<line x1="1743.9" y1="71.1" x2="2191.8" y2="225.6" stroke="#3c4048" stroke-width="3"/>
<line x1="1337.7" y1="182" x2="1742.9" y2="5" stroke="#26282c" stroke-width="3.4"/>
<line x1="1742.9" y1="5" x2="2198.5" y2="156.6" stroke="#26282c" stroke-width="3.4"/>
<line x1="1439" y1="137.8" x2="1463.8" y2="484.9" stroke="#3c4048" stroke-width="3"/>
<line x1="1540.3" y1="93.5" x2="1558.4" y2="435.1" stroke="#3c4048" stroke-width="3"/>
<line x1="1641.6" y1="49.2" x2="1653" y2="385.2" stroke="#3c4048" stroke-width="3"/>
<line x1="1818.8" y1="30.3" x2="1817.2" y2="363.1" stroke="#3c4048" stroke-width="3"/>
<line x1="1894.8" y1="55.5" x2="1886.8" y2="390.8" stroke="#3c4048" stroke-width="3"/>
<line x1="1970.7" y1="80.8" x2="1956.3" y2="418.5" stroke="#3c4048" stroke-width="3"/>
<line x1="2046.6" y1="106.1" x2="2025.9" y2="446.2" stroke="#3c4048" stroke-width="3"/>
<line x1="2122.6" y1="131.3" x2="2095.4" y2="473.9" stroke="#3c4048" stroke-width="3"/>
<line x1="1337.7" y1="182" x2="1378" y2="640" stroke="#3c4048" stroke-width="3"/>
<line x1="1742.9" y1="5" x2="1749" y2="430" stroke="#3c4048" stroke-width="3.4"/>
<line x1="2198.5" y1="156.6" x2="2157" y2="609.8" stroke="#3c4048" stroke-width="3"/>
<circle cx="1369.1" cy="534.7" r="3.2" fill="#101010"/>
<circle cx="1362.8" cy="464.2" r="3.2" fill="#101010"/>
<circle cx="1356.5" cy="393.6" r="3.2" fill="#101010"/>
<circle cx="1350.3" cy="323.1" r="3.2" fill="#101010"/>
<circle cx="1344" cy="252.5" r="3.2" fill="#101010"/>
<circle cx="1337.7" cy="182" r="3.2" fill="#101010"/>
<polygon points="1378,640 1802,867 2157,609.8 1749,430" fill="#5b5d63"/>
<g clip-path="url(#c26)">
<path d="M1412.2 664.8L1841 464" fill="none" stroke="#e0c030" stroke-width="4.4" stroke-linecap="butt"/>
<path d="M1483.4 702.6L1929.3 503" fill="none" stroke="#80c838" stroke-width="4.4" stroke-linecap="butt"/>
<path d="M1557.9 740.7C1589.7 727.5 1680.1 689.4 1748.4 662C1816.7 634.6 1920.7 594.2 1967.5 576.1C2014.3 558 2015.2 558.5 2029 553.5C2042.8 548.5 2046.9 547.1 2050.5 545.8" fill="none" stroke="#50b838" stroke-width="4.4" stroke-linecap="butt"/>
<path d="M1634.9 781.4C1659.1 771.7 1734.4 741.4 1780 723.7C1825.6 706 1865.5 690.3 1908.3 674.9C1951 659.5 1999.3 643.9 2036.5 631.3C2073.7 618.7 2112.7 605.6 2131.5 599.2C2150.3 592.8 2146.5 593.9 2149.5 592.8" fill="none" stroke="#50c8a8" stroke-width="4.4" stroke-linecap="butt"/>
<path d="M1714 824.4C1725 820.3 1747.6 811.4 1780 799.3C1812.4 787.2 1869.4 766.6 1908.3 751.9C1947.2 737.1 1994 718.4 2013.4 710.8C2032.8 703.2 2022.6 707.2 2024.5 706.5" fill="none" stroke="#3878d0" stroke-width="4.4" stroke-linecap="butt"/>
</g>
<line x1="1378" y1="640" x2="1749" y2="430" stroke="#141416" stroke-width="3.4"/>
<line x1="1749" y1="430" x2="2157" y2="609.8" stroke="#141416" stroke-width="3.4"/>
<line x1="1378" y1="640" x2="1802" y2="867" stroke="#141416" stroke-width="2.6"/>
<line x1="1802" y1="867" x2="2157" y2="609.8" stroke="#141416" stroke-width="2.6"/>
<circle cx="1378" cy="640" r="3.3" fill="#0c0c0c"/>
<circle cx="1448.7" cy="677.8" r="3.3" fill="#0c0c0c"/>
<circle cx="1519.3" cy="715.7" r="3.3" fill="#0c0c0c"/>
<circle cx="1590" cy="753.5" r="3.3" fill="#0c0c0c"/>
<circle cx="1660.7" cy="791.3" r="3.3" fill="#0c0c0c"/>
<circle cx="1731.3" cy="829.2" r="3.3" fill="#0c0c0c"/>
<circle cx="1802" cy="867" r="3.3" fill="#0c0c0c"/>
<circle cx="1890.8" cy="802.7" r="3.3" fill="#0c0c0c"/>
<circle cx="1979.5" cy="738.4" r="3.3" fill="#0c0c0c"/>
<circle cx="2068.2" cy="674.1" r="3.3" fill="#0c0c0c"/>
<circle cx="2157" cy="609.8" r="3.3" fill="#0c0c0c"/>
<circle cx="1999.5" cy="544.5" r="7" fill="#f4b6c6" stroke="#c08090" stroke-width="1"/>
<circle cx="1884" cy="168.5" r="7" fill="#f4b6c6" stroke="#c08090" stroke-width="1"/>
<polygon points="1344.5,253.3 1803.5,705 1826,686.1 1368,241.6" fill="url(#g27)"/>
<polygon points="1364.1,243.5 1822.3,689.2 1844.4,670.7 1387.3,232" fill="url(#g28)"/>
<polygon points="1383.5,233.9 1840.8,673.8 1862.5,655.6 1406.3,222.5" fill="url(#g29)"/>
<polygon points="1402.5,224.4 1858.9,658.6 1880.3,640.7 1425,213.3" fill="url(#g30)"/>
<polygon points="1421.2,215.1 1876.7,643.7 1897.7,626.2 1443.3,204.1" fill="url(#g31)"/>
<polygon points="1439.7,205.9 1894.2,629.1 1914.8,611.9 1461.5,195.1" fill="url(#g32)"/>
<polygon points="1457.9,196.9 1911.4,614.7 1931.6,597.8 1479.3,186.2" fill="url(#g33)"/>
<polygon points="1475.7,188 1928.2,600.6 1948.1,584 1496.8,177.5" fill="url(#g34)"/>
<polygon points="1493.4,179.2 1944.8,586.7 1964.3,570.4 1514.1,168.9" fill="url(#g35)"/>
<polygon points="1510.7,170.6 1961.1,573.1 1980.2,557.1 1531.2,160.4" fill="url(#g36)"/>
<polygon points="1527.8,162.1 1977.1,559.7 1995.9,543.9 1548,152" fill="url(#g37)"/>
<polygon points="1544.6,153.7 1992.8,546.5 2011.3,531.1 1564.5,143.8" fill="url(#g38)"/>
<polygon points="1561.2,145.4 2008.2,533.6 2026.4,518.4 1580.8,135.7" fill="url(#g39)"/>
<polygon points="1577.6,137.3 2023.4,520.9 2041.3,505.9 1596.9,127.7" fill="url(#g40)"/>
<polygon points="1593.7,129.3 2038.3,508.4 2055.9,493.7 1612.7,119.8" fill="url(#g41)"/>
<polygon points="1609.6,121.4 2053,496.1 2070.3,481.6 1628.3,112" fill="url(#g42)"/>
<polygon points="1625.2,113.6 2067.5,484 2084.5,469.8 1643.7,104.4" fill="url(#g43)"/>
<polygon points="1640.7,105.9 2081.7,472.1 2098.4,458.1 1658.9,96.8" fill="url(#g44)"/>
<polygon points="1655.9,98.3 2095.7,460.4 2112.1,446.6 1673.9,89.4" fill="url(#g45)"/>
<polygon points="1670.9,90.8 2109.4,448.9 2125.6,435.3 1688.6,82" fill="url(#g46)"/>
<polygon points="1685.7,83.5 2123,437.6 2138.9,424.2 1703.2,74.8" fill="url(#g47)"/>
<polygon points="1700.3,76.2 2136.3,426.4 2152,413.3 1717.5,67.6" fill="url(#g48)"/>
<polygon points="1714.7,69 2149.4,415.4 2164.8,402.5 1731.7,60.6" fill="url(#g49)"/>
<polygon points="1728.9,62 2162.3,404.6 2175,394 1742.9,55" fill="url(#g50)"/>
<path d="M1344.5 253.3L1742.9 55M1344.5 253.3L1803.5 705M1364.1 272.6L1761.9 69.9M1368 241.6L1826 686.1M1384 292.2L1781.1 85M1391.1 230.1L1848.1 667.7M1404.2 312.1L1800.6 100.2M1413.8 218.8L1869.6 649.6M1424.8 332.3L1820.3 115.7M1436 207.7L1890.7 632M1445.6 352.8L1840.3 131.4M1457.9 196.9L1911.4 614.7M1466.8 373.7L1860.5 147.3M1479.3 186.2L1931.6 597.8M1488.4 394.9L1881 163.4M1500.3 175.7L1951.3 581.2M1510.3 416.4L1901.8 179.7M1521 165.5L1970.7 565M1532.5 438.3L1922.9 196.2M1541.3 155.4L1989.7 549.2M1555.1 460.6L1944.2 213M1561.2 145.4L2008.2 533.6M1578.1 483.2L1965.9 230M1580.8 135.7L2026.4 518.4M1601.5 506.2L1987.8 247.2M1600.1 126.1L2044.3 503.5M1625.2 529.6L2010.1 264.6M1619 116.7L2061.7 488.8M1649.4 553.4L2032.7 282.3M1637.6 107.4L2078.9 474.5M1674 577.5L2055.6 300.3M1655.9 98.3L2095.7 460.4M1699 602.2L2078.8 318.5M1673.9 89.4L2112.1 446.6M1724.4 627.2L2102.3 337M1691.6 80.6L2128.3 433.1M1750.3 652.7L2126.2 355.7M1709 71.9L2144.2 419.8M1776.7 678.6L2150.4 374.7M1726.1 63.4L2159.7 406.8M1803.5 705L2175 394M1742.9 55L2175 394" fill="none" stroke="#1a2010" stroke-opacity="0.74" stroke-width="2.7"/>
<circle cx="1451.8" cy="199.4" r="7.5" fill="#b01c24" stroke="#5a1016" stroke-width="1.6"/>
<circle cx="1803.6" cy="704.2" r="7.5" fill="#b01c24" stroke="#5a1016" stroke-width="1.6"/>
<text x="1206" y="56.1" font-size="56.3" text-anchor="start" fill="#1a1a1a">(b)</text>
<text x="1309.2" y="204.1" font-size="56.3" text-anchor="end" fill="#1a1a1a">250</text>
<text x="1316.4" y="271.5" font-size="56.3" text-anchor="end" fill="#1a1a1a">200</text>
<text x="1321.3" y="339.2" font-size="56.3" text-anchor="end" fill="#1a1a1a">150</text>
<text x="1330.7" y="409.7" font-size="56.3" text-anchor="end" fill="#1a1a1a">100</text>
<text x="1335.3" y="481.1" font-size="56.3" text-anchor="end" fill="#1a1a1a">50</text>
<text x="1341.2" y="548.4" font-size="56.3" text-anchor="end" fill="#1a1a1a">0</text>
<text x="1232.8" y="378.3" font-size="56.3" text-anchor="middle" fill="#1a1a1a" transform="rotate(-90 1232.8 378.3)"><tspan font-style="italic">E</tspan>/GPa</text>
<text x="1313.4" y="688.8" font-size="56.3" text-anchor="middle" fill="#1a1a1a">300</text>
<text x="1384.9" y="726.7" font-size="56.3" text-anchor="middle" fill="#1a1a1a">400</text>
<text x="1455.4" y="760.5" font-size="56.3" text-anchor="middle" fill="#1a1a1a">500</text>
<text x="1519.6" y="800.2" font-size="56.3" text-anchor="middle" fill="#1a1a1a">600</text>
<text x="1596.6" y="842.2" font-size="56.3" text-anchor="middle" fill="#1a1a1a">700</text>
<text x="1672" y="880.5" font-size="56.3" text-anchor="middle" fill="#1a1a1a">800</text>
<text x="1753.6" y="923.7" font-size="56.3" text-anchor="middle" fill="#1a1a1a">900</text>
<text x="1474.3" y="868.3" font-size="56.3" text-anchor="middle" fill="#1a1a1a" transform="rotate(32 1474.3 868.3)"><tspan font-style="italic">T</tspan>/K</text>
<text x="1845.7" y="914.6" font-size="56.3" text-anchor="middle" fill="#1a1a1a">1</text>
<text x="1933.2" y="845.3" font-size="56.3" text-anchor="middle" fill="#1a1a1a">2</text>
<text x="2018.8" y="779.1" font-size="56.3" text-anchor="middle" fill="#1a1a1a">3</text>
<text x="2100.7" y="715.8" font-size="56.3" text-anchor="middle" fill="#1a1a1a">4</text>
<text x="2185.8" y="651.6" font-size="56.3" text-anchor="middle" fill="#1a1a1a">5</text>
<text x="2087.7" y="815.3" font-size="56.3" text-anchor="middle" fill="#1a1a1a" transform="rotate(-38 2087.7 815.3)"><tspan font-style="italic">V</tspan>/%</text>
<line x1="2434.7" y1="539.5" x2="2787.4" y2="336.8" stroke="#3c4048" stroke-width="3"/>
<line x1="2787.4" y1="336.8" x2="3181" y2="507" stroke="#3c4048" stroke-width="3"/>
<line x1="2428.7" y1="468.6" x2="2787" y2="270.6" stroke="#3c4048" stroke-width="3"/>
<line x1="2787" y1="270.6" x2="3186.7" y2="437.2" stroke="#3c4048" stroke-width="3"/>
<line x1="2422.7" y1="397.6" x2="2786.6" y2="204.4" stroke="#3c4048" stroke-width="3"/>
<line x1="2786.6" y1="204.4" x2="3192.4" y2="367.4" stroke="#3c4048" stroke-width="3"/>
<line x1="2416.8" y1="326.7" x2="2786.3" y2="138.2" stroke="#3c4048" stroke-width="3"/>
<line x1="2786.3" y1="138.2" x2="3198" y2="297.5" stroke="#3c4048" stroke-width="3"/>
<line x1="2410.8" y1="255.7" x2="2785.9" y2="72" stroke="#3c4048" stroke-width="3"/>
<line x1="2785.9" y1="72" x2="3203.7" y2="227.7" stroke="#3c4048" stroke-width="3"/>
<line x1="2404.8" y1="184.8" x2="2785.5" y2="5.8" stroke="#26282c" stroke-width="3.4"/>
<line x1="2785.5" y1="5.8" x2="3209.4" y2="157.9" stroke="#26282c" stroke-width="3.4"/>
<line x1="2500" y1="140.1" x2="2522.9" y2="488.8" stroke="#3c4048" stroke-width="3"/>
<line x1="2595.2" y1="95.3" x2="2611.1" y2="438.1" stroke="#3c4048" stroke-width="3"/>
<line x1="2690.3" y1="50.6" x2="2699.2" y2="387.5" stroke="#3c4048" stroke-width="3"/>
<line x1="2891.5" y1="43.8" x2="2885.8" y2="379.4" stroke="#3c4048" stroke-width="3"/>
<line x1="2997.4" y1="81.8" x2="2984.2" y2="421.9" stroke="#3c4048" stroke-width="3"/>
<line x1="3103.4" y1="119.9" x2="3082.6" y2="464.4" stroke="#3c4048" stroke-width="3"/>
<line x1="2404.8" y1="184.8" x2="2443.7" y2="646.5" stroke="#3c4048" stroke-width="3"/>
<line x1="2785.5" y1="5.8" x2="2788" y2="433" stroke="#3c4048" stroke-width="3.4"/>
<line x1="3209.4" y1="157.9" x2="3172.3" y2="615.7" stroke="#3c4048" stroke-width="3"/>
<circle cx="2434.7" cy="539.5" r="3.2" fill="#101010"/>
<circle cx="2428.7" cy="468.6" r="3.2" fill="#101010"/>
<circle cx="2422.7" cy="397.6" r="3.2" fill="#101010"/>
<circle cx="2416.8" cy="326.7" r="3.2" fill="#101010"/>
<circle cx="2410.8" cy="255.7" r="3.2" fill="#101010"/>
<circle cx="2404.8" cy="184.8" r="3.2" fill="#101010"/>
<polygon points="2443.7,646.5 2840,874 3172.3,615.7 2788,433" fill="#5b5d63"/>
<g clip-path="url(#c51)">
<path d="M2859.9 868.2C2843.5 854.1 2794 811.8 2761.4 783.6C2728.8 755.4 2691.1 722 2664.1 699.3C2637.1 676.6 2620.9 665 2599.3 647.5C2577.7 630 2547.1 604.4 2534.5 594C2521.9 583.6 2525.6 586.7 2523.8 585.2" fill="none" stroke="#4cb030" stroke-width="4.4" stroke-linecap="butt"/>
<path d="M2927.6 812.7C2910.7 798.2 2859.3 753.9 2826.2 725.3C2793.1 696.7 2756 664.8 2729 641C2702 617.2 2682.2 599.6 2664.1 582.6C2646 565.6 2629.2 547.7 2620.4 538.9C2611.6 530.1 2612.9 531.4 2611.3 529.8" fill="none" stroke="#4cb030" stroke-width="4.4" stroke-linecap="butt"/>
<path d="M2994.9 761.5C2980.4 747.9 2933.8 704.3 2908 679.9C2882.2 655.5 2862.7 635.3 2840 615C2817.3 594.7 2796.3 579.5 2772 558.3C2747.7 537.1 2707.1 499.4 2694.1 487.6" fill="none" stroke="#4cb030" stroke-width="4.4" stroke-linecap="butt"/>
<path d="M3058.3 712.7C3044.1 700.2 3001.7 663.7 2972.9 637.7C2944.1 611.7 2915.2 585.6 2885.4 556.7C2855.6 527.8 2809.6 479.7 2794.4 464.3" fill="none" stroke="#4cb030" stroke-width="4.4" stroke-linecap="butt"/>
<path d="M3118.4 664C3105 652.6 3064.7 620.2 3037.7 595.6C3010.7 571 2971.8 531 2956.7 516.2C2941.6 501.4 2948.9 508.4 2947.3 506.8" fill="none" stroke="#4cb030" stroke-width="4.4" stroke-linecap="butt"/>
</g>
<line x1="2443.7" y1="646.5" x2="2788" y2="433" stroke="#141416" stroke-width="3.4"/>
<line x1="2788" y1="433" x2="3172.3" y2="615.7" stroke="#141416" stroke-width="3.4"/>
<line x1="2443.7" y1="646.5" x2="2840" y2="874" stroke="#141416" stroke-width="2.6"/>
<line x1="2840" y1="874" x2="3172.3" y2="615.7" stroke="#141416" stroke-width="2.6"/>
<circle cx="2443.7" cy="646.5" r="3.3" fill="#0c0c0c"/>
<circle cx="2542.8" cy="703.4" r="3.3" fill="#0c0c0c"/>
<circle cx="2641.8" cy="760.2" r="3.3" fill="#0c0c0c"/>
<circle cx="2740.9" cy="817.1" r="3.3" fill="#0c0c0c"/>
<circle cx="2840" cy="874" r="3.3" fill="#0c0c0c"/>
<circle cx="2923.1" cy="809.4" r="3.3" fill="#0c0c0c"/>
<circle cx="3006.2" cy="744.9" r="3.3" fill="#0c0c0c"/>
<circle cx="3089.2" cy="680.3" r="3.3" fill="#0c0c0c"/>
<circle cx="3172.3" cy="615.7" r="3.3" fill="#0c0c0c"/>
<polygon points="2422.7,386.4 2843,589.8 2863.4,572.9 2443.2,373.2" fill="url(#g52)"/>
<polygon points="2439.8,375.4 2860,575.7 2880.1,558.9 2460.1,362.3" fill="url(#g53)"/>
<polygon points="2456.7,364.4 2876.8,561.7 2896.7,545.2 2476.8,351.5" fill="url(#g54)"/>
<polygon points="2473.5,353.6 2893.4,547.9 2913,531.7 2493.3,340.9" fill="url(#g55)"/>
<polygon points="2490,343 2909.7,534.4 2929.1,518.3 2509.6,330.3" fill="url(#g56)"/>
<polygon points="2506.4,332.4 2925.9,520.9 2944.9,505.1 2525.8,319.9" fill="url(#g57)"/>
<polygon points="2522.5,322 2941.8,507.7 2960.6,492 2541.7,309.6" fill="url(#g58)"/>
<polygon points="2538.5,311.7 2957.5,494.6 2976.1,479.2 2557.5,299.5" fill="url(#g59)"/>
<polygon points="2554.4,301.5 2973,481.7 2991.4,466.5 2573.1,289.4" fill="url(#g60)"/>
<polygon points="2570,291.4 2988.4,469 3006.5,453.9 2588.5,279.4" fill="url(#g61)"/>
<polygon points="2585.5,281.4 3003.5,456.4 3021.4,441.5 2603.8,269.6" fill="url(#g62)"/>
<polygon points="2600.8,271.6 3018.4,444 3036.1,429.3 2618.9,259.8" fill="url(#g63)"/>
<polygon points="2615.9,261.8 3033.2,431.7 3050.7,417.2 2633.8,250.2" fill="url(#g64)"/>
<polygon points="2630.9,252.1 3047.8,419.6 3065,405.3 2648.6,240.7" fill="url(#g65)"/>
<polygon points="2645.7,242.6 3062.2,407.6 3079.2,393.5 2663.2,231.3" fill="url(#g66)"/>
<polygon points="2660.3,233.1 3076.4,395.8 3093.2,381.8 2677.7,221.9" fill="url(#g67)"/>
<polygon points="2674.8,223.8 3090.5,384.1 3107.1,370.3 2692,212.7" fill="url(#g68)"/>
<polygon points="2689.2,214.5 3104.3,372.6 3120.8,359 2706.2,203.6" fill="url(#g69)"/>
<polygon points="2703.4,205.4 3118,361.2 3134.3,347.7 2720.2,194.5" fill="url(#g70)"/>
<polygon points="2717.4,196.3 3131.6,350 3147.6,336.6 2734.1,185.6" fill="url(#g71)"/>
<polygon points="2731.3,187.3 3145,338.8 3160.8,325.6 2747.8,176.7" fill="url(#g72)"/>
<polygon points="2745.1,178.5 3158.2,327.8 3173.9,314.8 2761.4,167.9" fill="url(#g73)"/>
<polygon points="2758.7,169.7 3171.3,317 3186.8,304.1 2774.8,159.3" fill="url(#g74)"/>
<polygon points="2772.2,161 3184.2,306.2 3197,295.6 2785.5,152.4" fill="url(#g75)"/>
<path d="M2422.7 386.4L2785.5 152.4M2422.7 386.4L2843 589.8M2441 395.2L2803.7 158.7M2443.2 373.2L2863.4 572.9M2459.5 404.2L2822.1 165.2M2463.5 360.1L2883.5 556.2M2478.3 413.3L2840.8 171.6M2483.4 347.2L2903.2 539.8M2497.3 422.5L2859.7 178.2M2503.1 334.5L2922.6 523.6M2516.6 431.8L2878.8 184.9M2522.5 322L2941.8 507.7M2536.2 441.3L2898.2 191.6M2541.7 309.6L2960.6 492M2556.1 450.9L2917.8 198.4M2560.6 297.4L2979.2 476.6M2576.2 460.7L2937.6 205.3M2579.3 285.4L2997.5 461.4M2596.7 470.6L2957.7 212.3M2597.7 273.5L3015.5 446.5M2617.4 480.6L2978.1 219.4M2615.9 261.8L3033.2 431.7M2638.5 490.8L2998.7 226.6M2633.8 250.2L3050.7 417.2M2659.8 501.2L3019.6 233.9M2651.6 238.8L3067.9 402.9M2681.5 511.7L3040.8 241.2M2669.1 227.5L3084.9 388.8M2703.5 522.3L3062.2 248.7M2686.3 216.4L3101.6 374.9M2725.9 533.1L3083.9 256.3M2703.4 205.4L3118 361.2M2748.6 544.1L3105.9 263.9M2720.2 194.5L3134.3 347.7M2771.7 555.3L3128.3 271.7M2736.8 183.8L3150.3 334.4M2795.1 566.6L3150.9 279.5M2753.3 173.2L3166.1 321.3M2818.8 578.1L3173.8 287.5M2769.5 162.7L3181.7 308.4M2843 589.8L3197 295.6M2785.5 152.4L3197 295.6" fill="none" stroke="#10300c" stroke-opacity="0.7" stroke-width="2.4"/>
<text x="2290" y="56.1" font-size="56.3" text-anchor="start" fill="#1a1a1a">(c)</text>
<text x="2379.9" y="208.8" font-size="56.3" text-anchor="end" fill="#1a1a1a">250</text>
<text x="2387.6" y="277.7" font-size="56.3" text-anchor="end" fill="#1a1a1a">200</text>
<text x="2392.3" y="346" font-size="56.3" text-anchor="end" fill="#1a1a1a">150</text>
<text x="2401.6" y="415.9" font-size="56.3" text-anchor="end" fill="#1a1a1a">100</text>
<text x="2405.3" y="486.4" font-size="56.3" text-anchor="end" fill="#1a1a1a">50</text>
<text x="2411.8" y="555.6" font-size="56.3" text-anchor="end" fill="#1a1a1a">0</text>
<text x="2302.6" y="383" font-size="56.3" text-anchor="middle" fill="#1a1a1a" transform="rotate(-90 2302.6 383)"><tspan font-style="italic">E</tspan>/GPa</text>
<text x="2401.6" y="701" font-size="56.3" text-anchor="middle" fill="#1a1a1a">1.0</text>
<text x="2502.4" y="760.7" font-size="56.3" text-anchor="middle" fill="#1a1a1a">1.3</text>
<text x="2600" y="818.5" font-size="56.3" text-anchor="middle" fill="#1a1a1a">1.6</text>
<text x="2694.7" y="871.4" font-size="56.3" text-anchor="middle" fill="#1a1a1a">1.9</text>
<text x="2795.7" y="929.9" font-size="56.3" text-anchor="middle" fill="#1a1a1a">2.2</text>
<text x="2527.5" y="874.1" font-size="56.3" text-anchor="middle" fill="#1a1a1a" transform="rotate(38 2527.5 874.1)"><tspan font-style="italic">R</tspan>/%</text>
<text x="2868.3" y="926.7" font-size="56.3" text-anchor="middle" fill="#1a1a1a">1</text>
<text x="2956.3" y="857.7" font-size="56.3" text-anchor="middle" fill="#1a1a1a">2</text>
<text x="3042.3" y="791.5" font-size="56.3" text-anchor="middle" fill="#1a1a1a">3</text>
<text x="3123.1" y="728.6" font-size="56.3" text-anchor="middle" fill="#1a1a1a">4</text>
<text x="3207.5" y="661.9" font-size="56.3" text-anchor="middle" fill="#1a1a1a">5</text>
<text x="3110.7" y="827.2" font-size="56.3" text-anchor="middle" fill="#1a1a1a" transform="rotate(-38 3110.7 827.2)"><tspan font-style="italic">V</tspan>/%</text>
<rect x="305" y="1046.2" width="783.6" height="11.8" fill="url(#g76)"/>
<rect x="305" y="1058" width="783.6" height="13" fill="url(#g77)"/>
<rect x="305" y="1071" width="783.6" height="12" fill="url(#g78)"/>
<rect x="305" y="1083" width="783.6" height="12" fill="url(#g79)"/>
<rect x="305" y="1095" width="783.6" height="12" fill="url(#g80)"/>
<rect x="305" y="1107" width="783.6" height="13" fill="url(#g81)"/>
<rect x="305" y="1120" width="783.6" height="12" fill="url(#g82)"/>
<rect x="305" y="1132" width="783.6" height="12" fill="url(#g83)"/>
<rect x="305" y="1144" width="783.6" height="12" fill="url(#g84)"/>
<rect x="305" y="1156" width="783.6" height="12" fill="url(#g85)"/>
<rect x="305" y="1168" width="783.6" height="13" fill="url(#g86)"/>
<rect x="305" y="1181" width="783.6" height="12" fill="url(#g87)"/>
<rect x="305" y="1193" width="783.6" height="12" fill="url(#g88)"/>
<rect x="305" y="1205" width="783.6" height="12" fill="url(#g89)"/>
<rect x="305" y="1217" width="783.6" height="13" fill="url(#g90)"/>
<rect x="305" y="1230" width="783.6" height="12" fill="url(#g91)"/>
<rect x="305" y="1242" width="783.6" height="12" fill="url(#g92)"/>
<rect x="305" y="1254" width="783.6" height="12" fill="url(#g93)"/>
<rect x="305" y="1266" width="783.6" height="13" fill="url(#g94)"/>
<rect x="305" y="1279" width="783.6" height="12" fill="url(#g95)"/>
<rect x="305" y="1291" width="783.6" height="12" fill="url(#g96)"/>
<rect x="305" y="1303" width="783.6" height="12" fill="url(#g97)"/>
<rect x="305" y="1315" width="783.6" height="12" fill="url(#g98)"/>
<rect x="305" y="1327" width="783.6" height="13" fill="url(#g99)"/>
<rect x="305" y="1340" width="783.6" height="12" fill="url(#g100)"/>
<rect x="305" y="1352" width="783.6" height="12" fill="url(#g101)"/>
<rect x="305" y="1364" width="783.6" height="12" fill="url(#g102)"/>
<rect x="305" y="1376" width="783.6" height="13" fill="url(#g103)"/>
<rect x="305" y="1389" width="783.6" height="12" fill="url(#g104)"/>
<rect x="305" y="1401" width="783.6" height="12" fill="url(#g105)"/>
<rect x="305" y="1413" width="783.6" height="12" fill="url(#g106)"/>
<rect x="305" y="1425" width="783.6" height="13" fill="url(#g107)"/>
<rect x="305" y="1438" width="783.6" height="12" fill="url(#g108)"/>
<rect x="305" y="1450" width="783.6" height="12" fill="url(#g109)"/>
<rect x="305" y="1462" width="783.6" height="12" fill="url(#g110)"/>
<rect x="305" y="1474" width="783.6" height="12" fill="url(#g111)"/>
<rect x="305" y="1486" width="783.6" height="13" fill="url(#g112)"/>
<rect x="305" y="1499" width="783.6" height="12" fill="url(#g113)"/>
<rect x="305" y="1511" width="783.6" height="12" fill="url(#g114)"/>
<rect x="305" y="1523" width="783.6" height="12" fill="url(#g115)"/>
<rect x="305" y="1535" width="783.6" height="13" fill="url(#g116)"/>
<rect x="305" y="1548" width="783.6" height="12" fill="url(#g117)"/>
<rect x="305" y="1560" width="783.6" height="12" fill="url(#g118)"/>
<rect x="305" y="1572" width="783.6" height="12" fill="url(#g119)"/>
<rect x="305" y="1584" width="783.6" height="13" fill="url(#g120)"/>
<rect x="305" y="1597" width="783.6" height="12" fill="url(#g121)"/>
<rect x="305" y="1609" width="783.6" height="12" fill="url(#g122)"/>
<rect x="305" y="1621" width="783.6" height="12" fill="url(#g123)"/>
<rect x="305" y="1633" width="783.6" height="12" fill="url(#g124)"/>
<rect x="305" y="1645" width="783.6" height="13" fill="url(#g125)"/>
<rect x="305" y="1658" width="783.6" height="12" fill="url(#g126)"/>
<rect x="305" y="1670" width="783.6" height="12" fill="url(#g127)"/>
<rect x="305" y="1682" width="783.6" height="12" fill="url(#g128)"/>
<rect x="305" y="1694" width="783.6" height="13" fill="url(#g129)"/>
<rect x="305" y="1707" width="783.6" height="12" fill="url(#g130)"/>
<rect x="305" y="1719" width="783.6" height="12" fill="url(#g131)"/>
<rect x="305" y="1731" width="783.6" height="12" fill="url(#g132)"/>
<rect x="305" y="1743" width="783.6" height="13" fill="url(#g133)"/>
<rect x="305" y="1756" width="783.6" height="12" fill="url(#g134)"/>
<rect x="305" y="1768" width="783.6" height="12" fill="url(#g135)"/>
<rect x="305" y="1780" width="783.6" height="12" fill="url(#g136)"/>
<rect x="305" y="1792" width="783.6" height="12" fill="url(#g137)"/>
<rect x="305" y="1804" width="783.6" height="13" fill="url(#g138)"/>
<rect x="305" y="1817" width="783.6" height="11.9" fill="url(#g139)"/>
<path d="M384.6 1046.2L305 1828.9" fill="none" stroke="#0a1c0a" stroke-opacity="0.95" stroke-width="2.4"/>
<path d="M631.9 1046.2L573 1828.9" fill="none" stroke="#0a1c0a" stroke-opacity="0.95" stroke-width="2.4"/>
<path d="M880.4 1046.2L843.5 1828.9" fill="none" stroke="#0a1c0a" stroke-opacity="0.95" stroke-width="2.4"/>
<line x1="303" y1="1044.1" x2="1090" y2="1044.1" stroke="#c6c4c2" stroke-width="2.6"/>
<line x1="305" y1="1048.8" x2="1088.6" y2="1048.8" stroke="#000" stroke-opacity="0.22" stroke-width="2"/>
<line x1="303.6" y1="1046.6" x2="1090" y2="1046.6" stroke="#36444a" stroke-width="2.4"/>
<line x1="305" y1="1045.4" x2="305" y2="1830.5" stroke="#2e3236" stroke-width="3"/>
<line x1="303.6" y1="1831.5" x2="1090" y2="1831.5" stroke="#d4d4d4" stroke-width="1.6"/>
<line x1="303.5" y1="1828.9" x2="1090" y2="1828.9" stroke="#34383a" stroke-width="3.4"/>
<line x1="1090.8" y1="1045.2" x2="1090.8" y2="1830.5" stroke="#d0d0d0" stroke-width="1.6"/>
<line x1="1086.3" y1="1047.2" x2="1086.3" y2="1827.9" stroke="#000" stroke-opacity="0.2" stroke-width="2"/>
<line x1="1088.6" y1="1045.4" x2="1088.6" y2="1830.5" stroke="#303a3e" stroke-width="2.8"/>
<text x="300.5" y="1887" font-size="56.3" text-anchor="middle" fill="#1a1a1a">300</text>
<line x1="435.6" y1="1808.9" x2="435.6" y2="1832.9" stroke="#d2d4d6" stroke-opacity="0.75" stroke-width="6"/>
<line x1="435.6" y1="1809.9" x2="435.6" y2="1830.3" stroke="#565c66" stroke-width="3.4"/>
<text x="431.1" y="1887" font-size="56.3" text-anchor="middle" fill="#1a1a1a">400</text>
<line x1="566.2" y1="1808.9" x2="566.2" y2="1832.9" stroke="#d2d4d6" stroke-opacity="0.75" stroke-width="6"/>
<line x1="566.2" y1="1809.9" x2="566.2" y2="1830.3" stroke="#565c66" stroke-width="3.4"/>
<text x="561.7" y="1887" font-size="56.3" text-anchor="middle" fill="#1a1a1a">500</text>
<line x1="696.8" y1="1808.9" x2="696.8" y2="1832.9" stroke="#d2d4d6" stroke-opacity="0.75" stroke-width="6"/>
<line x1="696.8" y1="1809.9" x2="696.8" y2="1830.3" stroke="#565c66" stroke-width="3.4"/>
<text x="692.3" y="1887" font-size="56.3" text-anchor="middle" fill="#1a1a1a">600</text>
<line x1="827.4" y1="1808.9" x2="827.4" y2="1832.9" stroke="#d2d4d6" stroke-opacity="0.75" stroke-width="6"/>
<line x1="827.4" y1="1809.9" x2="827.4" y2="1830.3" stroke="#565c66" stroke-width="3.4"/>
<text x="822.9" y="1887" font-size="56.3" text-anchor="middle" fill="#1a1a1a">700</text>
<line x1="958" y1="1808.9" x2="958" y2="1832.9" stroke="#d2d4d6" stroke-opacity="0.75" stroke-width="6"/>
<line x1="958" y1="1809.9" x2="958" y2="1830.3" stroke="#565c66" stroke-width="3.4"/>
<text x="953.5" y="1887" font-size="56.3" text-anchor="middle" fill="#1a1a1a">800</text>
<text x="1084.1" y="1887" font-size="56.3" text-anchor="middle" fill="#1a1a1a">900</text>
<text x="284" y="1840.8" font-size="56.3" text-anchor="end" fill="#1a1a1a">1.0</text>
<line x1="302" y1="1633.2" x2="322" y2="1633.2" stroke="#5c626a" stroke-width="2.8"/>
<text x="284" y="1645.8" font-size="56.3" text-anchor="end" fill="#1a1a1a">1.3</text>
<line x1="302" y1="1437.6" x2="322" y2="1437.6" stroke="#5c626a" stroke-width="2.8"/>
<text x="284" y="1452.4" font-size="56.3" text-anchor="end" fill="#1a1a1a">1.6</text>
<line x1="302" y1="1241.9" x2="322" y2="1241.9" stroke="#5c626a" stroke-width="2.8"/>
<text x="284" y="1258.6" font-size="56.3" text-anchor="end" fill="#1a1a1a">1.9</text>
<text x="284" y="1064.6" font-size="56.3" text-anchor="end" fill="#1a1a1a">2.2</text>
<rect x="318.8" y="1391.1" width="101.4" height="46.4" fill="#fff"/>
<text x="368" y="1432.6" font-size="56.3" text-anchor="middle" fill="#1a1a1a">200</text>
<rect x="548.6" y="1397.8" width="102.3" height="46.6" fill="#fff"/>
<text x="598.2" y="1439.5" font-size="56.3" text-anchor="middle" fill="#1a1a1a">150</text>
<rect x="811.5" y="1397.8" width="102.5" height="46.8" fill="#fff"/>
<text x="861.2" y="1439.7" font-size="56.3" text-anchor="middle" fill="#1a1a1a">100</text>
<text x="627.5" y="1013.1" font-size="56.3" text-anchor="start" fill="#1a1a1a"><tspan font-style="italic">E</tspan>/GPa</text>
<text x="659.4" y="1950.6" font-size="56.3" text-anchor="start" fill="#1a1a1a"><tspan font-style="italic">T</tspan>/K</text>
<text x="168" y="1432" font-size="56.3" text-anchor="middle" fill="#1a1a1a" transform="rotate(-90 168 1432)"><tspan font-style="italic">R</tspan>/%</text>
<text x="126" y="1014.6" font-size="56.3" text-anchor="start" fill="#1a1a1a">(d)</text>
<circle cx="1088" cy="1046.5" r="7" fill="#b01c24" stroke="#5a1016" stroke-width="1.6"/>
<circle cx="1087.5" cy="1438.3" r="7" fill="#b01c24" stroke="#5a1016" stroke-width="1.6"/>
<circle cx="566.5" cy="1829.5" r="7" fill="#b01c24" stroke="#5a1016" stroke-width="1.6"/>
<text x="1055" y="1452.4" font-size="56.3" text-anchor="middle" fill="#ffffff">2</text>
<rect x="1342.7" y="1038.6" width="827" height="7.4" fill="url(#g140)"/>
<rect x="1342.7" y="1046" width="827" height="7" fill="url(#g141)"/>
<rect x="1342.7" y="1053" width="827" height="7" fill="url(#g142)"/>
<rect x="1342.7" y="1060" width="827" height="7" fill="url(#g143)"/>
<rect x="1342.7" y="1067" width="827" height="8" fill="url(#g144)"/>
<rect x="1342.7" y="1075" width="827" height="7" fill="url(#g145)"/>
<rect x="1342.7" y="1082" width="827" height="7" fill="url(#g146)"/>
<rect x="1342.7" y="1089" width="827" height="7" fill="url(#g147)"/>
<rect x="1342.7" y="1096" width="827" height="7" fill="url(#g148)"/>
<rect x="1342.7" y="1103" width="827" height="8" fill="url(#g149)"/>
<rect x="1342.7" y="1111" width="827" height="7" fill="url(#g150)"/>
<rect x="1342.7" y="1118" width="827" height="7" fill="url(#g151)"/>
<rect x="1342.7" y="1125" width="827" height="7" fill="url(#g152)"/>
<rect x="1342.7" y="1132" width="827" height="7" fill="url(#g153)"/>
<rect x="1342.7" y="1139" width="827" height="7" fill="url(#g154)"/>
<rect x="1342.7" y="1146" width="827" height="8" fill="url(#g155)"/>
<rect x="1342.7" y="1154" width="827" height="7" fill="url(#g156)"/>
<rect x="1342.7" y="1161" width="827" height="7" fill="url(#g157)"/>
<rect x="1342.7" y="1168" width="827" height="7" fill="url(#g158)"/>
<rect x="1342.7" y="1175" width="827" height="7" fill="url(#g159)"/>
<rect x="1342.7" y="1182" width="827" height="8" fill="url(#g160)"/>
<rect x="1342.7" y="1190" width="827" height="7" fill="url(#g161)"/>
<rect x="1342.7" y="1197" width="827" height="7" fill="url(#g162)"/>
<rect x="1342.7" y="1204" width="827" height="7" fill="url(#g163)"/>
<rect x="1342.7" y="1211" width="827" height="7" fill="url(#g164)"/>
<rect x="1342.7" y="1218" width="827" height="8" fill="url(#g165)"/>
<rect x="1342.7" y="1226" width="827" height="7" fill="url(#g166)"/>
<rect x="1342.7" y="1233" width="827" height="7" fill="url(#g167)"/>
<rect x="1342.7" y="1240" width="827" height="7" fill="url(#g168)"/>
<rect x="1342.7" y="1247" width="827" height="7" fill="url(#g169)"/>
<rect x="1342.7" y="1254" width="827" height="8" fill="url(#g170)"/>
<rect x="1342.7" y="1262" width="827" height="7" fill="url(#g171)"/>
<rect x="1342.7" y="1269" width="827" height="7" fill="url(#g172)"/>
<rect x="1342.7" y="1276" width="827" height="7" fill="url(#g173)"/>
<rect x="1342.7" y="1283" width="827" height="7" fill="url(#g174)"/>
<rect x="1342.7" y="1290" width="827" height="7" fill="url(#g175)"/>
<rect x="1342.7" y="1297" width="827" height="8" fill="url(#g176)"/>
<rect x="1342.7" y="1305" width="827" height="7" fill="url(#g177)"/>
<rect x="1342.7" y="1312" width="827" height="7" fill="url(#g178)"/>
<rect x="1342.7" y="1319" width="827" height="7" fill="url(#g179)"/>
<rect x="1342.7" y="1326" width="827" height="7" fill="url(#g180)"/>
<rect x="1342.7" y="1333" width="827" height="8" fill="url(#g181)"/>
<rect x="1342.7" y="1341" width="827" height="7" fill="url(#g182)"/>
<rect x="1342.7" y="1348" width="827" height="7" fill="url(#g183)"/>
<rect x="1342.7" y="1355" width="827" height="7" fill="url(#g184)"/>
<rect x="1342.7" y="1362" width="827" height="7" fill="url(#g185)"/>
<rect x="1342.7" y="1369" width="827" height="8" fill="url(#g186)"/>
<rect x="1342.7" y="1377" width="827" height="7" fill="url(#g187)"/>
<rect x="1342.7" y="1384" width="827" height="7" fill="url(#g188)"/>
<rect x="1342.7" y="1391" width="827" height="7" fill="url(#g189)"/>
<rect x="1342.7" y="1398" width="827" height="7" fill="url(#g190)"/>
<rect x="1342.7" y="1405" width="827" height="8" fill="url(#g191)"/>
<rect x="1342.7" y="1413" width="827" height="7" fill="url(#g192)"/>
<rect x="1342.7" y="1420" width="827" height="7" fill="url(#g193)"/>
<rect x="1342.7" y="1427" width="827" height="7" fill="url(#g194)"/>
<rect x="1342.7" y="1434" width="827" height="7" fill="url(#g195)"/>
<rect x="1342.7" y="1441" width="827" height="7" fill="url(#g196)"/>
<rect x="1342.7" y="1448" width="827" height="8" fill="url(#g197)"/>
<rect x="1342.7" y="1456" width="827" height="7" fill="url(#g198)"/>
<rect x="1342.7" y="1463" width="827" height="7" fill="url(#g199)"/>
<rect x="1342.7" y="1470" width="827" height="7" fill="url(#g200)"/>
<rect x="1342.7" y="1477" width="827" height="7" fill="url(#g201)"/>
<rect x="1342.7" y="1484" width="827" height="8" fill="url(#g202)"/>
<rect x="1342.7" y="1492" width="827" height="7" fill="url(#g203)"/>
<rect x="1342.7" y="1499" width="827" height="7" fill="url(#g204)"/>
<rect x="1342.7" y="1506" width="827" height="7" fill="url(#g205)"/>
<rect x="1342.7" y="1513" width="827" height="7" fill="url(#g206)"/>
<rect x="1342.7" y="1520" width="827" height="8" fill="url(#g207)"/>
<rect x="1342.7" y="1528" width="827" height="7" fill="url(#g208)"/>
<rect x="1342.7" y="1535" width="827" height="7" fill="url(#g209)"/>
<rect x="1342.7" y="1542" width="827" height="7" fill="url(#g210)"/>
<rect x="1342.7" y="1549" width="827" height="7" fill="url(#g211)"/>
<rect x="1342.7" y="1556" width="827" height="8" fill="url(#g212)"/>
<rect x="1342.7" y="1564" width="827" height="7" fill="url(#g213)"/>
<rect x="1342.7" y="1571" width="827" height="7" fill="url(#g214)"/>
<rect x="1342.7" y="1578" width="827" height="7" fill="url(#g215)"/>
<rect x="1342.7" y="1585" width="827" height="7" fill="url(#g216)"/>
<rect x="1342.7" y="1592" width="827" height="7" fill="url(#g217)"/>
<rect x="1342.7" y="1599" width="827" height="8" fill="url(#g218)"/>
<rect x="1342.7" y="1607" width="827" height="7" fill="url(#g219)"/>
<rect x="1342.7" y="1614" width="827" height="7" fill="url(#g220)"/>
<rect x="1342.7" y="1621" width="827" height="7" fill="url(#g221)"/>
<rect x="1342.7" y="1628" width="827" height="7" fill="url(#g222)"/>
<rect x="1342.7" y="1635" width="827" height="8" fill="url(#g223)"/>
<rect x="1342.7" y="1643" width="827" height="7" fill="url(#g224)"/>
<rect x="1342.7" y="1650" width="827" height="7" fill="url(#g225)"/>
<rect x="1342.7" y="1657" width="827" height="7" fill="url(#g226)"/>
<rect x="1342.7" y="1664" width="827" height="7" fill="url(#g227)"/>
<rect x="1342.7" y="1671" width="827" height="8" fill="url(#g228)"/>
<rect x="1342.7" y="1679" width="827" height="7" fill="url(#g229)"/>
<rect x="1342.7" y="1686" width="827" height="7" fill="url(#g230)"/>
<rect x="1342.7" y="1693" width="827" height="7" fill="url(#g231)"/>
<rect x="1342.7" y="1700" width="827" height="7" fill="url(#g232)"/>
<rect x="1342.7" y="1707" width="827" height="8" fill="url(#g233)"/>
<rect x="1342.7" y="1715" width="827" height="7" fill="url(#g234)"/>
<rect x="1342.7" y="1722" width="827" height="7" fill="url(#g235)"/>
<rect x="1342.7" y="1729" width="827" height="7" fill="url(#g236)"/>
<rect x="1342.7" y="1736" width="827" height="7" fill="url(#g237)"/>
<rect x="1342.7" y="1743" width="827" height="7" fill="url(#g238)"/>
<rect x="1342.7" y="1750" width="827" height="8" fill="url(#g239)"/>
<rect x="1342.7" y="1758" width="827" height="7" fill="url(#g240)"/>
<rect x="1342.7" y="1765" width="827" height="7" fill="url(#g241)"/>
<rect x="1342.7" y="1772" width="827" height="7" fill="url(#g242)"/>
<rect x="1342.7" y="1779" width="827" height="7" fill="url(#g243)"/>
<rect x="1342.7" y="1786" width="827" height="8" fill="url(#g244)"/>
<rect x="1342.7" y="1794" width="827" height="7" fill="url(#g245)"/>
<rect x="1342.7" y="1801" width="827" height="7" fill="url(#g246)"/>
<rect x="1342.7" y="1808" width="827" height="7" fill="url(#g247)"/>
<rect x="1342.7" y="1815" width="827" height="7" fill="url(#g248)"/>
<rect x="1342.7" y="1822" width="827" height="7.6" fill="url(#g249)"/>
<rect x="1342.7" y="1038.6" width="827" height="791" fill="#000" fill-opacity="0.045"/>
<path d="M1434 1038.6C1430.7 1065.5 1421.1 1142.3 1414 1200C1406.9 1257.7 1399 1313.2 1391.3 1385C1383.6 1456.8 1375.3 1556.9 1368 1631C1360.7 1705.1 1350.8 1796.5 1347.4 1829.6" fill="none" stroke="#0a1c0a" stroke-opacity="0.95" stroke-width="2.4"/>
<path d="M1750 1038.6C1743.3 1065.5 1723.5 1142.4 1710 1200C1696.5 1257.6 1683.7 1312.3 1669 1384C1654.3 1455.7 1635.3 1555.7 1622 1630C1608.7 1704.3 1594.7 1796.3 1589.2 1829.6" fill="none" stroke="#0a1c0a" stroke-opacity="0.95" stroke-width="2.4"/>
<path d="M2065.6 1038.6C2058.7 1056.3 2037.5 1108.2 2024.1 1144.8C2010.7 1181.4 1998.1 1218.7 1985.3 1258.2C1972.5 1297.7 1962.8 1328.7 1947 1382C1931.2 1435.3 1909.7 1503.6 1890.2 1578.2C1870.7 1652.8 1840 1787.7 1830 1829.6" fill="none" stroke="#0a1c0a" stroke-opacity="0.95" stroke-width="2.4"/>
<path d="M2170.4 1530.6C2164 1547.8 2148.7 1583.8 2132 1633.6C2115.3 1683.4 2080.8 1796.9 2070.5 1829.6" fill="none" stroke="#0a1c0a" stroke-opacity="0.95" stroke-width="2.4"/>
<line x1="1340.7" y1="1036.5" x2="2171.1" y2="1036.5" stroke="#c6c4c2" stroke-width="2.6"/>
<line x1="1342.7" y1="1041.2" x2="2169.7" y2="1041.2" stroke="#000" stroke-opacity="0.22" stroke-width="2"/>
<line x1="1341.3" y1="1039" x2="2171.1" y2="1039" stroke="#36444a" stroke-width="2.4"/>
<line x1="1342.7" y1="1037.8" x2="1342.7" y2="1831.2" stroke="#2e3236" stroke-width="3"/>
<line x1="1341.3" y1="1832.2" x2="2171.1" y2="1832.2" stroke="#d4d4d4" stroke-width="1.6"/>
<line x1="1341.2" y1="1829.6" x2="2171.1" y2="1829.6" stroke="#34383a" stroke-width="3.4"/>
<line x1="2171.9" y1="1037.6" x2="2171.9" y2="1831.2" stroke="#d0d0d0" stroke-width="1.6"/>
<line x1="2167.4" y1="1039.6" x2="2167.4" y2="1828.6" stroke="#000" stroke-opacity="0.2" stroke-width="2"/>
<line x1="2169.7" y1="1037.8" x2="2169.7" y2="1831.2" stroke="#303a3e" stroke-width="2.8"/>
<text x="1345.2" y="1887.7" font-size="56.3" text-anchor="middle" fill="#1a1a1a">300</text>
<line x1="1480.5" y1="1809.6" x2="1480.5" y2="1833.6" stroke="#d2d4d6" stroke-opacity="0.75" stroke-width="6"/>
<line x1="1480.5" y1="1810.6" x2="1480.5" y2="1831" stroke="#565c66" stroke-width="3.4"/>
<text x="1483" y="1887.7" font-size="56.3" text-anchor="middle" fill="#1a1a1a">400</text>
<line x1="1618.4" y1="1809.6" x2="1618.4" y2="1833.6" stroke="#d2d4d6" stroke-opacity="0.75" stroke-width="6"/>
<line x1="1618.4" y1="1810.6" x2="1618.4" y2="1831" stroke="#565c66" stroke-width="3.4"/>
<text x="1620.9" y="1887.7" font-size="56.3" text-anchor="middle" fill="#1a1a1a">500</text>
<line x1="1756.2" y1="1809.6" x2="1756.2" y2="1833.6" stroke="#d2d4d6" stroke-opacity="0.75" stroke-width="6"/>
<line x1="1756.2" y1="1810.6" x2="1756.2" y2="1831" stroke="#565c66" stroke-width="3.4"/>
<text x="1758.7" y="1887.7" font-size="56.3" text-anchor="middle" fill="#1a1a1a">600</text>
<line x1="1894" y1="1809.6" x2="1894" y2="1833.6" stroke="#d2d4d6" stroke-opacity="0.75" stroke-width="6"/>
<line x1="1894" y1="1810.6" x2="1894" y2="1831" stroke="#565c66" stroke-width="3.4"/>
<text x="1896.5" y="1887.7" font-size="56.3" text-anchor="middle" fill="#1a1a1a">700</text>
<line x1="2031.9" y1="1809.6" x2="2031.9" y2="1833.6" stroke="#d2d4d6" stroke-opacity="0.75" stroke-width="6"/>
<line x1="2031.9" y1="1810.6" x2="2031.9" y2="1831" stroke="#565c66" stroke-width="3.4"/>
<text x="2034.4" y="1887.7" font-size="56.3" text-anchor="middle" fill="#1a1a1a">800</text>
<text x="2172.2" y="1887.7" font-size="56.3" text-anchor="middle" fill="#1a1a1a">900</text>
<text x="1321.7" y="1840" font-size="56.3" text-anchor="end" fill="#1a1a1a">1</text>
<line x1="1339.7" y1="1631.8" x2="1359.7" y2="1631.8" stroke="#5c626a" stroke-width="2.8"/>
<text x="1321.7" y="1644.6" font-size="56.3" text-anchor="end" fill="#1a1a1a">2</text>
<line x1="1339.7" y1="1434.1" x2="1359.7" y2="1434.1" stroke="#5c626a" stroke-width="2.8"/>
<text x="1321.7" y="1447.7" font-size="56.3" text-anchor="end" fill="#1a1a1a">3</text>
<line x1="1339.7" y1="1236.3" x2="1359.7" y2="1236.3" stroke="#5c626a" stroke-width="2.8"/>
<text x="1321.7" y="1254.5" font-size="56.3" text-anchor="end" fill="#1a1a1a">4</text>
<text x="1321.7" y="1057.7" font-size="56.3" text-anchor="end" fill="#1a1a1a">5</text>
<rect x="1360.5" y="1391.1" width="102.2" height="46.4" fill="#fff"/>
<text x="1410.1" y="1432.6" font-size="56.3" text-anchor="middle" fill="#1a1a1a">200</text>
<rect x="1610.1" y="1388.2" width="102.5" height="47.3" fill="#fff"/>
<text x="1659.8" y="1430.6" font-size="56.3" text-anchor="middle" fill="#1a1a1a">150</text>
<rect x="1880.4" y="1388.6" width="102.4" height="46.9" fill="#fff"/>
<text x="1930.1" y="1430.6" font-size="56.3" text-anchor="middle" fill="#1a1a1a">100</text>
<rect x="2049.9" y="1638.4" width="103.1" height="46.8" fill="#fff"/>
<text x="2099.9" y="1680.3" font-size="56.3" text-anchor="middle" fill="#1a1a1a">50</text>
<text x="1684.6" y="1013.1" font-size="56.3" text-anchor="start" fill="#1a1a1a"><tspan font-style="italic">E</tspan>/GPa</text>
<text x="1716.5" y="1950.6" font-size="56.3" text-anchor="start" fill="#1a1a1a"><tspan font-style="italic">T</tspan>/K</text>
<text x="1250" y="1429" font-size="56.3" text-anchor="middle" fill="#1a1a1a" transform="rotate(-90 1250 1429)"><tspan font-style="italic">V</tspan>/%</text>
<text x="1208" y="1016.1" font-size="56.3" text-anchor="start" fill="#1a1a1a">(e)</text>
<circle cx="1618.4" cy="1038.8" r="8" fill="#b01c24" stroke="#5a1016" stroke-width="1.6"/>
<circle cx="2169.8" cy="1434.3" r="8" fill="#b01c24" stroke="#5a1016" stroke-width="1.6"/>
<circle cx="2169.8" cy="1830.4" r="8" fill="#b01c24" stroke="#5a1016" stroke-width="1.6"/>
<path d="M1342.7 1623.7A8 8 0 0 0 1342.7 1639.7Z" fill="#b01c24" stroke="#5a1016" stroke-width="1.6"/>
<text x="1618" y="1092.4" font-size="56.3" text-anchor="middle" fill="#1a1a1a">2</text>
<text x="1369" y="1641.9" font-size="56.3" text-anchor="middle" fill="#1a1a1a">2</text>
<text x="2137.3" y="1451.2" font-size="56.3" text-anchor="middle" fill="#ffffff">2</text>
<rect x="2427" y="1045" width="755" height="16" fill="url(#g250)"/>
<rect x="2427" y="1061" width="755" height="17" fill="url(#g251)"/>
<rect x="2427" y="1078" width="755" height="16" fill="url(#g252)"/>
<rect x="2427" y="1094" width="755" height="16" fill="url(#g253)"/>
<rect x="2427" y="1110" width="755" height="17" fill="url(#g254)"/>
<rect x="2427" y="1127" width="755" height="16" fill="url(#g255)"/>
<rect x="2427" y="1143" width="755" height="17" fill="url(#g256)"/>
<rect x="2427" y="1160" width="755" height="16" fill="url(#g257)"/>
<rect x="2427" y="1176" width="755" height="16" fill="url(#g258)"/>
<rect x="2427" y="1192" width="755" height="17" fill="url(#g259)"/>
<rect x="2427" y="1209" width="755" height="16" fill="url(#g260)"/>
<rect x="2427" y="1225" width="755" height="17" fill="url(#g261)"/>
<rect x="2427" y="1242" width="755" height="16" fill="url(#g262)"/>
<rect x="2427" y="1258" width="755" height="16" fill="url(#g263)"/>
<rect x="2427" y="1274" width="755" height="17" fill="url(#g264)"/>
<rect x="2427" y="1291" width="755" height="16" fill="url(#g265)"/>
<rect x="2427" y="1307" width="755" height="16" fill="url(#g266)"/>
<rect x="2427" y="1323" width="755" height="17" fill="url(#g267)"/>
<rect x="2427" y="1340" width="755" height="16" fill="url(#g268)"/>
<rect x="2427" y="1356" width="755" height="16" fill="url(#g269)"/>
<rect x="2427" y="1372" width="755" height="17" fill="url(#g270)"/>
<rect x="2427" y="1389" width="755" height="16" fill="url(#g271)"/>
<rect x="2427" y="1405" width="755" height="17" fill="url(#g272)"/>
<rect x="2427" y="1422" width="755" height="16" fill="url(#g273)"/>
<rect x="2427" y="1438" width="755" height="16" fill="url(#g274)"/>
<rect x="2427" y="1454" width="755" height="17" fill="url(#g275)"/>
<rect x="2427" y="1471" width="755" height="16" fill="url(#g276)"/>
<rect x="2427" y="1487" width="755" height="17" fill="url(#g277)"/>
<rect x="2427" y="1504" width="755" height="16" fill="url(#g278)"/>
<rect x="2427" y="1520" width="755" height="16" fill="url(#g279)"/>
<rect x="2427" y="1536" width="755" height="17" fill="url(#g280)"/>
<rect x="2427" y="1553" width="755" height="16" fill="url(#g281)"/>
<rect x="2427" y="1569" width="755" height="16" fill="url(#g282)"/>
<rect x="2427" y="1585" width="755" height="17" fill="url(#g283)"/>
<rect x="2427" y="1602" width="755" height="16" fill="url(#g284)"/>
<rect x="2427" y="1618" width="755" height="16" fill="url(#g285)"/>
<rect x="2427" y="1634" width="755" height="17" fill="url(#g286)"/>
<rect x="2427" y="1651" width="755" height="16" fill="url(#g287)"/>
<rect x="2427" y="1667" width="755" height="17" fill="url(#g288)"/>
<rect x="2427" y="1684" width="755" height="16" fill="url(#g289)"/>
<rect x="2427" y="1700" width="755" height="16" fill="url(#g290)"/>
<rect x="2427" y="1716" width="755" height="17" fill="url(#g291)"/>
<rect x="2427" y="1733" width="755" height="16" fill="url(#g292)"/>
<rect x="2427" y="1749" width="755" height="17" fill="url(#g293)"/>
<rect x="2427" y="1766" width="755" height="16" fill="url(#g294)"/>
<rect x="2427" y="1782" width="755" height="16" fill="url(#g295)"/>
<rect x="2427" y="1798" width="755" height="17" fill="url(#g296)"/>
<rect x="2427" y="1815" width="755" height="16" fill="url(#g297)"/>
<path d="M2861.1 1045C2877.6 1051.6 2930 1072.9 2960 1084.8C2990 1096.7 3004 1103.1 3041 1116.6C3078 1130.1 3158.5 1157.6 3182 1165.8" fill="none" stroke="#0a1c0a" stroke-opacity="0.95" stroke-width="2.4"/>
<path d="M2427 1102.6C2455.8 1114.7 2547.3 1153.7 2600 1175C2652.7 1196.3 2709.2 1217.6 2743 1230.7C2776.8 1243.8 2783.2 1246.1 2802.7 1253.4C2822.2 1260.7 2831.6 1264.7 2860 1274.4C2888.4 1284.1 2919.2 1295 2972.9 1311.7C3026.6 1328.5 3147.2 1364.4 3182 1374.9" fill="none" stroke="#0a1c0a" stroke-opacity="0.95" stroke-width="2.4"/>
<path d="M2427 1365.2C2464 1377.7 2576.8 1416.9 2649 1440C2721.2 1463.1 2771.2 1479.6 2860 1503.6C2948.8 1527.6 3128.3 1570.7 3182 1584.1" fill="none" stroke="#0a1c0a" stroke-opacity="0.95" stroke-width="2.4"/>
<path d="M2427 1630.5C2479.8 1643.2 2676.1 1691 2743.5 1707C2810.9 1723 2811.8 1722.5 2831.2 1726.8C2850.6 1731.1 2801.5 1721.6 2860 1732.7C2918.5 1743.8 3128.3 1783.2 3182 1793.3" fill="none" stroke="#0a1c0a" stroke-opacity="0.95" stroke-width="2.4"/>
<line x1="2425" y1="1042.9" x2="3183.4" y2="1042.9" stroke="#c6c4c2" stroke-width="2.6"/>
<line x1="2427" y1="1047.6" x2="3182" y2="1047.6" stroke="#000" stroke-opacity="0.22" stroke-width="2"/>
<line x1="2425.6" y1="1045.4" x2="3183.4" y2="1045.4" stroke="#36444a" stroke-width="2.4"/>
<line x1="2427" y1="1044.2" x2="2427" y2="1832.6" stroke="#2e3236" stroke-width="3"/>
<line x1="2425.6" y1="1833.6" x2="3183.4" y2="1833.6" stroke="#d4d4d4" stroke-width="1.6"/>
<line x1="2425.5" y1="1831" x2="3183.4" y2="1831" stroke="#34383a" stroke-width="3.4"/>
<line x1="3184.2" y1="1044" x2="3184.2" y2="1832.6" stroke="#d0d0d0" stroke-width="1.6"/>
<line x1="3179.7" y1="1046" x2="3179.7" y2="1830" stroke="#000" stroke-opacity="0.2" stroke-width="2"/>
<line x1="3182" y1="1044.2" x2="3182" y2="1832.6" stroke="#303a3e" stroke-width="2.8"/>
<text x="2428.5" y="1889.1" font-size="56.3" text-anchor="middle" fill="#1a1a1a">1.0</text>
<line x1="2615.8" y1="1811" x2="2615.8" y2="1835" stroke="#d2d4d6" stroke-opacity="0.75" stroke-width="6"/>
<line x1="2615.8" y1="1812" x2="2615.8" y2="1832.4" stroke="#565c66" stroke-width="3.4"/>
<text x="2617.2" y="1889.1" font-size="56.3" text-anchor="middle" fill="#1a1a1a">1.3</text>
<line x1="2804.5" y1="1811" x2="2804.5" y2="1835" stroke="#d2d4d6" stroke-opacity="0.75" stroke-width="6"/>
<line x1="2804.5" y1="1812" x2="2804.5" y2="1832.4" stroke="#565c66" stroke-width="3.4"/>
<text x="2806" y="1889.1" font-size="56.3" text-anchor="middle" fill="#1a1a1a">1.6</text>
<line x1="2993.2" y1="1811" x2="2993.2" y2="1835" stroke="#d2d4d6" stroke-opacity="0.75" stroke-width="6"/>
<line x1="2993.2" y1="1812" x2="2993.2" y2="1832.4" stroke="#565c66" stroke-width="3.4"/>
<text x="2994.8" y="1889.1" font-size="56.3" text-anchor="middle" fill="#1a1a1a">1.9</text>
<text x="3183.5" y="1889.1" font-size="56.3" text-anchor="middle" fill="#1a1a1a">2.2</text>
<text x="2406" y="1840" font-size="56.3" text-anchor="end" fill="#1a1a1a">1</text>
<line x1="2424" y1="1634.5" x2="2444" y2="1634.5" stroke="#5c626a" stroke-width="2.8"/>
<text x="2406" y="1644.6" font-size="56.3" text-anchor="end" fill="#1a1a1a">2</text>
<line x1="2424" y1="1438" x2="2444" y2="1438" stroke="#5c626a" stroke-width="2.8"/>
<text x="2406" y="1448.5" font-size="56.3" text-anchor="end" fill="#1a1a1a">3</text>
<line x1="2424" y1="1241.5" x2="2444" y2="1241.5" stroke="#5c626a" stroke-width="2.8"/>
<text x="2406" y="1254.5" font-size="56.3" text-anchor="end" fill="#1a1a1a">4</text>
<text x="2406" y="1057.7" font-size="56.3" text-anchor="end" fill="#1a1a1a">5</text>
<rect x="2960.9" y="1068.6" width="103.7" height="47" fill="#fff"/>
<text x="3011.2" y="1110.7" font-size="56.3" text-anchor="middle" fill="#1a1a1a">150</text>
<rect x="2744" y="1205.7" width="103.4" height="47" fill="#fff"/>
<text x="2794.2" y="1247.8" font-size="56.3" text-anchor="middle" fill="#1a1a1a">140</text>
<rect x="2744.3" y="1445.4" width="102.2" height="46.8" fill="#fff"/>
<text x="2793.9" y="1487.3" font-size="56.3" text-anchor="middle" fill="#1a1a1a">130</text>
<rect x="2744.3" y="1680.4" width="102.2" height="46.8" fill="#fff"/>
<text x="2793.9" y="1722.3" font-size="56.3" text-anchor="middle" fill="#1a1a1a">120</text>
<text x="2733.3" y="1013.1" font-size="56.3" text-anchor="start" fill="#1a1a1a"><tspan font-style="italic">E</tspan>/GPa</text>
<text x="2757.6" y="1950.6" font-size="56.3" text-anchor="start" fill="#1a1a1a"><tspan font-style="italic">R</tspan>/%</text>
<text x="2334" y="1431" font-size="56.3" text-anchor="middle" fill="#1a1a1a" transform="rotate(-90 2334 1431)"><tspan font-style="italic">V</tspan>/%</text>
<text x="2292.4" y="1014.6" font-size="56.3" text-anchor="start" fill="#1a1a1a">(f)</text>
</svg>
</body></html>
